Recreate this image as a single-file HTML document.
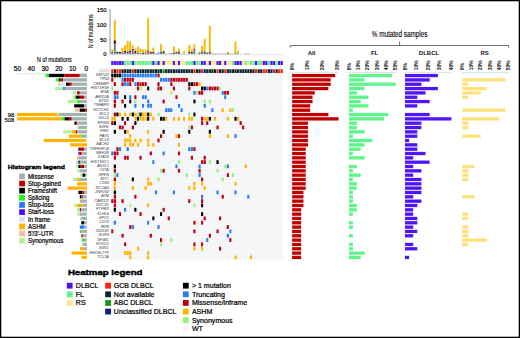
<!DOCTYPE html><html><head><meta charset="utf-8"><title>Mutational landscape</title><style>
html,body{margin:0;padding:0;background:#fff;}
#fig{position:relative;width:520px;height:338px;overflow:hidden;background:#fff;}
svg{position:absolute;left:0;top:0;}
text{font-family:"Liberation Sans", sans-serif;}
</style></head><body><div id="fig">
<svg width="520" height="338" viewBox="0 0 520 338">
<rect x="111.00" y="69.00" width="171.99" height="190.52" fill="#fbfcfd"/>
<rect x="111.20" y="69.25" width="2.22" height="3.83" fill="#ff2410"/>
<rect x="113.77" y="69.25" width="2.22" height="3.83" fill="#0e2828"/>
<rect x="116.33" y="69.25" width="2.22" height="3.83" fill="#ff2410"/>
<rect x="118.90" y="69.25" width="2.22" height="3.83" fill="#ff2410"/>
<rect x="121.47" y="69.25" width="2.22" height="3.83" fill="#0e2828"/>
<rect x="124.04" y="69.25" width="2.22" height="3.83" fill="#0e2828"/>
<rect x="126.60" y="69.25" width="2.22" height="3.83" fill="#0e2828"/>
<rect x="129.17" y="69.25" width="2.22" height="3.83" fill="#0e2828"/>
<rect x="131.74" y="69.25" width="2.22" height="3.83" fill="#ff2410"/>
<rect x="134.30" y="69.25" width="2.22" height="3.83" fill="#0e2828"/>
<rect x="136.87" y="69.25" width="2.22" height="3.83" fill="#0e2828"/>
<rect x="139.44" y="69.25" width="2.22" height="3.83" fill="#0e2828"/>
<rect x="142.00" y="69.25" width="2.22" height="3.83" fill="#0e2828"/>
<rect x="144.57" y="69.25" width="2.22" height="3.83" fill="#0e2828"/>
<rect x="147.14" y="69.25" width="2.22" height="3.83" fill="#0e2828"/>
<rect x="149.70" y="69.25" width="2.22" height="3.83" fill="#0e2828"/>
<rect x="152.27" y="69.25" width="2.22" height="3.83" fill="#0e2828"/>
<rect x="154.84" y="69.25" width="2.22" height="3.83" fill="#0e2828"/>
<rect x="157.41" y="69.25" width="2.22" height="3.83" fill="#0e2828"/>
<rect x="159.97" y="69.25" width="2.22" height="3.83" fill="#0e2828"/>
<rect x="162.54" y="69.25" width="2.22" height="3.83" fill="#179a17"/>
<rect x="165.11" y="69.25" width="2.22" height="3.83" fill="#0e2828"/>
<rect x="167.67" y="69.25" width="2.22" height="3.83" fill="#0e2828"/>
<rect x="170.24" y="69.25" width="2.22" height="3.83" fill="#0e2828"/>
<rect x="172.81" y="69.25" width="2.22" height="3.83" fill="#0e2828"/>
<rect x="175.38" y="69.25" width="2.22" height="3.83" fill="#0e2828"/>
<rect x="177.94" y="69.25" width="2.22" height="3.83" fill="#0a1e90"/>
<rect x="180.51" y="69.25" width="2.22" height="3.83" fill="#0e2828"/>
<rect x="183.08" y="69.25" width="2.22" height="3.83" fill="#0e2828"/>
<rect x="185.64" y="69.25" width="2.22" height="3.83" fill="#0e2828"/>
<rect x="188.21" y="69.25" width="2.22" height="3.83" fill="#0e2828"/>
<rect x="190.78" y="69.25" width="2.22" height="3.83" fill="#0e2828"/>
<rect x="193.34" y="69.25" width="2.22" height="3.83" fill="#ff2410"/>
<rect x="195.91" y="69.25" width="2.22" height="3.83" fill="#0e2828"/>
<rect x="198.48" y="69.25" width="2.22" height="3.83" fill="#0e2828"/>
<rect x="201.04" y="69.25" width="2.22" height="3.83" fill="#ff2410"/>
<rect x="203.61" y="69.25" width="2.22" height="3.83" fill="#0a1e90"/>
<rect x="206.18" y="69.25" width="2.22" height="3.83" fill="#0e2828"/>
<rect x="208.75" y="69.25" width="2.22" height="3.83" fill="#0e2828"/>
<rect x="211.31" y="69.25" width="2.22" height="3.83" fill="#0e2828"/>
<rect x="213.88" y="69.25" width="2.22" height="3.83" fill="#0e2828"/>
<rect x="216.45" y="69.25" width="2.22" height="3.83" fill="#ff2410"/>
<rect x="219.01" y="69.25" width="2.22" height="3.83" fill="#0e2828"/>
<rect x="221.58" y="69.25" width="2.22" height="3.83" fill="#0e2828"/>
<rect x="224.15" y="69.25" width="2.22" height="3.83" fill="#ff2410"/>
<rect x="226.72" y="69.25" width="2.22" height="3.83" fill="#0e2828"/>
<rect x="229.28" y="69.25" width="2.22" height="3.83" fill="#0e2828"/>
<rect x="231.85" y="69.25" width="2.22" height="3.83" fill="#0e2828"/>
<rect x="234.42" y="69.25" width="2.22" height="3.83" fill="#0e2828"/>
<rect x="236.98" y="69.25" width="2.22" height="3.83" fill="#0e2828"/>
<rect x="239.55" y="69.25" width="2.22" height="3.83" fill="#0e2828"/>
<rect x="242.12" y="69.25" width="2.22" height="3.83" fill="#0e2828"/>
<rect x="244.68" y="69.25" width="2.22" height="3.83" fill="#0e2828"/>
<rect x="247.25" y="69.25" width="2.22" height="3.83" fill="#0e2828"/>
<rect x="249.82" y="69.25" width="2.22" height="3.83" fill="#0e2828"/>
<rect x="252.38" y="69.25" width="2.22" height="3.83" fill="#0e2828"/>
<rect x="254.95" y="69.25" width="2.22" height="3.83" fill="#ff2410"/>
<rect x="257.52" y="69.25" width="2.22" height="3.83" fill="#0e2828"/>
<rect x="260.09" y="69.25" width="2.22" height="3.83" fill="#0e2828"/>
<rect x="262.65" y="69.25" width="2.22" height="3.83" fill="#ff2410"/>
<rect x="265.22" y="69.25" width="2.22" height="3.83" fill="#ff2410"/>
<rect x="267.79" y="69.25" width="2.22" height="3.83" fill="#0e2828"/>
<rect x="270.35" y="69.25" width="2.22" height="3.83" fill="#0a1e90"/>
<rect x="272.92" y="69.25" width="2.22" height="3.83" fill="#ff2410"/>
<rect x="275.49" y="69.25" width="2.22" height="3.83" fill="#0e2828"/>
<rect x="278.06" y="69.25" width="2.22" height="3.83" fill="#ff2410"/>
<rect x="280.62" y="69.25" width="2.22" height="3.83" fill="#ff2410"/>
<rect x="111.20" y="73.58" width="2.22" height="3.83" fill="#000000"/>
<rect x="113.77" y="73.58" width="2.22" height="3.83" fill="#000000"/>
<rect x="116.33" y="73.58" width="2.22" height="3.83" fill="#000000"/>
<rect x="118.90" y="73.58" width="2.22" height="3.83" fill="#000000"/>
<rect x="121.47" y="73.58" width="2.22" height="3.83" fill="#2a7cf2"/>
<rect x="124.04" y="73.58" width="2.22" height="3.83" fill="#2a7cf2"/>
<rect x="126.60" y="73.58" width="2.22" height="3.83" fill="#2a7cf2"/>
<rect x="129.17" y="73.58" width="2.22" height="3.83" fill="#2a7cf2"/>
<rect x="131.74" y="73.58" width="2.22" height="3.83" fill="#2a7cf2"/>
<rect x="134.30" y="73.58" width="2.22" height="3.83" fill="#2a7cf2"/>
<rect x="136.87" y="73.58" width="2.22" height="3.83" fill="#2a7cf2"/>
<rect x="139.44" y="73.58" width="2.22" height="3.83" fill="#2a7cf2"/>
<rect x="142.00" y="73.58" width="2.22" height="3.83" fill="#2a7cf2"/>
<rect x="144.57" y="73.58" width="2.22" height="3.83" fill="#2a7cf2"/>
<rect x="147.14" y="73.58" width="2.22" height="3.83" fill="#2a7cf2"/>
<rect x="149.70" y="73.58" width="2.22" height="3.83" fill="#2a7cf2"/>
<rect x="152.27" y="73.58" width="2.22" height="3.83" fill="#2a7cf2"/>
<rect x="154.84" y="73.58" width="2.22" height="3.83" fill="#2a7cf2"/>
<rect x="157.41" y="73.58" width="2.22" height="3.83" fill="#bf0010"/>
<rect x="159.97" y="73.58" width="2.22" height="3.83" fill="#f2f4f6"/>
<rect x="162.54" y="73.58" width="2.22" height="3.83" fill="#f2f4f6"/>
<rect x="165.11" y="73.58" width="2.22" height="3.83" fill="#f2f4f6"/>
<rect x="167.67" y="73.58" width="2.22" height="3.83" fill="#f2f4f6"/>
<rect x="170.24" y="73.58" width="2.22" height="3.83" fill="#f2f4f6"/>
<rect x="172.81" y="73.58" width="2.22" height="3.83" fill="#f2f4f6"/>
<rect x="175.38" y="73.58" width="2.22" height="3.83" fill="#f2f4f6"/>
<rect x="177.94" y="73.58" width="2.22" height="3.83" fill="#f2f4f6"/>
<rect x="180.51" y="73.58" width="2.22" height="3.83" fill="#f2f4f6"/>
<rect x="183.08" y="73.58" width="2.22" height="3.83" fill="#f2f4f6"/>
<rect x="185.64" y="73.58" width="2.22" height="3.83" fill="#f2f4f6"/>
<rect x="188.21" y="73.58" width="2.22" height="3.83" fill="#f2f4f6"/>
<rect x="190.78" y="73.58" width="2.22" height="3.83" fill="#f2f4f6"/>
<rect x="193.34" y="73.58" width="2.22" height="3.83" fill="#f2f4f6"/>
<rect x="195.91" y="73.58" width="2.22" height="3.83" fill="#f2f4f6"/>
<rect x="198.48" y="73.58" width="2.22" height="3.83" fill="#f2f4f6"/>
<rect x="201.04" y="73.58" width="2.22" height="3.83" fill="#f2f4f6"/>
<rect x="203.61" y="73.58" width="2.22" height="3.83" fill="#f2f4f6"/>
<rect x="206.18" y="73.58" width="2.22" height="3.83" fill="#f2f4f6"/>
<rect x="208.75" y="73.58" width="2.22" height="3.83" fill="#f2f4f6"/>
<rect x="211.31" y="73.58" width="2.22" height="3.83" fill="#f2f4f6"/>
<rect x="213.88" y="73.58" width="2.22" height="3.83" fill="#f2f4f6"/>
<rect x="216.45" y="73.58" width="2.22" height="3.83" fill="#f2f4f6"/>
<rect x="219.01" y="73.58" width="2.22" height="3.83" fill="#f2f4f6"/>
<rect x="221.58" y="73.58" width="2.22" height="3.83" fill="#f2f4f6"/>
<rect x="224.15" y="73.58" width="2.22" height="3.83" fill="#f2f4f6"/>
<rect x="226.72" y="73.58" width="2.22" height="3.83" fill="#f2f4f6"/>
<rect x="229.28" y="73.58" width="2.22" height="3.83" fill="#f2f4f6"/>
<rect x="231.85" y="73.58" width="2.22" height="3.83" fill="#f2f4f6"/>
<rect x="234.42" y="73.58" width="2.22" height="3.83" fill="#f2f4f6"/>
<rect x="236.98" y="73.58" width="2.22" height="3.83" fill="#f2f4f6"/>
<rect x="239.55" y="73.58" width="2.22" height="3.83" fill="#f2f4f6"/>
<rect x="242.12" y="73.58" width="2.22" height="3.83" fill="#f2f4f6"/>
<rect x="244.68" y="73.58" width="2.22" height="3.83" fill="#f2f4f6"/>
<rect x="247.25" y="73.58" width="2.22" height="3.83" fill="#f2f4f6"/>
<rect x="249.82" y="73.58" width="2.22" height="3.83" fill="#f2f4f6"/>
<rect x="252.38" y="73.58" width="2.22" height="3.83" fill="#f2f4f6"/>
<rect x="254.95" y="73.58" width="2.22" height="3.83" fill="#f2f4f6"/>
<rect x="257.52" y="73.58" width="2.22" height="3.83" fill="#f2f4f6"/>
<rect x="260.09" y="73.58" width="2.22" height="3.83" fill="#f2f4f6"/>
<rect x="262.65" y="73.58" width="2.22" height="3.83" fill="#f2f4f6"/>
<rect x="265.22" y="73.58" width="2.22" height="3.83" fill="#f2f4f6"/>
<rect x="267.79" y="73.58" width="2.22" height="3.83" fill="#f2f4f6"/>
<rect x="270.35" y="73.58" width="2.22" height="3.83" fill="#f2f4f6"/>
<rect x="272.92" y="73.58" width="2.22" height="3.83" fill="#f2f4f6"/>
<rect x="275.49" y="73.58" width="2.22" height="3.83" fill="#f2f4f6"/>
<rect x="278.06" y="73.58" width="2.22" height="3.83" fill="#f2f4f6"/>
<rect x="280.62" y="73.58" width="2.22" height="3.83" fill="#f2f4f6"/>
<rect x="111.20" y="77.91" width="2.22" height="3.83" fill="#bf0010"/>
<rect x="113.77" y="77.91" width="2.22" height="3.83" fill="#f2f4f6"/>
<rect x="116.33" y="77.91" width="2.22" height="3.83" fill="#f2f4f6"/>
<rect x="118.90" y="77.91" width="2.22" height="3.83" fill="#f2f4f6"/>
<rect x="121.47" y="77.91" width="2.22" height="3.83" fill="#2a7cf2"/>
<rect x="124.04" y="77.91" width="2.22" height="3.83" fill="#bf0010"/>
<rect x="126.60" y="77.91" width="2.22" height="3.83" fill="#bf0010"/>
<rect x="129.17" y="77.91" width="2.22" height="3.83" fill="#bf0010"/>
<rect x="131.74" y="77.91" width="2.22" height="3.83" fill="#bf0010"/>
<rect x="134.30" y="77.91" width="2.22" height="3.83" fill="#f2f4f6"/>
<rect x="136.87" y="77.91" width="2.22" height="3.83" fill="#f2f4f6"/>
<rect x="139.44" y="77.91" width="2.22" height="3.83" fill="#f2f4f6"/>
<rect x="142.00" y="77.91" width="2.22" height="3.83" fill="#f2f4f6"/>
<rect x="144.57" y="77.91" width="2.22" height="3.83" fill="#f2f4f6"/>
<rect x="147.14" y="77.91" width="2.22" height="3.83" fill="#f2f4f6"/>
<rect x="149.70" y="77.91" width="2.22" height="3.83" fill="#f2f4f6"/>
<rect x="152.27" y="77.91" width="2.22" height="3.83" fill="#f2f4f6"/>
<rect x="154.84" y="77.91" width="2.22" height="3.83" fill="#f2f4f6"/>
<rect x="157.41" y="77.91" width="2.22" height="3.83" fill="#f2f4f6"/>
<rect x="159.97" y="77.91" width="2.22" height="3.83" fill="#2a7cf2"/>
<rect x="162.54" y="77.91" width="2.22" height="3.83" fill="#2a7cf2"/>
<rect x="165.11" y="77.91" width="2.22" height="3.83" fill="#2a7cf2"/>
<rect x="167.67" y="77.91" width="2.22" height="3.83" fill="#2a7cf2"/>
<rect x="170.24" y="77.91" width="2.22" height="3.83" fill="#bf0010"/>
<rect x="172.81" y="77.91" width="2.22" height="3.83" fill="#bf0010"/>
<rect x="175.38" y="77.91" width="2.22" height="3.83" fill="#bf0010"/>
<rect x="177.94" y="77.91" width="2.22" height="3.83" fill="#bf0010"/>
<rect x="180.51" y="77.91" width="2.22" height="3.83" fill="#bf0010"/>
<rect x="183.08" y="77.91" width="2.22" height="3.83" fill="#bf0010"/>
<rect x="185.64" y="77.91" width="2.22" height="3.83" fill="#bf0010"/>
<rect x="188.21" y="77.91" width="2.22" height="3.83" fill="#f2f4f6"/>
<rect x="190.78" y="77.91" width="2.22" height="3.83" fill="#f2f4f6"/>
<rect x="193.34" y="77.91" width="2.22" height="3.83" fill="#f2f4f6"/>
<rect x="195.91" y="77.91" width="2.22" height="3.83" fill="#f2f4f6"/>
<rect x="198.48" y="77.91" width="2.22" height="3.83" fill="#f2f4f6"/>
<rect x="201.04" y="77.91" width="2.22" height="3.83" fill="#f2f4f6"/>
<rect x="203.61" y="77.91" width="2.22" height="3.83" fill="#f2f4f6"/>
<rect x="206.18" y="77.91" width="2.22" height="3.83" fill="#f2f4f6"/>
<rect x="208.75" y="77.91" width="2.22" height="3.83" fill="#f2f4f6"/>
<rect x="211.31" y="77.91" width="2.22" height="3.83" fill="#f2f4f6"/>
<rect x="213.88" y="77.91" width="2.22" height="3.83" fill="#f2f4f6"/>
<rect x="216.45" y="77.91" width="2.22" height="3.83" fill="#f2f4f6"/>
<rect x="219.01" y="77.91" width="2.22" height="3.83" fill="#f2f4f6"/>
<rect x="221.58" y="77.91" width="2.22" height="3.83" fill="#f2f4f6"/>
<rect x="224.15" y="77.91" width="2.22" height="3.83" fill="#f2f4f6"/>
<rect x="226.72" y="77.91" width="2.22" height="3.83" fill="#f2f4f6"/>
<rect x="229.28" y="77.91" width="2.22" height="3.83" fill="#f2f4f6"/>
<rect x="231.85" y="77.91" width="2.22" height="3.83" fill="#f2f4f6"/>
<rect x="234.42" y="77.91" width="2.22" height="3.83" fill="#f2f4f6"/>
<rect x="236.98" y="77.91" width="2.22" height="3.83" fill="#f2f4f6"/>
<rect x="239.55" y="77.91" width="2.22" height="3.83" fill="#f2f4f6"/>
<rect x="242.12" y="77.91" width="2.22" height="3.83" fill="#f2f4f6"/>
<rect x="244.68" y="77.91" width="2.22" height="3.83" fill="#f2f4f6"/>
<rect x="247.25" y="77.91" width="2.22" height="3.83" fill="#f2f4f6"/>
<rect x="249.82" y="77.91" width="2.22" height="3.83" fill="#f2f4f6"/>
<rect x="252.38" y="77.91" width="2.22" height="3.83" fill="#f2f4f6"/>
<rect x="254.95" y="77.91" width="2.22" height="3.83" fill="#f2f4f6"/>
<rect x="257.52" y="77.91" width="2.22" height="3.83" fill="#f2f4f6"/>
<rect x="260.09" y="77.91" width="2.22" height="3.83" fill="#f2f4f6"/>
<rect x="262.65" y="77.91" width="2.22" height="3.83" fill="#f2f4f6"/>
<rect x="265.22" y="77.91" width="2.22" height="3.83" fill="#f2f4f6"/>
<rect x="267.79" y="77.91" width="2.22" height="3.83" fill="#f2f4f6"/>
<rect x="270.35" y="77.91" width="2.22" height="3.83" fill="#f2f4f6"/>
<rect x="272.92" y="77.91" width="2.22" height="3.83" fill="#f2f4f6"/>
<rect x="275.49" y="77.91" width="2.22" height="3.83" fill="#f2f4f6"/>
<rect x="278.06" y="77.91" width="2.22" height="3.83" fill="#f2f4f6"/>
<rect x="280.62" y="77.91" width="2.22" height="3.83" fill="#f2f4f6"/>
<rect x="111.20" y="82.24" width="2.22" height="3.83" fill="#f2f4f6"/>
<rect x="113.77" y="82.24" width="2.22" height="3.83" fill="#bf0010"/>
<rect x="116.33" y="82.24" width="2.22" height="3.83" fill="#f2f4f6"/>
<rect x="118.90" y="82.24" width="2.22" height="3.83" fill="#f2f4f6"/>
<rect x="121.47" y="82.24" width="2.22" height="3.83" fill="#bf0010"/>
<rect x="124.04" y="82.24" width="2.22" height="3.83" fill="#2a7cf2"/>
<rect x="126.60" y="82.24" width="2.22" height="3.83" fill="#2a7cf2"/>
<rect x="129.17" y="82.24" width="2.22" height="3.83" fill="#bf0010"/>
<rect x="131.74" y="82.24" width="2.22" height="3.83" fill="#f2f4f6"/>
<rect x="134.30" y="82.24" width="2.22" height="3.83" fill="#2a7cf2"/>
<rect x="136.87" y="82.24" width="2.22" height="3.83" fill="#bf0010"/>
<rect x="139.44" y="82.24" width="2.22" height="3.83" fill="#bf0010"/>
<rect x="142.00" y="82.24" width="2.22" height="3.83" fill="#bf0010"/>
<rect x="144.57" y="82.24" width="2.22" height="3.83" fill="#bf0010"/>
<rect x="147.14" y="82.24" width="2.22" height="3.83" fill="#f2f4f6"/>
<rect x="149.70" y="82.24" width="2.22" height="3.83" fill="#f2f4f6"/>
<rect x="152.27" y="82.24" width="2.22" height="3.83" fill="#f2f4f6"/>
<rect x="154.84" y="82.24" width="2.22" height="3.83" fill="#f2f4f6"/>
<rect x="157.41" y="82.24" width="2.22" height="3.83" fill="#bf0010"/>
<rect x="159.97" y="82.24" width="2.22" height="3.83" fill="#f2f4f6"/>
<rect x="162.54" y="82.24" width="2.22" height="3.83" fill="#f2f4f6"/>
<rect x="165.11" y="82.24" width="2.22" height="3.83" fill="#f2f4f6"/>
<rect x="167.67" y="82.24" width="2.22" height="3.83" fill="#f2f4f6"/>
<rect x="170.24" y="82.24" width="2.22" height="3.83" fill="#bf0010"/>
<rect x="172.81" y="82.24" width="2.22" height="3.83" fill="#f2f4f6"/>
<rect x="175.38" y="82.24" width="2.22" height="3.83" fill="#f2f4f6"/>
<rect x="177.94" y="82.24" width="2.22" height="3.83" fill="#f2f4f6"/>
<rect x="180.51" y="82.24" width="2.22" height="3.83" fill="#f2f4f6"/>
<rect x="183.08" y="82.24" width="2.22" height="3.83" fill="#f2f4f6"/>
<rect x="185.64" y="82.24" width="2.22" height="3.83" fill="#f2f4f6"/>
<rect x="188.21" y="82.24" width="2.22" height="3.83" fill="#000000"/>
<rect x="190.78" y="82.24" width="2.22" height="3.83" fill="#000000"/>
<rect x="193.34" y="82.24" width="2.22" height="3.83" fill="#bf0010"/>
<rect x="195.91" y="82.24" width="2.22" height="3.83" fill="#bf0010"/>
<rect x="198.48" y="82.24" width="2.22" height="3.83" fill="#ffb300"/>
<rect x="201.04" y="82.24" width="2.22" height="3.83" fill="#f2f4f6"/>
<rect x="203.61" y="82.24" width="2.22" height="3.83" fill="#f2f4f6"/>
<rect x="206.18" y="82.24" width="2.22" height="3.83" fill="#f2f4f6"/>
<rect x="208.75" y="82.24" width="2.22" height="3.83" fill="#f2f4f6"/>
<rect x="211.31" y="82.24" width="2.22" height="3.83" fill="#f2f4f6"/>
<rect x="213.88" y="82.24" width="2.22" height="3.83" fill="#f2f4f6"/>
<rect x="216.45" y="82.24" width="2.22" height="3.83" fill="#f2f4f6"/>
<rect x="219.01" y="82.24" width="2.22" height="3.83" fill="#f2f4f6"/>
<rect x="221.58" y="82.24" width="2.22" height="3.83" fill="#f2f4f6"/>
<rect x="224.15" y="82.24" width="2.22" height="3.83" fill="#f2f4f6"/>
<rect x="226.72" y="82.24" width="2.22" height="3.83" fill="#f2f4f6"/>
<rect x="229.28" y="82.24" width="2.22" height="3.83" fill="#f2f4f6"/>
<rect x="231.85" y="82.24" width="2.22" height="3.83" fill="#f2f4f6"/>
<rect x="234.42" y="82.24" width="2.22" height="3.83" fill="#f2f4f6"/>
<rect x="236.98" y="82.24" width="2.22" height="3.83" fill="#f2f4f6"/>
<rect x="239.55" y="82.24" width="2.22" height="3.83" fill="#f2f4f6"/>
<rect x="242.12" y="82.24" width="2.22" height="3.83" fill="#f2f4f6"/>
<rect x="244.68" y="82.24" width="2.22" height="3.83" fill="#f2f4f6"/>
<rect x="247.25" y="82.24" width="2.22" height="3.83" fill="#f2f4f6"/>
<rect x="249.82" y="82.24" width="2.22" height="3.83" fill="#f2f4f6"/>
<rect x="252.38" y="82.24" width="2.22" height="3.83" fill="#f2f4f6"/>
<rect x="254.95" y="82.24" width="2.22" height="3.83" fill="#f2f4f6"/>
<rect x="257.52" y="82.24" width="2.22" height="3.83" fill="#f2f4f6"/>
<rect x="260.09" y="82.24" width="2.22" height="3.83" fill="#f2f4f6"/>
<rect x="262.65" y="82.24" width="2.22" height="3.83" fill="#f2f4f6"/>
<rect x="265.22" y="82.24" width="2.22" height="3.83" fill="#f2f4f6"/>
<rect x="267.79" y="82.24" width="2.22" height="3.83" fill="#f2f4f6"/>
<rect x="270.35" y="82.24" width="2.22" height="3.83" fill="#f2f4f6"/>
<rect x="272.92" y="82.24" width="2.22" height="3.83" fill="#f2f4f6"/>
<rect x="275.49" y="82.24" width="2.22" height="3.83" fill="#f2f4f6"/>
<rect x="278.06" y="82.24" width="2.22" height="3.83" fill="#f2f4f6"/>
<rect x="280.62" y="82.24" width="2.22" height="3.83" fill="#f2f4f6"/>
<rect x="111.20" y="86.57" width="2.22" height="3.83" fill="#9ff07a"/>
<rect x="113.77" y="86.57" width="2.22" height="3.83" fill="#f2f4f6"/>
<rect x="116.33" y="86.57" width="2.22" height="3.83" fill="#f2f4f6"/>
<rect x="118.90" y="86.57" width="2.22" height="3.83" fill="#f2f4f6"/>
<rect x="121.47" y="86.57" width="2.22" height="3.83" fill="#f2f4f6"/>
<rect x="124.04" y="86.57" width="2.22" height="3.83" fill="#f2f4f6"/>
<rect x="126.60" y="86.57" width="2.22" height="3.83" fill="#f2f4f6"/>
<rect x="129.17" y="86.57" width="2.22" height="3.83" fill="#f2f4f6"/>
<rect x="131.74" y="86.57" width="2.22" height="3.83" fill="#f2f4f6"/>
<rect x="134.30" y="86.57" width="2.22" height="3.83" fill="#f2f4f6"/>
<rect x="136.87" y="86.57" width="2.22" height="3.83" fill="#bf0010"/>
<rect x="139.44" y="86.57" width="2.22" height="3.83" fill="#9ff07a"/>
<rect x="142.00" y="86.57" width="2.22" height="3.83" fill="#f2f4f6"/>
<rect x="144.57" y="86.57" width="2.22" height="3.83" fill="#f2f4f6"/>
<rect x="147.14" y="86.57" width="2.22" height="3.83" fill="#000000"/>
<rect x="149.70" y="86.57" width="2.22" height="3.83" fill="#f2f4f6"/>
<rect x="152.27" y="86.57" width="2.22" height="3.83" fill="#f2f4f6"/>
<rect x="154.84" y="86.57" width="2.22" height="3.83" fill="#f2f4f6"/>
<rect x="157.41" y="86.57" width="2.22" height="3.83" fill="#bf0010"/>
<rect x="159.97" y="86.57" width="2.22" height="3.83" fill="#bf0010"/>
<rect x="162.54" y="86.57" width="2.22" height="3.83" fill="#f2f4f6"/>
<rect x="165.11" y="86.57" width="2.22" height="3.83" fill="#f2f4f6"/>
<rect x="167.67" y="86.57" width="2.22" height="3.83" fill="#f2f4f6"/>
<rect x="170.24" y="86.57" width="2.22" height="3.83" fill="#f2f4f6"/>
<rect x="172.81" y="86.57" width="2.22" height="3.83" fill="#bf0010"/>
<rect x="175.38" y="86.57" width="2.22" height="3.83" fill="#f2f4f6"/>
<rect x="177.94" y="86.57" width="2.22" height="3.83" fill="#f2f4f6"/>
<rect x="180.51" y="86.57" width="2.22" height="3.83" fill="#f2f4f6"/>
<rect x="183.08" y="86.57" width="2.22" height="3.83" fill="#f2f4f6"/>
<rect x="185.64" y="86.57" width="2.22" height="3.83" fill="#f2f4f6"/>
<rect x="188.21" y="86.57" width="2.22" height="3.83" fill="#bf0010"/>
<rect x="190.78" y="86.57" width="2.22" height="3.83" fill="#f2f4f6"/>
<rect x="193.34" y="86.57" width="2.22" height="3.83" fill="#f2f4f6"/>
<rect x="195.91" y="86.57" width="2.22" height="3.83" fill="#f2f4f6"/>
<rect x="198.48" y="86.57" width="2.22" height="3.83" fill="#f2f4f6"/>
<rect x="201.04" y="86.57" width="2.22" height="3.83" fill="#000000"/>
<rect x="203.61" y="86.57" width="2.22" height="3.83" fill="#000000"/>
<rect x="206.18" y="86.57" width="2.22" height="3.83" fill="#2a7cf2"/>
<rect x="208.75" y="86.57" width="2.22" height="3.83" fill="#bf0010"/>
<rect x="211.31" y="86.57" width="2.22" height="3.83" fill="#bf0010"/>
<rect x="213.88" y="86.57" width="2.22" height="3.83" fill="#bf0010"/>
<rect x="216.45" y="86.57" width="2.22" height="3.83" fill="#bf0010"/>
<rect x="219.01" y="86.57" width="2.22" height="3.83" fill="#9ff07a"/>
<rect x="221.58" y="86.57" width="2.22" height="3.83" fill="#f2f4f6"/>
<rect x="224.15" y="86.57" width="2.22" height="3.83" fill="#f2f4f6"/>
<rect x="226.72" y="86.57" width="2.22" height="3.83" fill="#f2f4f6"/>
<rect x="229.28" y="86.57" width="2.22" height="3.83" fill="#f2f4f6"/>
<rect x="231.85" y="86.57" width="2.22" height="3.83" fill="#f2f4f6"/>
<rect x="234.42" y="86.57" width="2.22" height="3.83" fill="#f2f4f6"/>
<rect x="236.98" y="86.57" width="2.22" height="3.83" fill="#f2f4f6"/>
<rect x="239.55" y="86.57" width="2.22" height="3.83" fill="#f2f4f6"/>
<rect x="242.12" y="86.57" width="2.22" height="3.83" fill="#f2f4f6"/>
<rect x="244.68" y="86.57" width="2.22" height="3.83" fill="#f2f4f6"/>
<rect x="247.25" y="86.57" width="2.22" height="3.83" fill="#f2f4f6"/>
<rect x="249.82" y="86.57" width="2.22" height="3.83" fill="#f2f4f6"/>
<rect x="252.38" y="86.57" width="2.22" height="3.83" fill="#f2f4f6"/>
<rect x="254.95" y="86.57" width="2.22" height="3.83" fill="#f2f4f6"/>
<rect x="257.52" y="86.57" width="2.22" height="3.83" fill="#f2f4f6"/>
<rect x="260.09" y="86.57" width="2.22" height="3.83" fill="#f2f4f6"/>
<rect x="262.65" y="86.57" width="2.22" height="3.83" fill="#f2f4f6"/>
<rect x="265.22" y="86.57" width="2.22" height="3.83" fill="#f2f4f6"/>
<rect x="267.79" y="86.57" width="2.22" height="3.83" fill="#f2f4f6"/>
<rect x="270.35" y="86.57" width="2.22" height="3.83" fill="#f2f4f6"/>
<rect x="272.92" y="86.57" width="2.22" height="3.83" fill="#f2f4f6"/>
<rect x="275.49" y="86.57" width="2.22" height="3.83" fill="#f2f4f6"/>
<rect x="278.06" y="86.57" width="2.22" height="3.83" fill="#f2f4f6"/>
<rect x="280.62" y="86.57" width="2.22" height="3.83" fill="#f2f4f6"/>
<rect x="111.20" y="90.90" width="2.22" height="3.83" fill="#f2f4f6"/>
<rect x="113.77" y="90.90" width="2.22" height="3.83" fill="#bf0010"/>
<rect x="116.33" y="90.90" width="2.22" height="3.83" fill="#bf0010"/>
<rect x="118.90" y="90.90" width="2.22" height="3.83" fill="#f2f4f6"/>
<rect x="121.47" y="90.90" width="2.22" height="3.83" fill="#f2f4f6"/>
<rect x="124.04" y="90.90" width="2.22" height="3.83" fill="#f2f4f6"/>
<rect x="126.60" y="90.90" width="2.22" height="3.83" fill="#f2f4f6"/>
<rect x="129.17" y="90.90" width="2.22" height="3.83" fill="#f2f4f6"/>
<rect x="131.74" y="90.90" width="2.22" height="3.83" fill="#f2f4f6"/>
<rect x="134.30" y="90.90" width="2.22" height="3.83" fill="#f2f4f6"/>
<rect x="136.87" y="90.90" width="2.22" height="3.83" fill="#f2f4f6"/>
<rect x="139.44" y="90.90" width="2.22" height="3.83" fill="#f2f4f6"/>
<rect x="142.00" y="90.90" width="2.22" height="3.83" fill="#f2f4f6"/>
<rect x="144.57" y="90.90" width="2.22" height="3.83" fill="#f2f4f6"/>
<rect x="147.14" y="90.90" width="2.22" height="3.83" fill="#f2f4f6"/>
<rect x="149.70" y="90.90" width="2.22" height="3.83" fill="#f2f4f6"/>
<rect x="152.27" y="90.90" width="2.22" height="3.83" fill="#f2f4f6"/>
<rect x="154.84" y="90.90" width="2.22" height="3.83" fill="#f2f4f6"/>
<rect x="157.41" y="90.90" width="2.22" height="3.83" fill="#f2f4f6"/>
<rect x="159.97" y="90.90" width="2.22" height="3.83" fill="#f2f4f6"/>
<rect x="162.54" y="90.90" width="2.22" height="3.83" fill="#f2f4f6"/>
<rect x="165.11" y="90.90" width="2.22" height="3.83" fill="#f2f4f6"/>
<rect x="167.67" y="90.90" width="2.22" height="3.83" fill="#f2f4f6"/>
<rect x="170.24" y="90.90" width="2.22" height="3.83" fill="#9ff07a"/>
<rect x="172.81" y="90.90" width="2.22" height="3.83" fill="#f2f4f6"/>
<rect x="175.38" y="90.90" width="2.22" height="3.83" fill="#f2f4f6"/>
<rect x="177.94" y="90.90" width="2.22" height="3.83" fill="#f2f4f6"/>
<rect x="180.51" y="90.90" width="2.22" height="3.83" fill="#f2f4f6"/>
<rect x="183.08" y="90.90" width="2.22" height="3.83" fill="#f2f4f6"/>
<rect x="185.64" y="90.90" width="2.22" height="3.83" fill="#f2f4f6"/>
<rect x="188.21" y="90.90" width="2.22" height="3.83" fill="#f2f4f6"/>
<rect x="190.78" y="90.90" width="2.22" height="3.83" fill="#f2f4f6"/>
<rect x="193.34" y="90.90" width="2.22" height="3.83" fill="#2a7cf2"/>
<rect x="195.91" y="90.90" width="2.22" height="3.83" fill="#9ff07a"/>
<rect x="198.48" y="90.90" width="2.22" height="3.83" fill="#bf0010"/>
<rect x="201.04" y="90.90" width="2.22" height="3.83" fill="#bf0010"/>
<rect x="203.61" y="90.90" width="2.22" height="3.83" fill="#f2f4f6"/>
<rect x="206.18" y="90.90" width="2.22" height="3.83" fill="#f2f4f6"/>
<rect x="208.75" y="90.90" width="2.22" height="3.83" fill="#f2f4f6"/>
<rect x="211.31" y="90.90" width="2.22" height="3.83" fill="#f2f4f6"/>
<rect x="213.88" y="90.90" width="2.22" height="3.83" fill="#f2f4f6"/>
<rect x="216.45" y="90.90" width="2.22" height="3.83" fill="#f2f4f6"/>
<rect x="219.01" y="90.90" width="2.22" height="3.83" fill="#f2f4f6"/>
<rect x="221.58" y="90.90" width="2.22" height="3.83" fill="#2a7cf2"/>
<rect x="224.15" y="90.90" width="2.22" height="3.83" fill="#bf0010"/>
<rect x="226.72" y="90.90" width="2.22" height="3.83" fill="#bf0010"/>
<rect x="229.28" y="90.90" width="2.22" height="3.83" fill="#f2f4f6"/>
<rect x="231.85" y="90.90" width="2.22" height="3.83" fill="#f2f4f6"/>
<rect x="234.42" y="90.90" width="2.22" height="3.83" fill="#f2f4f6"/>
<rect x="236.98" y="90.90" width="2.22" height="3.83" fill="#f2f4f6"/>
<rect x="239.55" y="90.90" width="2.22" height="3.83" fill="#f2f4f6"/>
<rect x="242.12" y="90.90" width="2.22" height="3.83" fill="#f2f4f6"/>
<rect x="244.68" y="90.90" width="2.22" height="3.83" fill="#f2f4f6"/>
<rect x="247.25" y="90.90" width="2.22" height="3.83" fill="#f2f4f6"/>
<rect x="249.82" y="90.90" width="2.22" height="3.83" fill="#f2f4f6"/>
<rect x="252.38" y="90.90" width="2.22" height="3.83" fill="#f2f4f6"/>
<rect x="254.95" y="90.90" width="2.22" height="3.83" fill="#f2f4f6"/>
<rect x="257.52" y="90.90" width="2.22" height="3.83" fill="#f2f4f6"/>
<rect x="260.09" y="90.90" width="2.22" height="3.83" fill="#f2f4f6"/>
<rect x="262.65" y="90.90" width="2.22" height="3.83" fill="#f2f4f6"/>
<rect x="265.22" y="90.90" width="2.22" height="3.83" fill="#f2f4f6"/>
<rect x="267.79" y="90.90" width="2.22" height="3.83" fill="#f2f4f6"/>
<rect x="270.35" y="90.90" width="2.22" height="3.83" fill="#f2f4f6"/>
<rect x="272.92" y="90.90" width="2.22" height="3.83" fill="#f2f4f6"/>
<rect x="275.49" y="90.90" width="2.22" height="3.83" fill="#f2f4f6"/>
<rect x="278.06" y="90.90" width="2.22" height="3.83" fill="#f2f4f6"/>
<rect x="280.62" y="90.90" width="2.22" height="3.83" fill="#f2f4f6"/>
<rect x="111.20" y="95.23" width="2.22" height="3.83" fill="#f2f4f6"/>
<rect x="113.77" y="95.23" width="2.22" height="3.83" fill="#2a7cf2"/>
<rect x="116.33" y="95.23" width="2.22" height="3.83" fill="#2a7cf2"/>
<rect x="118.90" y="95.23" width="2.22" height="3.83" fill="#f2f4f6"/>
<rect x="121.47" y="95.23" width="2.22" height="3.83" fill="#f2f4f6"/>
<rect x="124.04" y="95.23" width="2.22" height="3.83" fill="#000000"/>
<rect x="126.60" y="95.23" width="2.22" height="3.83" fill="#f2f4f6"/>
<rect x="129.17" y="95.23" width="2.22" height="3.83" fill="#2a7cf2"/>
<rect x="131.74" y="95.23" width="2.22" height="3.83" fill="#f2f4f6"/>
<rect x="134.30" y="95.23" width="2.22" height="3.83" fill="#bf0010"/>
<rect x="136.87" y="95.23" width="2.22" height="3.83" fill="#f2f4f6"/>
<rect x="139.44" y="95.23" width="2.22" height="3.83" fill="#f2f4f6"/>
<rect x="142.00" y="95.23" width="2.22" height="3.83" fill="#2a7cf2"/>
<rect x="144.57" y="95.23" width="2.22" height="3.83" fill="#2a7cf2"/>
<rect x="147.14" y="95.23" width="2.22" height="3.83" fill="#f2f4f6"/>
<rect x="149.70" y="95.23" width="2.22" height="3.83" fill="#f2f4f6"/>
<rect x="152.27" y="95.23" width="2.22" height="3.83" fill="#f2f4f6"/>
<rect x="154.84" y="95.23" width="2.22" height="3.83" fill="#f2f4f6"/>
<rect x="157.41" y="95.23" width="2.22" height="3.83" fill="#f2f4f6"/>
<rect x="159.97" y="95.23" width="2.22" height="3.83" fill="#f2f4f6"/>
<rect x="162.54" y="95.23" width="2.22" height="3.83" fill="#f2f4f6"/>
<rect x="165.11" y="95.23" width="2.22" height="3.83" fill="#f2f4f6"/>
<rect x="167.67" y="95.23" width="2.22" height="3.83" fill="#f2f4f6"/>
<rect x="170.24" y="95.23" width="2.22" height="3.83" fill="#f2f4f6"/>
<rect x="172.81" y="95.23" width="2.22" height="3.83" fill="#f2f4f6"/>
<rect x="175.38" y="95.23" width="2.22" height="3.83" fill="#bf0010"/>
<rect x="177.94" y="95.23" width="2.22" height="3.83" fill="#f2f4f6"/>
<rect x="180.51" y="95.23" width="2.22" height="3.83" fill="#f2f4f6"/>
<rect x="183.08" y="95.23" width="2.22" height="3.83" fill="#f2f4f6"/>
<rect x="185.64" y="95.23" width="2.22" height="3.83" fill="#f2f4f6"/>
<rect x="188.21" y="95.23" width="2.22" height="3.83" fill="#f2f4f6"/>
<rect x="190.78" y="95.23" width="2.22" height="3.83" fill="#f2f4f6"/>
<rect x="193.34" y="95.23" width="2.22" height="3.83" fill="#f2f4f6"/>
<rect x="195.91" y="95.23" width="2.22" height="3.83" fill="#f2f4f6"/>
<rect x="198.48" y="95.23" width="2.22" height="3.83" fill="#f2f4f6"/>
<rect x="201.04" y="95.23" width="2.22" height="3.83" fill="#f2f4f6"/>
<rect x="203.61" y="95.23" width="2.22" height="3.83" fill="#f2f4f6"/>
<rect x="206.18" y="95.23" width="2.22" height="3.83" fill="#f2f4f6"/>
<rect x="208.75" y="95.23" width="2.22" height="3.83" fill="#f2f4f6"/>
<rect x="211.31" y="95.23" width="2.22" height="3.83" fill="#f2f4f6"/>
<rect x="213.88" y="95.23" width="2.22" height="3.83" fill="#f2f4f6"/>
<rect x="216.45" y="95.23" width="2.22" height="3.83" fill="#f2f4f6"/>
<rect x="219.01" y="95.23" width="2.22" height="3.83" fill="#f2f4f6"/>
<rect x="221.58" y="95.23" width="2.22" height="3.83" fill="#f2f4f6"/>
<rect x="224.15" y="95.23" width="2.22" height="3.83" fill="#2a7cf2"/>
<rect x="226.72" y="95.23" width="2.22" height="3.83" fill="#f2f4f6"/>
<rect x="229.28" y="95.23" width="2.22" height="3.83" fill="#f2f4f6"/>
<rect x="231.85" y="95.23" width="2.22" height="3.83" fill="#f2f4f6"/>
<rect x="234.42" y="95.23" width="2.22" height="3.83" fill="#f2f4f6"/>
<rect x="236.98" y="95.23" width="2.22" height="3.83" fill="#f2f4f6"/>
<rect x="239.55" y="95.23" width="2.22" height="3.83" fill="#f2f4f6"/>
<rect x="242.12" y="95.23" width="2.22" height="3.83" fill="#f2f4f6"/>
<rect x="244.68" y="95.23" width="2.22" height="3.83" fill="#f2f4f6"/>
<rect x="247.25" y="95.23" width="2.22" height="3.83" fill="#f2f4f6"/>
<rect x="249.82" y="95.23" width="2.22" height="3.83" fill="#f2f4f6"/>
<rect x="252.38" y="95.23" width="2.22" height="3.83" fill="#f2f4f6"/>
<rect x="254.95" y="95.23" width="2.22" height="3.83" fill="#f2f4f6"/>
<rect x="257.52" y="95.23" width="2.22" height="3.83" fill="#f2f4f6"/>
<rect x="260.09" y="95.23" width="2.22" height="3.83" fill="#f2f4f6"/>
<rect x="262.65" y="95.23" width="2.22" height="3.83" fill="#f2f4f6"/>
<rect x="265.22" y="95.23" width="2.22" height="3.83" fill="#f2f4f6"/>
<rect x="267.79" y="95.23" width="2.22" height="3.83" fill="#f2f4f6"/>
<rect x="270.35" y="95.23" width="2.22" height="3.83" fill="#f2f4f6"/>
<rect x="272.92" y="95.23" width="2.22" height="3.83" fill="#f2f4f6"/>
<rect x="275.49" y="95.23" width="2.22" height="3.83" fill="#f2f4f6"/>
<rect x="278.06" y="95.23" width="2.22" height="3.83" fill="#f2f4f6"/>
<rect x="280.62" y="95.23" width="2.22" height="3.83" fill="#f2f4f6"/>
<rect x="111.20" y="99.56" width="2.22" height="3.83" fill="#f2f4f6"/>
<rect x="113.77" y="99.56" width="2.22" height="3.83" fill="#bf0010"/>
<rect x="116.33" y="99.56" width="2.22" height="3.83" fill="#f2f4f6"/>
<rect x="118.90" y="99.56" width="2.22" height="3.83" fill="#f2f4f6"/>
<rect x="121.47" y="99.56" width="2.22" height="3.83" fill="#bf0010"/>
<rect x="124.04" y="99.56" width="2.22" height="3.83" fill="#f2f4f6"/>
<rect x="126.60" y="99.56" width="2.22" height="3.83" fill="#f2f4f6"/>
<rect x="129.17" y="99.56" width="2.22" height="3.83" fill="#000000"/>
<rect x="131.74" y="99.56" width="2.22" height="3.83" fill="#f2f4f6"/>
<rect x="134.30" y="99.56" width="2.22" height="3.83" fill="#9ff07a"/>
<rect x="136.87" y="99.56" width="2.22" height="3.83" fill="#f2f4f6"/>
<rect x="139.44" y="99.56" width="2.22" height="3.83" fill="#f2f4f6"/>
<rect x="142.00" y="99.56" width="2.22" height="3.83" fill="#f2f4f6"/>
<rect x="144.57" y="99.56" width="2.22" height="3.83" fill="#f2f4f6"/>
<rect x="147.14" y="99.56" width="2.22" height="3.83" fill="#2a7cf2"/>
<rect x="149.70" y="99.56" width="2.22" height="3.83" fill="#f2f4f6"/>
<rect x="152.27" y="99.56" width="2.22" height="3.83" fill="#f2f4f6"/>
<rect x="154.84" y="99.56" width="2.22" height="3.83" fill="#f2f4f6"/>
<rect x="157.41" y="99.56" width="2.22" height="3.83" fill="#f2f4f6"/>
<rect x="159.97" y="99.56" width="2.22" height="3.83" fill="#f2f4f6"/>
<rect x="162.54" y="99.56" width="2.22" height="3.83" fill="#bf0010"/>
<rect x="165.11" y="99.56" width="2.22" height="3.83" fill="#f2f4f6"/>
<rect x="167.67" y="99.56" width="2.22" height="3.83" fill="#f2f4f6"/>
<rect x="170.24" y="99.56" width="2.22" height="3.83" fill="#f2f4f6"/>
<rect x="172.81" y="99.56" width="2.22" height="3.83" fill="#f2f4f6"/>
<rect x="175.38" y="99.56" width="2.22" height="3.83" fill="#f2f4f6"/>
<rect x="177.94" y="99.56" width="2.22" height="3.83" fill="#f2f4f6"/>
<rect x="180.51" y="99.56" width="2.22" height="3.83" fill="#f2f4f6"/>
<rect x="183.08" y="99.56" width="2.22" height="3.83" fill="#f2f4f6"/>
<rect x="185.64" y="99.56" width="2.22" height="3.83" fill="#f2f4f6"/>
<rect x="188.21" y="99.56" width="2.22" height="3.83" fill="#f2f4f6"/>
<rect x="190.78" y="99.56" width="2.22" height="3.83" fill="#f2f4f6"/>
<rect x="193.34" y="99.56" width="2.22" height="3.83" fill="#000000"/>
<rect x="195.91" y="99.56" width="2.22" height="3.83" fill="#f2f4f6"/>
<rect x="198.48" y="99.56" width="2.22" height="3.83" fill="#f2f4f6"/>
<rect x="201.04" y="99.56" width="2.22" height="3.83" fill="#f2f4f6"/>
<rect x="203.61" y="99.56" width="2.22" height="3.83" fill="#9ff07a"/>
<rect x="206.18" y="99.56" width="2.22" height="3.83" fill="#f2f4f6"/>
<rect x="208.75" y="99.56" width="2.22" height="3.83" fill="#9ff07a"/>
<rect x="211.31" y="99.56" width="2.22" height="3.83" fill="#f2f4f6"/>
<rect x="213.88" y="99.56" width="2.22" height="3.83" fill="#f2f4f6"/>
<rect x="216.45" y="99.56" width="2.22" height="3.83" fill="#f2f4f6"/>
<rect x="219.01" y="99.56" width="2.22" height="3.83" fill="#f2f4f6"/>
<rect x="221.58" y="99.56" width="2.22" height="3.83" fill="#f2f4f6"/>
<rect x="224.15" y="99.56" width="2.22" height="3.83" fill="#f2f4f6"/>
<rect x="226.72" y="99.56" width="2.22" height="3.83" fill="#f2f4f6"/>
<rect x="229.28" y="99.56" width="2.22" height="3.83" fill="#f2f4f6"/>
<rect x="231.85" y="99.56" width="2.22" height="3.83" fill="#f2f4f6"/>
<rect x="234.42" y="99.56" width="2.22" height="3.83" fill="#f2f4f6"/>
<rect x="236.98" y="99.56" width="2.22" height="3.83" fill="#f2f4f6"/>
<rect x="239.55" y="99.56" width="2.22" height="3.83" fill="#f2f4f6"/>
<rect x="242.12" y="99.56" width="2.22" height="3.83" fill="#f2f4f6"/>
<rect x="244.68" y="99.56" width="2.22" height="3.83" fill="#f2f4f6"/>
<rect x="247.25" y="99.56" width="2.22" height="3.83" fill="#f2f4f6"/>
<rect x="249.82" y="99.56" width="2.22" height="3.83" fill="#f2f4f6"/>
<rect x="252.38" y="99.56" width="2.22" height="3.83" fill="#f2f4f6"/>
<rect x="254.95" y="99.56" width="2.22" height="3.83" fill="#f2f4f6"/>
<rect x="257.52" y="99.56" width="2.22" height="3.83" fill="#f2f4f6"/>
<rect x="260.09" y="99.56" width="2.22" height="3.83" fill="#f2f4f6"/>
<rect x="262.65" y="99.56" width="2.22" height="3.83" fill="#f2f4f6"/>
<rect x="265.22" y="99.56" width="2.22" height="3.83" fill="#f2f4f6"/>
<rect x="267.79" y="99.56" width="2.22" height="3.83" fill="#f2f4f6"/>
<rect x="270.35" y="99.56" width="2.22" height="3.83" fill="#f2f4f6"/>
<rect x="272.92" y="99.56" width="2.22" height="3.83" fill="#f2f4f6"/>
<rect x="275.49" y="99.56" width="2.22" height="3.83" fill="#f2f4f6"/>
<rect x="278.06" y="99.56" width="2.22" height="3.83" fill="#f2f4f6"/>
<rect x="280.62" y="99.56" width="2.22" height="3.83" fill="#f2f4f6"/>
<rect x="111.20" y="103.89" width="2.22" height="3.83" fill="#f2f4f6"/>
<rect x="113.77" y="103.89" width="2.22" height="3.83" fill="#bf0010"/>
<rect x="116.33" y="103.89" width="2.22" height="3.83" fill="#f2f4f6"/>
<rect x="118.90" y="103.89" width="2.22" height="3.83" fill="#f2f4f6"/>
<rect x="121.47" y="103.89" width="2.22" height="3.83" fill="#f2f4f6"/>
<rect x="124.04" y="103.89" width="2.22" height="3.83" fill="#000000"/>
<rect x="126.60" y="103.89" width="2.22" height="3.83" fill="#f2f4f6"/>
<rect x="129.17" y="103.89" width="2.22" height="3.83" fill="#f2f4f6"/>
<rect x="131.74" y="103.89" width="2.22" height="3.83" fill="#f2f4f6"/>
<rect x="134.30" y="103.89" width="2.22" height="3.83" fill="#2a7cf2"/>
<rect x="136.87" y="103.89" width="2.22" height="3.83" fill="#f2f4f6"/>
<rect x="139.44" y="103.89" width="2.22" height="3.83" fill="#f2f4f6"/>
<rect x="142.00" y="103.89" width="2.22" height="3.83" fill="#2a7cf2"/>
<rect x="144.57" y="103.89" width="2.22" height="3.83" fill="#f2f4f6"/>
<rect x="147.14" y="103.89" width="2.22" height="3.83" fill="#2a7cf2"/>
<rect x="149.70" y="103.89" width="2.22" height="3.83" fill="#2a7cf2"/>
<rect x="152.27" y="103.89" width="2.22" height="3.83" fill="#f2f4f6"/>
<rect x="154.84" y="103.89" width="2.22" height="3.83" fill="#f2f4f6"/>
<rect x="157.41" y="103.89" width="2.22" height="3.83" fill="#f2f4f6"/>
<rect x="159.97" y="103.89" width="2.22" height="3.83" fill="#f2f4f6"/>
<rect x="162.54" y="103.89" width="2.22" height="3.83" fill="#f2f4f6"/>
<rect x="165.11" y="103.89" width="2.22" height="3.83" fill="#f2f4f6"/>
<rect x="167.67" y="103.89" width="2.22" height="3.83" fill="#f2f4f6"/>
<rect x="170.24" y="103.89" width="2.22" height="3.83" fill="#f2f4f6"/>
<rect x="172.81" y="103.89" width="2.22" height="3.83" fill="#f2f4f6"/>
<rect x="175.38" y="103.89" width="2.22" height="3.83" fill="#f2f4f6"/>
<rect x="177.94" y="103.89" width="2.22" height="3.83" fill="#2a7cf2"/>
<rect x="180.51" y="103.89" width="2.22" height="3.83" fill="#f2f4f6"/>
<rect x="183.08" y="103.89" width="2.22" height="3.83" fill="#f2f4f6"/>
<rect x="185.64" y="103.89" width="2.22" height="3.83" fill="#f2f4f6"/>
<rect x="188.21" y="103.89" width="2.22" height="3.83" fill="#f2f4f6"/>
<rect x="190.78" y="103.89" width="2.22" height="3.83" fill="#f2f4f6"/>
<rect x="193.34" y="103.89" width="2.22" height="3.83" fill="#f2f4f6"/>
<rect x="195.91" y="103.89" width="2.22" height="3.83" fill="#f2f4f6"/>
<rect x="198.48" y="103.89" width="2.22" height="3.83" fill="#f2f4f6"/>
<rect x="201.04" y="103.89" width="2.22" height="3.83" fill="#f2f4f6"/>
<rect x="203.61" y="103.89" width="2.22" height="3.83" fill="#2a7cf2"/>
<rect x="206.18" y="103.89" width="2.22" height="3.83" fill="#f2f4f6"/>
<rect x="208.75" y="103.89" width="2.22" height="3.83" fill="#f2f4f6"/>
<rect x="211.31" y="103.89" width="2.22" height="3.83" fill="#f2f4f6"/>
<rect x="213.88" y="103.89" width="2.22" height="3.83" fill="#f2f4f6"/>
<rect x="216.45" y="103.89" width="2.22" height="3.83" fill="#f2f4f6"/>
<rect x="219.01" y="103.89" width="2.22" height="3.83" fill="#f2f4f6"/>
<rect x="221.58" y="103.89" width="2.22" height="3.83" fill="#f2f4f6"/>
<rect x="224.15" y="103.89" width="2.22" height="3.83" fill="#f2f4f6"/>
<rect x="226.72" y="103.89" width="2.22" height="3.83" fill="#f2f4f6"/>
<rect x="229.28" y="103.89" width="2.22" height="3.83" fill="#f2f4f6"/>
<rect x="231.85" y="103.89" width="2.22" height="3.83" fill="#f2f4f6"/>
<rect x="234.42" y="103.89" width="2.22" height="3.83" fill="#f2f4f6"/>
<rect x="236.98" y="103.89" width="2.22" height="3.83" fill="#f2f4f6"/>
<rect x="239.55" y="103.89" width="2.22" height="3.83" fill="#f2f4f6"/>
<rect x="242.12" y="103.89" width="2.22" height="3.83" fill="#f2f4f6"/>
<rect x="244.68" y="103.89" width="2.22" height="3.83" fill="#f2f4f6"/>
<rect x="247.25" y="103.89" width="2.22" height="3.83" fill="#f2f4f6"/>
<rect x="249.82" y="103.89" width="2.22" height="3.83" fill="#f2f4f6"/>
<rect x="252.38" y="103.89" width="2.22" height="3.83" fill="#f2f4f6"/>
<rect x="254.95" y="103.89" width="2.22" height="3.83" fill="#f2f4f6"/>
<rect x="257.52" y="103.89" width="2.22" height="3.83" fill="#f2f4f6"/>
<rect x="260.09" y="103.89" width="2.22" height="3.83" fill="#f2f4f6"/>
<rect x="262.65" y="103.89" width="2.22" height="3.83" fill="#f2f4f6"/>
<rect x="265.22" y="103.89" width="2.22" height="3.83" fill="#f2f4f6"/>
<rect x="267.79" y="103.89" width="2.22" height="3.83" fill="#f2f4f6"/>
<rect x="270.35" y="103.89" width="2.22" height="3.83" fill="#f2f4f6"/>
<rect x="272.92" y="103.89" width="2.22" height="3.83" fill="#f2f4f6"/>
<rect x="275.49" y="103.89" width="2.22" height="3.83" fill="#f2f4f6"/>
<rect x="278.06" y="103.89" width="2.22" height="3.83" fill="#f2f4f6"/>
<rect x="280.62" y="103.89" width="2.22" height="3.83" fill="#f2f4f6"/>
<rect x="111.20" y="108.22" width="2.22" height="3.83" fill="#f2f4f6"/>
<rect x="113.77" y="108.22" width="2.22" height="3.83" fill="#f2f4f6"/>
<rect x="116.33" y="108.22" width="2.22" height="3.83" fill="#f2f4f6"/>
<rect x="118.90" y="108.22" width="2.22" height="3.83" fill="#f2f4f6"/>
<rect x="121.47" y="108.22" width="2.22" height="3.83" fill="#f2f4f6"/>
<rect x="124.04" y="108.22" width="2.22" height="3.83" fill="#f2f4f6"/>
<rect x="126.60" y="108.22" width="2.22" height="3.83" fill="#f2f4f6"/>
<rect x="129.17" y="108.22" width="2.22" height="3.83" fill="#f2f4f6"/>
<rect x="131.74" y="108.22" width="2.22" height="3.83" fill="#f2f4f6"/>
<rect x="134.30" y="108.22" width="2.22" height="3.83" fill="#f2f4f6"/>
<rect x="136.87" y="108.22" width="2.22" height="3.83" fill="#f2f4f6"/>
<rect x="139.44" y="108.22" width="2.22" height="3.83" fill="#f2f4f6"/>
<rect x="142.00" y="108.22" width="2.22" height="3.83" fill="#f2f4f6"/>
<rect x="144.57" y="108.22" width="2.22" height="3.83" fill="#f2f4f6"/>
<rect x="147.14" y="108.22" width="2.22" height="3.83" fill="#f2f4f6"/>
<rect x="149.70" y="108.22" width="2.22" height="3.83" fill="#f2f4f6"/>
<rect x="152.27" y="108.22" width="2.22" height="3.83" fill="#f2f4f6"/>
<rect x="154.84" y="108.22" width="2.22" height="3.83" fill="#f2f4f6"/>
<rect x="157.41" y="108.22" width="2.22" height="3.83" fill="#f2f4f6"/>
<rect x="159.97" y="108.22" width="2.22" height="3.83" fill="#f2f4f6"/>
<rect x="162.54" y="108.22" width="2.22" height="3.83" fill="#f2f4f6"/>
<rect x="165.11" y="108.22" width="2.22" height="3.83" fill="#2a7cf2"/>
<rect x="167.67" y="108.22" width="2.22" height="3.83" fill="#2a7cf2"/>
<rect x="170.24" y="108.22" width="2.22" height="3.83" fill="#2a7cf2"/>
<rect x="172.81" y="108.22" width="2.22" height="3.83" fill="#f2f4f6"/>
<rect x="175.38" y="108.22" width="2.22" height="3.83" fill="#f2f4f6"/>
<rect x="177.94" y="108.22" width="2.22" height="3.83" fill="#f2f4f6"/>
<rect x="180.51" y="108.22" width="2.22" height="3.83" fill="#2a7cf2"/>
<rect x="183.08" y="108.22" width="2.22" height="3.83" fill="#f2f4f6"/>
<rect x="185.64" y="108.22" width="2.22" height="3.83" fill="#f2f4f6"/>
<rect x="188.21" y="108.22" width="2.22" height="3.83" fill="#f2f4f6"/>
<rect x="190.78" y="108.22" width="2.22" height="3.83" fill="#f2f4f6"/>
<rect x="193.34" y="108.22" width="2.22" height="3.83" fill="#f2f4f6"/>
<rect x="195.91" y="108.22" width="2.22" height="3.83" fill="#f2f4f6"/>
<rect x="198.48" y="108.22" width="2.22" height="3.83" fill="#f2f4f6"/>
<rect x="201.04" y="108.22" width="2.22" height="3.83" fill="#f2f4f6"/>
<rect x="203.61" y="108.22" width="2.22" height="3.83" fill="#f2f4f6"/>
<rect x="206.18" y="108.22" width="2.22" height="3.83" fill="#f2f4f6"/>
<rect x="208.75" y="108.22" width="2.22" height="3.83" fill="#f2f4f6"/>
<rect x="211.31" y="108.22" width="2.22" height="3.83" fill="#2a7cf2"/>
<rect x="213.88" y="108.22" width="2.22" height="3.83" fill="#f2f4f6"/>
<rect x="216.45" y="108.22" width="2.22" height="3.83" fill="#f2f4f6"/>
<rect x="219.01" y="108.22" width="2.22" height="3.83" fill="#f2f4f6"/>
<rect x="221.58" y="108.22" width="2.22" height="3.83" fill="#ffb300"/>
<rect x="224.15" y="108.22" width="2.22" height="3.83" fill="#f2f4f6"/>
<rect x="226.72" y="108.22" width="2.22" height="3.83" fill="#f2f4f6"/>
<rect x="229.28" y="108.22" width="2.22" height="3.83" fill="#ffb300"/>
<rect x="231.85" y="108.22" width="2.22" height="3.83" fill="#9ff07a"/>
<rect x="234.42" y="108.22" width="2.22" height="3.83" fill="#f2f4f6"/>
<rect x="236.98" y="108.22" width="2.22" height="3.83" fill="#f2f4f6"/>
<rect x="239.55" y="108.22" width="2.22" height="3.83" fill="#f2f4f6"/>
<rect x="242.12" y="108.22" width="2.22" height="3.83" fill="#f2f4f6"/>
<rect x="244.68" y="108.22" width="2.22" height="3.83" fill="#f2f4f6"/>
<rect x="247.25" y="108.22" width="2.22" height="3.83" fill="#f2f4f6"/>
<rect x="249.82" y="108.22" width="2.22" height="3.83" fill="#f2f4f6"/>
<rect x="252.38" y="108.22" width="2.22" height="3.83" fill="#f2f4f6"/>
<rect x="254.95" y="108.22" width="2.22" height="3.83" fill="#f2f4f6"/>
<rect x="257.52" y="108.22" width="2.22" height="3.83" fill="#f2f4f6"/>
<rect x="260.09" y="108.22" width="2.22" height="3.83" fill="#f2f4f6"/>
<rect x="262.65" y="108.22" width="2.22" height="3.83" fill="#f2f4f6"/>
<rect x="265.22" y="108.22" width="2.22" height="3.83" fill="#f2f4f6"/>
<rect x="267.79" y="108.22" width="2.22" height="3.83" fill="#f2f4f6"/>
<rect x="270.35" y="108.22" width="2.22" height="3.83" fill="#f2f4f6"/>
<rect x="272.92" y="108.22" width="2.22" height="3.83" fill="#f2f4f6"/>
<rect x="275.49" y="108.22" width="2.22" height="3.83" fill="#f2f4f6"/>
<rect x="278.06" y="108.22" width="2.22" height="3.83" fill="#f2f4f6"/>
<rect x="280.62" y="108.22" width="2.22" height="3.83" fill="#f2f4f6"/>
<rect x="111.20" y="112.55" width="2.22" height="3.83" fill="#f2f4f6"/>
<rect x="113.77" y="112.55" width="2.22" height="3.83" fill="#bf0010"/>
<rect x="116.33" y="112.55" width="2.22" height="3.83" fill="#000000"/>
<rect x="118.90" y="112.55" width="2.22" height="3.83" fill="#ffb300"/>
<rect x="121.47" y="112.55" width="2.22" height="3.83" fill="#f2f4f6"/>
<rect x="124.04" y="112.55" width="2.22" height="3.83" fill="#ffb300"/>
<rect x="126.60" y="112.55" width="2.22" height="3.83" fill="#f2f4f6"/>
<rect x="129.17" y="112.55" width="2.22" height="3.83" fill="#ffb300"/>
<rect x="131.74" y="112.55" width="2.22" height="3.83" fill="#000000"/>
<rect x="134.30" y="112.55" width="2.22" height="3.83" fill="#ffb300"/>
<rect x="136.87" y="112.55" width="2.22" height="3.83" fill="#9ff07a"/>
<rect x="139.44" y="112.55" width="2.22" height="3.83" fill="#000000"/>
<rect x="142.00" y="112.55" width="2.22" height="3.83" fill="#ffb300"/>
<rect x="144.57" y="112.55" width="2.22" height="3.83" fill="#ffb300"/>
<rect x="147.14" y="112.55" width="2.22" height="3.83" fill="#000000"/>
<rect x="149.70" y="112.55" width="2.22" height="3.83" fill="#ffb300"/>
<rect x="152.27" y="112.55" width="2.22" height="3.83" fill="#f2f4f6"/>
<rect x="154.84" y="112.55" width="2.22" height="3.83" fill="#f2f4f6"/>
<rect x="157.41" y="112.55" width="2.22" height="3.83" fill="#9ff07a"/>
<rect x="159.97" y="112.55" width="2.22" height="3.83" fill="#f2f4f6"/>
<rect x="162.54" y="112.55" width="2.22" height="3.83" fill="#f2f4f6"/>
<rect x="165.11" y="112.55" width="2.22" height="3.83" fill="#f2f4f6"/>
<rect x="167.67" y="112.55" width="2.22" height="3.83" fill="#f2f4f6"/>
<rect x="170.24" y="112.55" width="2.22" height="3.83" fill="#f2f4f6"/>
<rect x="172.81" y="112.55" width="2.22" height="3.83" fill="#f2f4f6"/>
<rect x="175.38" y="112.55" width="2.22" height="3.83" fill="#f2f4f6"/>
<rect x="177.94" y="112.55" width="2.22" height="3.83" fill="#f2f4f6"/>
<rect x="180.51" y="112.55" width="2.22" height="3.83" fill="#f2f4f6"/>
<rect x="183.08" y="112.55" width="2.22" height="3.83" fill="#f2f4f6"/>
<rect x="185.64" y="112.55" width="2.22" height="3.83" fill="#f2f4f6"/>
<rect x="188.21" y="112.55" width="2.22" height="3.83" fill="#9ff07a"/>
<rect x="190.78" y="112.55" width="2.22" height="3.83" fill="#f2f4f6"/>
<rect x="193.34" y="112.55" width="2.22" height="3.83" fill="#000000"/>
<rect x="195.91" y="112.55" width="2.22" height="3.83" fill="#f2f4f6"/>
<rect x="198.48" y="112.55" width="2.22" height="3.83" fill="#f2f4f6"/>
<rect x="201.04" y="112.55" width="2.22" height="3.83" fill="#f2f4f6"/>
<rect x="203.61" y="112.55" width="2.22" height="3.83" fill="#f2f4f6"/>
<rect x="206.18" y="112.55" width="2.22" height="3.83" fill="#f2f4f6"/>
<rect x="208.75" y="112.55" width="2.22" height="3.83" fill="#f2f4f6"/>
<rect x="211.31" y="112.55" width="2.22" height="3.83" fill="#f2f4f6"/>
<rect x="213.88" y="112.55" width="2.22" height="3.83" fill="#f2f4f6"/>
<rect x="216.45" y="112.55" width="2.22" height="3.83" fill="#f2f4f6"/>
<rect x="219.01" y="112.55" width="2.22" height="3.83" fill="#f2f4f6"/>
<rect x="221.58" y="112.55" width="2.22" height="3.83" fill="#f2f4f6"/>
<rect x="224.15" y="112.55" width="2.22" height="3.83" fill="#f2f4f6"/>
<rect x="226.72" y="112.55" width="2.22" height="3.83" fill="#f2f4f6"/>
<rect x="229.28" y="112.55" width="2.22" height="3.83" fill="#f2f4f6"/>
<rect x="231.85" y="112.55" width="2.22" height="3.83" fill="#f2f4f6"/>
<rect x="234.42" y="112.55" width="2.22" height="3.83" fill="#f2f4f6"/>
<rect x="236.98" y="112.55" width="2.22" height="3.83" fill="#f2f4f6"/>
<rect x="239.55" y="112.55" width="2.22" height="3.83" fill="#f2f4f6"/>
<rect x="242.12" y="112.55" width="2.22" height="3.83" fill="#f2f4f6"/>
<rect x="244.68" y="112.55" width="2.22" height="3.83" fill="#f2f4f6"/>
<rect x="247.25" y="112.55" width="2.22" height="3.83" fill="#f2f4f6"/>
<rect x="249.82" y="112.55" width="2.22" height="3.83" fill="#f2f4f6"/>
<rect x="252.38" y="112.55" width="2.22" height="3.83" fill="#f2f4f6"/>
<rect x="254.95" y="112.55" width="2.22" height="3.83" fill="#f2f4f6"/>
<rect x="257.52" y="112.55" width="2.22" height="3.83" fill="#f2f4f6"/>
<rect x="260.09" y="112.55" width="2.22" height="3.83" fill="#f2f4f6"/>
<rect x="262.65" y="112.55" width="2.22" height="3.83" fill="#f2f4f6"/>
<rect x="265.22" y="112.55" width="2.22" height="3.83" fill="#f2f4f6"/>
<rect x="267.79" y="112.55" width="2.22" height="3.83" fill="#f2f4f6"/>
<rect x="270.35" y="112.55" width="2.22" height="3.83" fill="#f2f4f6"/>
<rect x="272.92" y="112.55" width="2.22" height="3.83" fill="#f2f4f6"/>
<rect x="275.49" y="112.55" width="2.22" height="3.83" fill="#f2f4f6"/>
<rect x="278.06" y="112.55" width="2.22" height="3.83" fill="#f2f4f6"/>
<rect x="280.62" y="112.55" width="2.22" height="3.83" fill="#f2f4f6"/>
<rect x="111.20" y="116.88" width="2.22" height="3.83" fill="#ffb300"/>
<rect x="113.77" y="116.88" width="2.22" height="3.83" fill="#ffb300"/>
<rect x="116.33" y="116.88" width="2.22" height="3.83" fill="#f2f4f6"/>
<rect x="118.90" y="116.88" width="2.22" height="3.83" fill="#f2f4f6"/>
<rect x="121.47" y="116.88" width="2.22" height="3.83" fill="#000000"/>
<rect x="124.04" y="116.88" width="2.22" height="3.83" fill="#f2f4f6"/>
<rect x="126.60" y="116.88" width="2.22" height="3.83" fill="#000000"/>
<rect x="129.17" y="116.88" width="2.22" height="3.83" fill="#f2f4f6"/>
<rect x="131.74" y="116.88" width="2.22" height="3.83" fill="#f2f4f6"/>
<rect x="134.30" y="116.88" width="2.22" height="3.83" fill="#ffb300"/>
<rect x="136.87" y="116.88" width="2.22" height="3.83" fill="#000000"/>
<rect x="139.44" y="116.88" width="2.22" height="3.83" fill="#ffb300"/>
<rect x="142.00" y="116.88" width="2.22" height="3.83" fill="#ffb300"/>
<rect x="144.57" y="116.88" width="2.22" height="3.83" fill="#ffb300"/>
<rect x="147.14" y="116.88" width="2.22" height="3.83" fill="#000000"/>
<rect x="149.70" y="116.88" width="2.22" height="3.83" fill="#f2f4f6"/>
<rect x="152.27" y="116.88" width="2.22" height="3.83" fill="#ffb300"/>
<rect x="154.84" y="116.88" width="2.22" height="3.83" fill="#f2f4f6"/>
<rect x="157.41" y="116.88" width="2.22" height="3.83" fill="#f2f4f6"/>
<rect x="159.97" y="116.88" width="2.22" height="3.83" fill="#000000"/>
<rect x="162.54" y="116.88" width="2.22" height="3.83" fill="#000000"/>
<rect x="165.11" y="116.88" width="2.22" height="3.83" fill="#ffb300"/>
<rect x="167.67" y="116.88" width="2.22" height="3.83" fill="#f2f4f6"/>
<rect x="170.24" y="116.88" width="2.22" height="3.83" fill="#f2f4f6"/>
<rect x="172.81" y="116.88" width="2.22" height="3.83" fill="#ffb300"/>
<rect x="175.38" y="116.88" width="2.22" height="3.83" fill="#f2f4f6"/>
<rect x="177.94" y="116.88" width="2.22" height="3.83" fill="#ffb300"/>
<rect x="180.51" y="116.88" width="2.22" height="3.83" fill="#f2f4f6"/>
<rect x="183.08" y="116.88" width="2.22" height="3.83" fill="#ffb300"/>
<rect x="185.64" y="116.88" width="2.22" height="3.83" fill="#f2f4f6"/>
<rect x="188.21" y="116.88" width="2.22" height="3.83" fill="#ffb300"/>
<rect x="190.78" y="116.88" width="2.22" height="3.83" fill="#ffb300"/>
<rect x="193.34" y="116.88" width="2.22" height="3.83" fill="#f2f4f6"/>
<rect x="195.91" y="116.88" width="2.22" height="3.83" fill="#f2f4f6"/>
<rect x="198.48" y="116.88" width="2.22" height="3.83" fill="#f2f4f6"/>
<rect x="201.04" y="116.88" width="2.22" height="3.83" fill="#bf0010"/>
<rect x="203.61" y="116.88" width="2.22" height="3.83" fill="#ffb300"/>
<rect x="206.18" y="116.88" width="2.22" height="3.83" fill="#ffb300"/>
<rect x="208.75" y="116.88" width="2.22" height="3.83" fill="#000000"/>
<rect x="211.31" y="116.88" width="2.22" height="3.83" fill="#f2f4f6"/>
<rect x="213.88" y="116.88" width="2.22" height="3.83" fill="#ffb300"/>
<rect x="216.45" y="116.88" width="2.22" height="3.83" fill="#f2f4f6"/>
<rect x="219.01" y="116.88" width="2.22" height="3.83" fill="#f2f4f6"/>
<rect x="221.58" y="116.88" width="2.22" height="3.83" fill="#f2f4f6"/>
<rect x="224.15" y="116.88" width="2.22" height="3.83" fill="#f2f4f6"/>
<rect x="226.72" y="116.88" width="2.22" height="3.83" fill="#ffb300"/>
<rect x="229.28" y="116.88" width="2.22" height="3.83" fill="#f2f4f6"/>
<rect x="231.85" y="116.88" width="2.22" height="3.83" fill="#f2f4f6"/>
<rect x="234.42" y="116.88" width="2.22" height="3.83" fill="#000000"/>
<rect x="236.98" y="116.88" width="2.22" height="3.83" fill="#ffb300"/>
<rect x="239.55" y="116.88" width="2.22" height="3.83" fill="#f2f4f6"/>
<rect x="242.12" y="116.88" width="2.22" height="3.83" fill="#f2f4f6"/>
<rect x="244.68" y="116.88" width="2.22" height="3.83" fill="#f2f4f6"/>
<rect x="247.25" y="116.88" width="2.22" height="3.83" fill="#f2f4f6"/>
<rect x="249.82" y="116.88" width="2.22" height="3.83" fill="#f2f4f6"/>
<rect x="252.38" y="116.88" width="2.22" height="3.83" fill="#f2f4f6"/>
<rect x="254.95" y="116.88" width="2.22" height="3.83" fill="#f2f4f6"/>
<rect x="257.52" y="116.88" width="2.22" height="3.83" fill="#f2f4f6"/>
<rect x="260.09" y="116.88" width="2.22" height="3.83" fill="#f2f4f6"/>
<rect x="262.65" y="116.88" width="2.22" height="3.83" fill="#f2f4f6"/>
<rect x="265.22" y="116.88" width="2.22" height="3.83" fill="#f2f4f6"/>
<rect x="267.79" y="116.88" width="2.22" height="3.83" fill="#f2f4f6"/>
<rect x="270.35" y="116.88" width="2.22" height="3.83" fill="#f2f4f6"/>
<rect x="272.92" y="116.88" width="2.22" height="3.83" fill="#f2f4f6"/>
<rect x="275.49" y="116.88" width="2.22" height="3.83" fill="#f2f4f6"/>
<rect x="278.06" y="116.88" width="2.22" height="3.83" fill="#f2f4f6"/>
<rect x="280.62" y="116.88" width="2.22" height="3.83" fill="#f2f4f6"/>
<rect x="111.20" y="121.21" width="2.22" height="3.83" fill="#bf0010"/>
<rect x="113.77" y="121.21" width="2.22" height="3.83" fill="#000000"/>
<rect x="116.33" y="121.21" width="2.22" height="3.83" fill="#f2f4f6"/>
<rect x="118.90" y="121.21" width="2.22" height="3.83" fill="#f2f4f6"/>
<rect x="121.47" y="121.21" width="2.22" height="3.83" fill="#f2f4f6"/>
<rect x="124.04" y="121.21" width="2.22" height="3.83" fill="#bf0010"/>
<rect x="126.60" y="121.21" width="2.22" height="3.83" fill="#f2f4f6"/>
<rect x="129.17" y="121.21" width="2.22" height="3.83" fill="#f2f4f6"/>
<rect x="131.74" y="121.21" width="2.22" height="3.83" fill="#f2f4f6"/>
<rect x="134.30" y="121.21" width="2.22" height="3.83" fill="#000000"/>
<rect x="136.87" y="121.21" width="2.22" height="3.83" fill="#f2f4f6"/>
<rect x="139.44" y="121.21" width="2.22" height="3.83" fill="#f2f4f6"/>
<rect x="142.00" y="121.21" width="2.22" height="3.83" fill="#f2f4f6"/>
<rect x="144.57" y="121.21" width="2.22" height="3.83" fill="#f2f4f6"/>
<rect x="147.14" y="121.21" width="2.22" height="3.83" fill="#f2f4f6"/>
<rect x="149.70" y="121.21" width="2.22" height="3.83" fill="#f2f4f6"/>
<rect x="152.27" y="121.21" width="2.22" height="3.83" fill="#f2f4f6"/>
<rect x="154.84" y="121.21" width="2.22" height="3.83" fill="#f2f4f6"/>
<rect x="157.41" y="121.21" width="2.22" height="3.83" fill="#f2f4f6"/>
<rect x="159.97" y="121.21" width="2.22" height="3.83" fill="#f2f4f6"/>
<rect x="162.54" y="121.21" width="2.22" height="3.83" fill="#f2f4f6"/>
<rect x="165.11" y="121.21" width="2.22" height="3.83" fill="#f2f4f6"/>
<rect x="167.67" y="121.21" width="2.22" height="3.83" fill="#f2f4f6"/>
<rect x="170.24" y="121.21" width="2.22" height="3.83" fill="#f2f4f6"/>
<rect x="172.81" y="121.21" width="2.22" height="3.83" fill="#f2f4f6"/>
<rect x="175.38" y="121.21" width="2.22" height="3.83" fill="#f2f4f6"/>
<rect x="177.94" y="121.21" width="2.22" height="3.83" fill="#f2f4f6"/>
<rect x="180.51" y="121.21" width="2.22" height="3.83" fill="#f2f4f6"/>
<rect x="183.08" y="121.21" width="2.22" height="3.83" fill="#f2f4f6"/>
<rect x="185.64" y="121.21" width="2.22" height="3.83" fill="#f2f4f6"/>
<rect x="188.21" y="121.21" width="2.22" height="3.83" fill="#f2f4f6"/>
<rect x="190.78" y="121.21" width="2.22" height="3.83" fill="#f2f4f6"/>
<rect x="193.34" y="121.21" width="2.22" height="3.83" fill="#f2f4f6"/>
<rect x="195.91" y="121.21" width="2.22" height="3.83" fill="#f2f4f6"/>
<rect x="198.48" y="121.21" width="2.22" height="3.83" fill="#f2f4f6"/>
<rect x="201.04" y="121.21" width="2.22" height="3.83" fill="#bf0010"/>
<rect x="203.61" y="121.21" width="2.22" height="3.83" fill="#f2f4f6"/>
<rect x="206.18" y="121.21" width="2.22" height="3.83" fill="#bf0010"/>
<rect x="208.75" y="121.21" width="2.22" height="3.83" fill="#f2f4f6"/>
<rect x="211.31" y="121.21" width="2.22" height="3.83" fill="#f2f4f6"/>
<rect x="213.88" y="121.21" width="2.22" height="3.83" fill="#f2f4f6"/>
<rect x="216.45" y="121.21" width="2.22" height="3.83" fill="#f2f4f6"/>
<rect x="219.01" y="121.21" width="2.22" height="3.83" fill="#f2f4f6"/>
<rect x="221.58" y="121.21" width="2.22" height="3.83" fill="#f2f4f6"/>
<rect x="224.15" y="121.21" width="2.22" height="3.83" fill="#f2f4f6"/>
<rect x="226.72" y="121.21" width="2.22" height="3.83" fill="#f2f4f6"/>
<rect x="229.28" y="121.21" width="2.22" height="3.83" fill="#f2f4f6"/>
<rect x="231.85" y="121.21" width="2.22" height="3.83" fill="#f2f4f6"/>
<rect x="234.42" y="121.21" width="2.22" height="3.83" fill="#f2f4f6"/>
<rect x="236.98" y="121.21" width="2.22" height="3.83" fill="#f2f4f6"/>
<rect x="239.55" y="121.21" width="2.22" height="3.83" fill="#bf0010"/>
<rect x="242.12" y="121.21" width="2.22" height="3.83" fill="#f2f4f6"/>
<rect x="244.68" y="121.21" width="2.22" height="3.83" fill="#f2f4f6"/>
<rect x="247.25" y="121.21" width="2.22" height="3.83" fill="#f2f4f6"/>
<rect x="249.82" y="121.21" width="2.22" height="3.83" fill="#f2f4f6"/>
<rect x="252.38" y="121.21" width="2.22" height="3.83" fill="#f2f4f6"/>
<rect x="254.95" y="121.21" width="2.22" height="3.83" fill="#f2f4f6"/>
<rect x="257.52" y="121.21" width="2.22" height="3.83" fill="#f2f4f6"/>
<rect x="260.09" y="121.21" width="2.22" height="3.83" fill="#f2f4f6"/>
<rect x="262.65" y="121.21" width="2.22" height="3.83" fill="#f2f4f6"/>
<rect x="265.22" y="121.21" width="2.22" height="3.83" fill="#f2f4f6"/>
<rect x="267.79" y="121.21" width="2.22" height="3.83" fill="#f2f4f6"/>
<rect x="270.35" y="121.21" width="2.22" height="3.83" fill="#f2f4f6"/>
<rect x="272.92" y="121.21" width="2.22" height="3.83" fill="#f2f4f6"/>
<rect x="275.49" y="121.21" width="2.22" height="3.83" fill="#f2f4f6"/>
<rect x="278.06" y="121.21" width="2.22" height="3.83" fill="#f2f4f6"/>
<rect x="280.62" y="121.21" width="2.22" height="3.83" fill="#f2f4f6"/>
<rect x="111.20" y="125.54" width="2.22" height="3.83" fill="#f2f4f6"/>
<rect x="113.77" y="125.54" width="2.22" height="3.83" fill="#f2f4f6"/>
<rect x="116.33" y="125.54" width="2.22" height="3.83" fill="#f2f4f6"/>
<rect x="118.90" y="125.54" width="2.22" height="3.83" fill="#bf0010"/>
<rect x="121.47" y="125.54" width="2.22" height="3.83" fill="#bf0010"/>
<rect x="124.04" y="125.54" width="2.22" height="3.83" fill="#f2f4f6"/>
<rect x="126.60" y="125.54" width="2.22" height="3.83" fill="#f2f4f6"/>
<rect x="129.17" y="125.54" width="2.22" height="3.83" fill="#f2f4f6"/>
<rect x="131.74" y="125.54" width="2.22" height="3.83" fill="#bf0010"/>
<rect x="134.30" y="125.54" width="2.22" height="3.83" fill="#f2f4f6"/>
<rect x="136.87" y="125.54" width="2.22" height="3.83" fill="#f2f4f6"/>
<rect x="139.44" y="125.54" width="2.22" height="3.83" fill="#f2f4f6"/>
<rect x="142.00" y="125.54" width="2.22" height="3.83" fill="#f2f4f6"/>
<rect x="144.57" y="125.54" width="2.22" height="3.83" fill="#f2f4f6"/>
<rect x="147.14" y="125.54" width="2.22" height="3.83" fill="#f2f4f6"/>
<rect x="149.70" y="125.54" width="2.22" height="3.83" fill="#f2f4f6"/>
<rect x="152.27" y="125.54" width="2.22" height="3.83" fill="#f2f4f6"/>
<rect x="154.84" y="125.54" width="2.22" height="3.83" fill="#f2f4f6"/>
<rect x="157.41" y="125.54" width="2.22" height="3.83" fill="#f2f4f6"/>
<rect x="159.97" y="125.54" width="2.22" height="3.83" fill="#f2f4f6"/>
<rect x="162.54" y="125.54" width="2.22" height="3.83" fill="#f2f4f6"/>
<rect x="165.11" y="125.54" width="2.22" height="3.83" fill="#f2f4f6"/>
<rect x="167.67" y="125.54" width="2.22" height="3.83" fill="#f2f4f6"/>
<rect x="170.24" y="125.54" width="2.22" height="3.83" fill="#f2f4f6"/>
<rect x="172.81" y="125.54" width="2.22" height="3.83" fill="#f2f4f6"/>
<rect x="175.38" y="125.54" width="2.22" height="3.83" fill="#f2f4f6"/>
<rect x="177.94" y="125.54" width="2.22" height="3.83" fill="#f2f4f6"/>
<rect x="180.51" y="125.54" width="2.22" height="3.83" fill="#f2f4f6"/>
<rect x="183.08" y="125.54" width="2.22" height="3.83" fill="#f2f4f6"/>
<rect x="185.64" y="125.54" width="2.22" height="3.83" fill="#f2f4f6"/>
<rect x="188.21" y="125.54" width="2.22" height="3.83" fill="#9ff07a"/>
<rect x="190.78" y="125.54" width="2.22" height="3.83" fill="#bf0010"/>
<rect x="193.34" y="125.54" width="2.22" height="3.83" fill="#f2f4f6"/>
<rect x="195.91" y="125.54" width="2.22" height="3.83" fill="#f2f4f6"/>
<rect x="198.48" y="125.54" width="2.22" height="3.83" fill="#f2f4f6"/>
<rect x="201.04" y="125.54" width="2.22" height="3.83" fill="#f2f4f6"/>
<rect x="203.61" y="125.54" width="2.22" height="3.83" fill="#f2f4f6"/>
<rect x="206.18" y="125.54" width="2.22" height="3.83" fill="#f2f4f6"/>
<rect x="208.75" y="125.54" width="2.22" height="3.83" fill="#f2f4f6"/>
<rect x="211.31" y="125.54" width="2.22" height="3.83" fill="#f2f4f6"/>
<rect x="213.88" y="125.54" width="2.22" height="3.83" fill="#f2f4f6"/>
<rect x="216.45" y="125.54" width="2.22" height="3.83" fill="#bf0010"/>
<rect x="219.01" y="125.54" width="2.22" height="3.83" fill="#f2f4f6"/>
<rect x="221.58" y="125.54" width="2.22" height="3.83" fill="#f2f4f6"/>
<rect x="224.15" y="125.54" width="2.22" height="3.83" fill="#f2f4f6"/>
<rect x="226.72" y="125.54" width="2.22" height="3.83" fill="#f2f4f6"/>
<rect x="229.28" y="125.54" width="2.22" height="3.83" fill="#f2f4f6"/>
<rect x="231.85" y="125.54" width="2.22" height="3.83" fill="#f2f4f6"/>
<rect x="234.42" y="125.54" width="2.22" height="3.83" fill="#f2f4f6"/>
<rect x="236.98" y="125.54" width="2.22" height="3.83" fill="#f2f4f6"/>
<rect x="239.55" y="125.54" width="2.22" height="3.83" fill="#f2f4f6"/>
<rect x="242.12" y="125.54" width="2.22" height="3.83" fill="#bf0010"/>
<rect x="244.68" y="125.54" width="2.22" height="3.83" fill="#f2f4f6"/>
<rect x="247.25" y="125.54" width="2.22" height="3.83" fill="#f2f4f6"/>
<rect x="249.82" y="125.54" width="2.22" height="3.83" fill="#f2f4f6"/>
<rect x="252.38" y="125.54" width="2.22" height="3.83" fill="#f2f4f6"/>
<rect x="254.95" y="125.54" width="2.22" height="3.83" fill="#f2f4f6"/>
<rect x="257.52" y="125.54" width="2.22" height="3.83" fill="#f2f4f6"/>
<rect x="260.09" y="125.54" width="2.22" height="3.83" fill="#f2f4f6"/>
<rect x="262.65" y="125.54" width="2.22" height="3.83" fill="#f2f4f6"/>
<rect x="265.22" y="125.54" width="2.22" height="3.83" fill="#f2f4f6"/>
<rect x="267.79" y="125.54" width="2.22" height="3.83" fill="#f2f4f6"/>
<rect x="270.35" y="125.54" width="2.22" height="3.83" fill="#f2f4f6"/>
<rect x="272.92" y="125.54" width="2.22" height="3.83" fill="#f2f4f6"/>
<rect x="275.49" y="125.54" width="2.22" height="3.83" fill="#f2f4f6"/>
<rect x="278.06" y="125.54" width="2.22" height="3.83" fill="#f2f4f6"/>
<rect x="280.62" y="125.54" width="2.22" height="3.83" fill="#f2f4f6"/>
<rect x="111.20" y="129.87" width="2.22" height="3.83" fill="#f2f4f6"/>
<rect x="113.77" y="129.87" width="2.22" height="3.83" fill="#000000"/>
<rect x="116.33" y="129.87" width="2.22" height="3.83" fill="#f2f4f6"/>
<rect x="118.90" y="129.87" width="2.22" height="3.83" fill="#f2f4f6"/>
<rect x="121.47" y="129.87" width="2.22" height="3.83" fill="#f2f4f6"/>
<rect x="124.04" y="129.87" width="2.22" height="3.83" fill="#000000"/>
<rect x="126.60" y="129.87" width="2.22" height="3.83" fill="#ffb300"/>
<rect x="129.17" y="129.87" width="2.22" height="3.83" fill="#f2f4f6"/>
<rect x="131.74" y="129.87" width="2.22" height="3.83" fill="#f2f4f6"/>
<rect x="134.30" y="129.87" width="2.22" height="3.83" fill="#f2f4f6"/>
<rect x="136.87" y="129.87" width="2.22" height="3.83" fill="#f2f4f6"/>
<rect x="139.44" y="129.87" width="2.22" height="3.83" fill="#f2f4f6"/>
<rect x="142.00" y="129.87" width="2.22" height="3.83" fill="#f2f4f6"/>
<rect x="144.57" y="129.87" width="2.22" height="3.83" fill="#f2f4f6"/>
<rect x="147.14" y="129.87" width="2.22" height="3.83" fill="#ffb300"/>
<rect x="149.70" y="129.87" width="2.22" height="3.83" fill="#f2f4f6"/>
<rect x="152.27" y="129.87" width="2.22" height="3.83" fill="#f2f4f6"/>
<rect x="154.84" y="129.87" width="2.22" height="3.83" fill="#f2f4f6"/>
<rect x="157.41" y="129.87" width="2.22" height="3.83" fill="#f2f4f6"/>
<rect x="159.97" y="129.87" width="2.22" height="3.83" fill="#f2f4f6"/>
<rect x="162.54" y="129.87" width="2.22" height="3.83" fill="#000000"/>
<rect x="165.11" y="129.87" width="2.22" height="3.83" fill="#f2f4f6"/>
<rect x="167.67" y="129.87" width="2.22" height="3.83" fill="#f2f4f6"/>
<rect x="170.24" y="129.87" width="2.22" height="3.83" fill="#f2f4f6"/>
<rect x="172.81" y="129.87" width="2.22" height="3.83" fill="#f2f4f6"/>
<rect x="175.38" y="129.87" width="2.22" height="3.83" fill="#f2f4f6"/>
<rect x="177.94" y="129.87" width="2.22" height="3.83" fill="#f2f4f6"/>
<rect x="180.51" y="129.87" width="2.22" height="3.83" fill="#f2f4f6"/>
<rect x="183.08" y="129.87" width="2.22" height="3.83" fill="#f2f4f6"/>
<rect x="185.64" y="129.87" width="2.22" height="3.83" fill="#f2f4f6"/>
<rect x="188.21" y="129.87" width="2.22" height="3.83" fill="#000000"/>
<rect x="190.78" y="129.87" width="2.22" height="3.83" fill="#f2f4f6"/>
<rect x="193.34" y="129.87" width="2.22" height="3.83" fill="#f2f4f6"/>
<rect x="195.91" y="129.87" width="2.22" height="3.83" fill="#f2f4f6"/>
<rect x="198.48" y="129.87" width="2.22" height="3.83" fill="#f2f4f6"/>
<rect x="201.04" y="129.87" width="2.22" height="3.83" fill="#f2f4f6"/>
<rect x="203.61" y="129.87" width="2.22" height="3.83" fill="#f2f4f6"/>
<rect x="206.18" y="129.87" width="2.22" height="3.83" fill="#f2f4f6"/>
<rect x="208.75" y="129.87" width="2.22" height="3.83" fill="#000000"/>
<rect x="211.31" y="129.87" width="2.22" height="3.83" fill="#f2f4f6"/>
<rect x="213.88" y="129.87" width="2.22" height="3.83" fill="#f2f4f6"/>
<rect x="216.45" y="129.87" width="2.22" height="3.83" fill="#f2f4f6"/>
<rect x="219.01" y="129.87" width="2.22" height="3.83" fill="#f2f4f6"/>
<rect x="221.58" y="129.87" width="2.22" height="3.83" fill="#f2f4f6"/>
<rect x="224.15" y="129.87" width="2.22" height="3.83" fill="#f2f4f6"/>
<rect x="226.72" y="129.87" width="2.22" height="3.83" fill="#f2f4f6"/>
<rect x="229.28" y="129.87" width="2.22" height="3.83" fill="#f2f4f6"/>
<rect x="231.85" y="129.87" width="2.22" height="3.83" fill="#f2f4f6"/>
<rect x="234.42" y="129.87" width="2.22" height="3.83" fill="#f2f4f6"/>
<rect x="236.98" y="129.87" width="2.22" height="3.83" fill="#f2f4f6"/>
<rect x="239.55" y="129.87" width="2.22" height="3.83" fill="#f2f4f6"/>
<rect x="242.12" y="129.87" width="2.22" height="3.83" fill="#f2f4f6"/>
<rect x="244.68" y="129.87" width="2.22" height="3.83" fill="#f2f4f6"/>
<rect x="247.25" y="129.87" width="2.22" height="3.83" fill="#f2f4f6"/>
<rect x="249.82" y="129.87" width="2.22" height="3.83" fill="#f2f4f6"/>
<rect x="252.38" y="129.87" width="2.22" height="3.83" fill="#f2f4f6"/>
<rect x="254.95" y="129.87" width="2.22" height="3.83" fill="#f2f4f6"/>
<rect x="257.52" y="129.87" width="2.22" height="3.83" fill="#f2f4f6"/>
<rect x="260.09" y="129.87" width="2.22" height="3.83" fill="#f2f4f6"/>
<rect x="262.65" y="129.87" width="2.22" height="3.83" fill="#f2f4f6"/>
<rect x="265.22" y="129.87" width="2.22" height="3.83" fill="#f2f4f6"/>
<rect x="267.79" y="129.87" width="2.22" height="3.83" fill="#f2f4f6"/>
<rect x="270.35" y="129.87" width="2.22" height="3.83" fill="#f2f4f6"/>
<rect x="272.92" y="129.87" width="2.22" height="3.83" fill="#f2f4f6"/>
<rect x="275.49" y="129.87" width="2.22" height="3.83" fill="#f2f4f6"/>
<rect x="278.06" y="129.87" width="2.22" height="3.83" fill="#f2f4f6"/>
<rect x="280.62" y="129.87" width="2.22" height="3.83" fill="#f2f4f6"/>
<rect x="111.20" y="134.20" width="2.22" height="3.83" fill="#f2f4f6"/>
<rect x="113.77" y="134.20" width="2.22" height="3.83" fill="#f2f4f6"/>
<rect x="116.33" y="134.20" width="2.22" height="3.83" fill="#f2f4f6"/>
<rect x="118.90" y="134.20" width="2.22" height="3.83" fill="#f2f4f6"/>
<rect x="121.47" y="134.20" width="2.22" height="3.83" fill="#f2f4f6"/>
<rect x="124.04" y="134.20" width="2.22" height="3.83" fill="#f2f4f6"/>
<rect x="126.60" y="134.20" width="2.22" height="3.83" fill="#f2f4f6"/>
<rect x="129.17" y="134.20" width="2.22" height="3.83" fill="#ffb300"/>
<rect x="131.74" y="134.20" width="2.22" height="3.83" fill="#f2f4f6"/>
<rect x="134.30" y="134.20" width="2.22" height="3.83" fill="#f2f4f6"/>
<rect x="136.87" y="134.20" width="2.22" height="3.83" fill="#f2f4f6"/>
<rect x="139.44" y="134.20" width="2.22" height="3.83" fill="#f2f4f6"/>
<rect x="142.00" y="134.20" width="2.22" height="3.83" fill="#f2f4f6"/>
<rect x="144.57" y="134.20" width="2.22" height="3.83" fill="#f2f4f6"/>
<rect x="147.14" y="134.20" width="2.22" height="3.83" fill="#f2f4f6"/>
<rect x="149.70" y="134.20" width="2.22" height="3.83" fill="#f2f4f6"/>
<rect x="152.27" y="134.20" width="2.22" height="3.83" fill="#f2f4f6"/>
<rect x="154.84" y="134.20" width="2.22" height="3.83" fill="#f2f4f6"/>
<rect x="157.41" y="134.20" width="2.22" height="3.83" fill="#f2f4f6"/>
<rect x="159.97" y="134.20" width="2.22" height="3.83" fill="#bf0010"/>
<rect x="162.54" y="134.20" width="2.22" height="3.83" fill="#f2f4f6"/>
<rect x="165.11" y="134.20" width="2.22" height="3.83" fill="#f2f4f6"/>
<rect x="167.67" y="134.20" width="2.22" height="3.83" fill="#f2f4f6"/>
<rect x="170.24" y="134.20" width="2.22" height="3.83" fill="#f2f4f6"/>
<rect x="172.81" y="134.20" width="2.22" height="3.83" fill="#f2f4f6"/>
<rect x="175.38" y="134.20" width="2.22" height="3.83" fill="#ffb300"/>
<rect x="177.94" y="134.20" width="2.22" height="3.83" fill="#bf0010"/>
<rect x="180.51" y="134.20" width="2.22" height="3.83" fill="#f2f4f6"/>
<rect x="183.08" y="134.20" width="2.22" height="3.83" fill="#f2f4f6"/>
<rect x="185.64" y="134.20" width="2.22" height="3.83" fill="#f2f4f6"/>
<rect x="188.21" y="134.20" width="2.22" height="3.83" fill="#f2f4f6"/>
<rect x="190.78" y="134.20" width="2.22" height="3.83" fill="#f2f4f6"/>
<rect x="193.34" y="134.20" width="2.22" height="3.83" fill="#f2f4f6"/>
<rect x="195.91" y="134.20" width="2.22" height="3.83" fill="#f2f4f6"/>
<rect x="198.48" y="134.20" width="2.22" height="3.83" fill="#f2f4f6"/>
<rect x="201.04" y="134.20" width="2.22" height="3.83" fill="#f2f4f6"/>
<rect x="203.61" y="134.20" width="2.22" height="3.83" fill="#f2f4f6"/>
<rect x="206.18" y="134.20" width="2.22" height="3.83" fill="#f2f4f6"/>
<rect x="208.75" y="134.20" width="2.22" height="3.83" fill="#ffb300"/>
<rect x="211.31" y="134.20" width="2.22" height="3.83" fill="#f2f4f6"/>
<rect x="213.88" y="134.20" width="2.22" height="3.83" fill="#f2f4f6"/>
<rect x="216.45" y="134.20" width="2.22" height="3.83" fill="#f2f4f6"/>
<rect x="219.01" y="134.20" width="2.22" height="3.83" fill="#f2f4f6"/>
<rect x="221.58" y="134.20" width="2.22" height="3.83" fill="#f2f4f6"/>
<rect x="224.15" y="134.20" width="2.22" height="3.83" fill="#f2f4f6"/>
<rect x="226.72" y="134.20" width="2.22" height="3.83" fill="#ffb300"/>
<rect x="229.28" y="134.20" width="2.22" height="3.83" fill="#f2f4f6"/>
<rect x="231.85" y="134.20" width="2.22" height="3.83" fill="#f2f4f6"/>
<rect x="234.42" y="134.20" width="2.22" height="3.83" fill="#2a7cf2"/>
<rect x="236.98" y="134.20" width="2.22" height="3.83" fill="#f2f4f6"/>
<rect x="239.55" y="134.20" width="2.22" height="3.83" fill="#f2f4f6"/>
<rect x="242.12" y="134.20" width="2.22" height="3.83" fill="#f2f4f6"/>
<rect x="244.68" y="134.20" width="2.22" height="3.83" fill="#f2f4f6"/>
<rect x="247.25" y="134.20" width="2.22" height="3.83" fill="#f2f4f6"/>
<rect x="249.82" y="134.20" width="2.22" height="3.83" fill="#f2f4f6"/>
<rect x="252.38" y="134.20" width="2.22" height="3.83" fill="#f2f4f6"/>
<rect x="254.95" y="134.20" width="2.22" height="3.83" fill="#f2f4f6"/>
<rect x="257.52" y="134.20" width="2.22" height="3.83" fill="#f2f4f6"/>
<rect x="260.09" y="134.20" width="2.22" height="3.83" fill="#f2f4f6"/>
<rect x="262.65" y="134.20" width="2.22" height="3.83" fill="#f2f4f6"/>
<rect x="265.22" y="134.20" width="2.22" height="3.83" fill="#f2f4f6"/>
<rect x="267.79" y="134.20" width="2.22" height="3.83" fill="#f2f4f6"/>
<rect x="270.35" y="134.20" width="2.22" height="3.83" fill="#f2f4f6"/>
<rect x="272.92" y="134.20" width="2.22" height="3.83" fill="#f2f4f6"/>
<rect x="275.49" y="134.20" width="2.22" height="3.83" fill="#f2f4f6"/>
<rect x="278.06" y="134.20" width="2.22" height="3.83" fill="#f2f4f6"/>
<rect x="280.62" y="134.20" width="2.22" height="3.83" fill="#f2f4f6"/>
<rect x="111.20" y="138.53" width="2.22" height="3.83" fill="#f2f4f6"/>
<rect x="113.77" y="138.53" width="2.22" height="3.83" fill="#f2f4f6"/>
<rect x="116.33" y="138.53" width="2.22" height="3.83" fill="#f2f4f6"/>
<rect x="118.90" y="138.53" width="2.22" height="3.83" fill="#f2f4f6"/>
<rect x="121.47" y="138.53" width="2.22" height="3.83" fill="#f2f4f6"/>
<rect x="124.04" y="138.53" width="2.22" height="3.83" fill="#ffb300"/>
<rect x="126.60" y="138.53" width="2.22" height="3.83" fill="#ffb300"/>
<rect x="129.17" y="138.53" width="2.22" height="3.83" fill="#ffb300"/>
<rect x="131.74" y="138.53" width="2.22" height="3.83" fill="#f2f4f6"/>
<rect x="134.30" y="138.53" width="2.22" height="3.83" fill="#ffb300"/>
<rect x="136.87" y="138.53" width="2.22" height="3.83" fill="#f2f4f6"/>
<rect x="139.44" y="138.53" width="2.22" height="3.83" fill="#ffb300"/>
<rect x="142.00" y="138.53" width="2.22" height="3.83" fill="#f2f4f6"/>
<rect x="144.57" y="138.53" width="2.22" height="3.83" fill="#f2f4f6"/>
<rect x="147.14" y="138.53" width="2.22" height="3.83" fill="#ffb300"/>
<rect x="149.70" y="138.53" width="2.22" height="3.83" fill="#f2f4f6"/>
<rect x="152.27" y="138.53" width="2.22" height="3.83" fill="#f2f4f6"/>
<rect x="154.84" y="138.53" width="2.22" height="3.83" fill="#f2f4f6"/>
<rect x="157.41" y="138.53" width="2.22" height="3.83" fill="#bf0010"/>
<rect x="159.97" y="138.53" width="2.22" height="3.83" fill="#f2f4f6"/>
<rect x="162.54" y="138.53" width="2.22" height="3.83" fill="#f2f4f6"/>
<rect x="165.11" y="138.53" width="2.22" height="3.83" fill="#f2f4f6"/>
<rect x="167.67" y="138.53" width="2.22" height="3.83" fill="#f2f4f6"/>
<rect x="170.24" y="138.53" width="2.22" height="3.83" fill="#f2f4f6"/>
<rect x="172.81" y="138.53" width="2.22" height="3.83" fill="#f2f4f6"/>
<rect x="175.38" y="138.53" width="2.22" height="3.83" fill="#f2f4f6"/>
<rect x="177.94" y="138.53" width="2.22" height="3.83" fill="#f2f4f6"/>
<rect x="180.51" y="138.53" width="2.22" height="3.83" fill="#f2f4f6"/>
<rect x="183.08" y="138.53" width="2.22" height="3.83" fill="#f2f4f6"/>
<rect x="185.64" y="138.53" width="2.22" height="3.83" fill="#f2f4f6"/>
<rect x="188.21" y="138.53" width="2.22" height="3.83" fill="#f2f4f6"/>
<rect x="190.78" y="138.53" width="2.22" height="3.83" fill="#f2f4f6"/>
<rect x="193.34" y="138.53" width="2.22" height="3.83" fill="#f2f4f6"/>
<rect x="195.91" y="138.53" width="2.22" height="3.83" fill="#f2f4f6"/>
<rect x="198.48" y="138.53" width="2.22" height="3.83" fill="#f2f4f6"/>
<rect x="201.04" y="138.53" width="2.22" height="3.83" fill="#f2f4f6"/>
<rect x="203.61" y="138.53" width="2.22" height="3.83" fill="#f2f4f6"/>
<rect x="206.18" y="138.53" width="2.22" height="3.83" fill="#f2f4f6"/>
<rect x="208.75" y="138.53" width="2.22" height="3.83" fill="#f2f4f6"/>
<rect x="211.31" y="138.53" width="2.22" height="3.83" fill="#f2f4f6"/>
<rect x="213.88" y="138.53" width="2.22" height="3.83" fill="#f2f4f6"/>
<rect x="216.45" y="138.53" width="2.22" height="3.83" fill="#f2f4f6"/>
<rect x="219.01" y="138.53" width="2.22" height="3.83" fill="#f2f4f6"/>
<rect x="221.58" y="138.53" width="2.22" height="3.83" fill="#f2f4f6"/>
<rect x="224.15" y="138.53" width="2.22" height="3.83" fill="#f2f4f6"/>
<rect x="226.72" y="138.53" width="2.22" height="3.83" fill="#f2f4f6"/>
<rect x="229.28" y="138.53" width="2.22" height="3.83" fill="#f2f4f6"/>
<rect x="231.85" y="138.53" width="2.22" height="3.83" fill="#f2f4f6"/>
<rect x="234.42" y="138.53" width="2.22" height="3.83" fill="#f2f4f6"/>
<rect x="236.98" y="138.53" width="2.22" height="3.83" fill="#f2f4f6"/>
<rect x="239.55" y="138.53" width="2.22" height="3.83" fill="#f2f4f6"/>
<rect x="242.12" y="138.53" width="2.22" height="3.83" fill="#f2f4f6"/>
<rect x="244.68" y="138.53" width="2.22" height="3.83" fill="#f2f4f6"/>
<rect x="247.25" y="138.53" width="2.22" height="3.83" fill="#f2f4f6"/>
<rect x="249.82" y="138.53" width="2.22" height="3.83" fill="#f2f4f6"/>
<rect x="252.38" y="138.53" width="2.22" height="3.83" fill="#f2f4f6"/>
<rect x="254.95" y="138.53" width="2.22" height="3.83" fill="#f2f4f6"/>
<rect x="257.52" y="138.53" width="2.22" height="3.83" fill="#f2f4f6"/>
<rect x="260.09" y="138.53" width="2.22" height="3.83" fill="#f2f4f6"/>
<rect x="262.65" y="138.53" width="2.22" height="3.83" fill="#f2f4f6"/>
<rect x="265.22" y="138.53" width="2.22" height="3.83" fill="#f2f4f6"/>
<rect x="267.79" y="138.53" width="2.22" height="3.83" fill="#f2f4f6"/>
<rect x="270.35" y="138.53" width="2.22" height="3.83" fill="#f2f4f6"/>
<rect x="272.92" y="138.53" width="2.22" height="3.83" fill="#f2f4f6"/>
<rect x="275.49" y="138.53" width="2.22" height="3.83" fill="#f2f4f6"/>
<rect x="278.06" y="138.53" width="2.22" height="3.83" fill="#f2f4f6"/>
<rect x="280.62" y="138.53" width="2.22" height="3.83" fill="#f2f4f6"/>
<rect x="111.20" y="142.86" width="2.22" height="3.83" fill="#f2f4f6"/>
<rect x="113.77" y="142.86" width="2.22" height="3.83" fill="#f2f4f6"/>
<rect x="116.33" y="142.86" width="2.22" height="3.83" fill="#f2f4f6"/>
<rect x="118.90" y="142.86" width="2.22" height="3.83" fill="#f2f4f6"/>
<rect x="121.47" y="142.86" width="2.22" height="3.83" fill="#f2f4f6"/>
<rect x="124.04" y="142.86" width="2.22" height="3.83" fill="#ffb300"/>
<rect x="126.60" y="142.86" width="2.22" height="3.83" fill="#f2f4f6"/>
<rect x="129.17" y="142.86" width="2.22" height="3.83" fill="#ffb300"/>
<rect x="131.74" y="142.86" width="2.22" height="3.83" fill="#ffb300"/>
<rect x="134.30" y="142.86" width="2.22" height="3.83" fill="#f2f4f6"/>
<rect x="136.87" y="142.86" width="2.22" height="3.83" fill="#ffb300"/>
<rect x="139.44" y="142.86" width="2.22" height="3.83" fill="#f2f4f6"/>
<rect x="142.00" y="142.86" width="2.22" height="3.83" fill="#f2f4f6"/>
<rect x="144.57" y="142.86" width="2.22" height="3.83" fill="#f2f4f6"/>
<rect x="147.14" y="142.86" width="2.22" height="3.83" fill="#ffb300"/>
<rect x="149.70" y="142.86" width="2.22" height="3.83" fill="#f2f4f6"/>
<rect x="152.27" y="142.86" width="2.22" height="3.83" fill="#ffb300"/>
<rect x="154.84" y="142.86" width="2.22" height="3.83" fill="#f2f4f6"/>
<rect x="157.41" y="142.86" width="2.22" height="3.83" fill="#f2f4f6"/>
<rect x="159.97" y="142.86" width="2.22" height="3.83" fill="#f2f4f6"/>
<rect x="162.54" y="142.86" width="2.22" height="3.83" fill="#f2f4f6"/>
<rect x="165.11" y="142.86" width="2.22" height="3.83" fill="#f2f4f6"/>
<rect x="167.67" y="142.86" width="2.22" height="3.83" fill="#f2f4f6"/>
<rect x="170.24" y="142.86" width="2.22" height="3.83" fill="#f2f4f6"/>
<rect x="172.81" y="142.86" width="2.22" height="3.83" fill="#f2f4f6"/>
<rect x="175.38" y="142.86" width="2.22" height="3.83" fill="#f2f4f6"/>
<rect x="177.94" y="142.86" width="2.22" height="3.83" fill="#ffb300"/>
<rect x="180.51" y="142.86" width="2.22" height="3.83" fill="#f2f4f6"/>
<rect x="183.08" y="142.86" width="2.22" height="3.83" fill="#f2f4f6"/>
<rect x="185.64" y="142.86" width="2.22" height="3.83" fill="#f2f4f6"/>
<rect x="188.21" y="142.86" width="2.22" height="3.83" fill="#f2f4f6"/>
<rect x="190.78" y="142.86" width="2.22" height="3.83" fill="#f2f4f6"/>
<rect x="193.34" y="142.86" width="2.22" height="3.83" fill="#f2f4f6"/>
<rect x="195.91" y="142.86" width="2.22" height="3.83" fill="#f2f4f6"/>
<rect x="198.48" y="142.86" width="2.22" height="3.83" fill="#f2f4f6"/>
<rect x="201.04" y="142.86" width="2.22" height="3.83" fill="#f2f4f6"/>
<rect x="203.61" y="142.86" width="2.22" height="3.83" fill="#f2f4f6"/>
<rect x="206.18" y="142.86" width="2.22" height="3.83" fill="#f2f4f6"/>
<rect x="208.75" y="142.86" width="2.22" height="3.83" fill="#f2f4f6"/>
<rect x="211.31" y="142.86" width="2.22" height="3.83" fill="#f2f4f6"/>
<rect x="213.88" y="142.86" width="2.22" height="3.83" fill="#f2f4f6"/>
<rect x="216.45" y="142.86" width="2.22" height="3.83" fill="#f2f4f6"/>
<rect x="219.01" y="142.86" width="2.22" height="3.83" fill="#f2f4f6"/>
<rect x="221.58" y="142.86" width="2.22" height="3.83" fill="#f2f4f6"/>
<rect x="224.15" y="142.86" width="2.22" height="3.83" fill="#f2f4f6"/>
<rect x="226.72" y="142.86" width="2.22" height="3.83" fill="#f2f4f6"/>
<rect x="229.28" y="142.86" width="2.22" height="3.83" fill="#f2f4f6"/>
<rect x="231.85" y="142.86" width="2.22" height="3.83" fill="#f2f4f6"/>
<rect x="234.42" y="142.86" width="2.22" height="3.83" fill="#f2f4f6"/>
<rect x="236.98" y="142.86" width="2.22" height="3.83" fill="#f2f4f6"/>
<rect x="239.55" y="142.86" width="2.22" height="3.83" fill="#f2f4f6"/>
<rect x="242.12" y="142.86" width="2.22" height="3.83" fill="#f2f4f6"/>
<rect x="244.68" y="142.86" width="2.22" height="3.83" fill="#f2f4f6"/>
<rect x="247.25" y="142.86" width="2.22" height="3.83" fill="#f2f4f6"/>
<rect x="249.82" y="142.86" width="2.22" height="3.83" fill="#f2f4f6"/>
<rect x="252.38" y="142.86" width="2.22" height="3.83" fill="#f2f4f6"/>
<rect x="254.95" y="142.86" width="2.22" height="3.83" fill="#f2f4f6"/>
<rect x="257.52" y="142.86" width="2.22" height="3.83" fill="#f2f4f6"/>
<rect x="260.09" y="142.86" width="2.22" height="3.83" fill="#f2f4f6"/>
<rect x="262.65" y="142.86" width="2.22" height="3.83" fill="#f2f4f6"/>
<rect x="265.22" y="142.86" width="2.22" height="3.83" fill="#f2f4f6"/>
<rect x="267.79" y="142.86" width="2.22" height="3.83" fill="#f2f4f6"/>
<rect x="270.35" y="142.86" width="2.22" height="3.83" fill="#f2f4f6"/>
<rect x="272.92" y="142.86" width="2.22" height="3.83" fill="#f2f4f6"/>
<rect x="275.49" y="142.86" width="2.22" height="3.83" fill="#f2f4f6"/>
<rect x="278.06" y="142.86" width="2.22" height="3.83" fill="#f2f4f6"/>
<rect x="280.62" y="142.86" width="2.22" height="3.83" fill="#f2f4f6"/>
<rect x="111.20" y="147.19" width="2.22" height="3.83" fill="#f2f4f6"/>
<rect x="113.77" y="147.19" width="2.22" height="3.83" fill="#f2f4f6"/>
<rect x="116.33" y="147.19" width="2.22" height="3.83" fill="#bf0010"/>
<rect x="118.90" y="147.19" width="2.22" height="3.83" fill="#2a7cf2"/>
<rect x="121.47" y="147.19" width="2.22" height="3.83" fill="#f2f4f6"/>
<rect x="124.04" y="147.19" width="2.22" height="3.83" fill="#f2f4f6"/>
<rect x="126.60" y="147.19" width="2.22" height="3.83" fill="#2a7cf2"/>
<rect x="129.17" y="147.19" width="2.22" height="3.83" fill="#f2f4f6"/>
<rect x="131.74" y="147.19" width="2.22" height="3.83" fill="#f2f4f6"/>
<rect x="134.30" y="147.19" width="2.22" height="3.83" fill="#f2f4f6"/>
<rect x="136.87" y="147.19" width="2.22" height="3.83" fill="#f2f4f6"/>
<rect x="139.44" y="147.19" width="2.22" height="3.83" fill="#f2f4f6"/>
<rect x="142.00" y="147.19" width="2.22" height="3.83" fill="#f2f4f6"/>
<rect x="144.57" y="147.19" width="2.22" height="3.83" fill="#f2f4f6"/>
<rect x="147.14" y="147.19" width="2.22" height="3.83" fill="#f2f4f6"/>
<rect x="149.70" y="147.19" width="2.22" height="3.83" fill="#f2f4f6"/>
<rect x="152.27" y="147.19" width="2.22" height="3.83" fill="#f2f4f6"/>
<rect x="154.84" y="147.19" width="2.22" height="3.83" fill="#f2f4f6"/>
<rect x="157.41" y="147.19" width="2.22" height="3.83" fill="#f2f4f6"/>
<rect x="159.97" y="147.19" width="2.22" height="3.83" fill="#f2f4f6"/>
<rect x="162.54" y="147.19" width="2.22" height="3.83" fill="#f2f4f6"/>
<rect x="165.11" y="147.19" width="2.22" height="3.83" fill="#f2f4f6"/>
<rect x="167.67" y="147.19" width="2.22" height="3.83" fill="#f2f4f6"/>
<rect x="170.24" y="147.19" width="2.22" height="3.83" fill="#f2f4f6"/>
<rect x="172.81" y="147.19" width="2.22" height="3.83" fill="#f2f4f6"/>
<rect x="175.38" y="147.19" width="2.22" height="3.83" fill="#f2f4f6"/>
<rect x="177.94" y="147.19" width="2.22" height="3.83" fill="#f2f4f6"/>
<rect x="180.51" y="147.19" width="2.22" height="3.83" fill="#f2f4f6"/>
<rect x="183.08" y="147.19" width="2.22" height="3.83" fill="#f2f4f6"/>
<rect x="185.64" y="147.19" width="2.22" height="3.83" fill="#f2f4f6"/>
<rect x="188.21" y="147.19" width="2.22" height="3.83" fill="#2a7cf2"/>
<rect x="190.78" y="147.19" width="2.22" height="3.83" fill="#2a7cf2"/>
<rect x="193.34" y="147.19" width="2.22" height="3.83" fill="#bf0010"/>
<rect x="195.91" y="147.19" width="2.22" height="3.83" fill="#f2f4f6"/>
<rect x="198.48" y="147.19" width="2.22" height="3.83" fill="#f2f4f6"/>
<rect x="201.04" y="147.19" width="2.22" height="3.83" fill="#f2f4f6"/>
<rect x="203.61" y="147.19" width="2.22" height="3.83" fill="#f2f4f6"/>
<rect x="206.18" y="147.19" width="2.22" height="3.83" fill="#f2f4f6"/>
<rect x="208.75" y="147.19" width="2.22" height="3.83" fill="#f2f4f6"/>
<rect x="211.31" y="147.19" width="2.22" height="3.83" fill="#f2f4f6"/>
<rect x="213.88" y="147.19" width="2.22" height="3.83" fill="#f2f4f6"/>
<rect x="216.45" y="147.19" width="2.22" height="3.83" fill="#f2f4f6"/>
<rect x="219.01" y="147.19" width="2.22" height="3.83" fill="#f2f4f6"/>
<rect x="221.58" y="147.19" width="2.22" height="3.83" fill="#f2f4f6"/>
<rect x="224.15" y="147.19" width="2.22" height="3.83" fill="#f2f4f6"/>
<rect x="226.72" y="147.19" width="2.22" height="3.83" fill="#f2f4f6"/>
<rect x="229.28" y="147.19" width="2.22" height="3.83" fill="#f2f4f6"/>
<rect x="231.85" y="147.19" width="2.22" height="3.83" fill="#f2f4f6"/>
<rect x="234.42" y="147.19" width="2.22" height="3.83" fill="#f2f4f6"/>
<rect x="236.98" y="147.19" width="2.22" height="3.83" fill="#f2f4f6"/>
<rect x="239.55" y="147.19" width="2.22" height="3.83" fill="#f2f4f6"/>
<rect x="242.12" y="147.19" width="2.22" height="3.83" fill="#f2f4f6"/>
<rect x="244.68" y="147.19" width="2.22" height="3.83" fill="#f2f4f6"/>
<rect x="247.25" y="147.19" width="2.22" height="3.83" fill="#f2f4f6"/>
<rect x="249.82" y="147.19" width="2.22" height="3.83" fill="#f2f4f6"/>
<rect x="252.38" y="147.19" width="2.22" height="3.83" fill="#f2f4f6"/>
<rect x="254.95" y="147.19" width="2.22" height="3.83" fill="#f2f4f6"/>
<rect x="257.52" y="147.19" width="2.22" height="3.83" fill="#f2f4f6"/>
<rect x="260.09" y="147.19" width="2.22" height="3.83" fill="#f2f4f6"/>
<rect x="262.65" y="147.19" width="2.22" height="3.83" fill="#f2f4f6"/>
<rect x="265.22" y="147.19" width="2.22" height="3.83" fill="#f2f4f6"/>
<rect x="267.79" y="147.19" width="2.22" height="3.83" fill="#f2f4f6"/>
<rect x="270.35" y="147.19" width="2.22" height="3.83" fill="#f2f4f6"/>
<rect x="272.92" y="147.19" width="2.22" height="3.83" fill="#f2f4f6"/>
<rect x="275.49" y="147.19" width="2.22" height="3.83" fill="#f2f4f6"/>
<rect x="278.06" y="147.19" width="2.22" height="3.83" fill="#f2f4f6"/>
<rect x="280.62" y="147.19" width="2.22" height="3.83" fill="#f2f4f6"/>
<rect x="111.20" y="151.52" width="2.22" height="3.83" fill="#2a7cf2"/>
<rect x="113.77" y="151.52" width="2.22" height="3.83" fill="#bf0010"/>
<rect x="116.33" y="151.52" width="2.22" height="3.83" fill="#bf0010"/>
<rect x="118.90" y="151.52" width="2.22" height="3.83" fill="#f2f4f6"/>
<rect x="121.47" y="151.52" width="2.22" height="3.83" fill="#f2f4f6"/>
<rect x="124.04" y="151.52" width="2.22" height="3.83" fill="#f2f4f6"/>
<rect x="126.60" y="151.52" width="2.22" height="3.83" fill="#f2f4f6"/>
<rect x="129.17" y="151.52" width="2.22" height="3.83" fill="#f2f4f6"/>
<rect x="131.74" y="151.52" width="2.22" height="3.83" fill="#f2f4f6"/>
<rect x="134.30" y="151.52" width="2.22" height="3.83" fill="#f2f4f6"/>
<rect x="136.87" y="151.52" width="2.22" height="3.83" fill="#f2f4f6"/>
<rect x="139.44" y="151.52" width="2.22" height="3.83" fill="#f2f4f6"/>
<rect x="142.00" y="151.52" width="2.22" height="3.83" fill="#f2f4f6"/>
<rect x="144.57" y="151.52" width="2.22" height="3.83" fill="#f2f4f6"/>
<rect x="147.14" y="151.52" width="2.22" height="3.83" fill="#f2f4f6"/>
<rect x="149.70" y="151.52" width="2.22" height="3.83" fill="#bf0010"/>
<rect x="152.27" y="151.52" width="2.22" height="3.83" fill="#f2f4f6"/>
<rect x="154.84" y="151.52" width="2.22" height="3.83" fill="#f2f4f6"/>
<rect x="157.41" y="151.52" width="2.22" height="3.83" fill="#f2f4f6"/>
<rect x="159.97" y="151.52" width="2.22" height="3.83" fill="#f2f4f6"/>
<rect x="162.54" y="151.52" width="2.22" height="3.83" fill="#2a7cf2"/>
<rect x="165.11" y="151.52" width="2.22" height="3.83" fill="#f2f4f6"/>
<rect x="167.67" y="151.52" width="2.22" height="3.83" fill="#f2f4f6"/>
<rect x="170.24" y="151.52" width="2.22" height="3.83" fill="#f2f4f6"/>
<rect x="172.81" y="151.52" width="2.22" height="3.83" fill="#f2f4f6"/>
<rect x="175.38" y="151.52" width="2.22" height="3.83" fill="#f2f4f6"/>
<rect x="177.94" y="151.52" width="2.22" height="3.83" fill="#bf0010"/>
<rect x="180.51" y="151.52" width="2.22" height="3.83" fill="#f2f4f6"/>
<rect x="183.08" y="151.52" width="2.22" height="3.83" fill="#f2f4f6"/>
<rect x="185.64" y="151.52" width="2.22" height="3.83" fill="#f2f4f6"/>
<rect x="188.21" y="151.52" width="2.22" height="3.83" fill="#f2f4f6"/>
<rect x="190.78" y="151.52" width="2.22" height="3.83" fill="#f2f4f6"/>
<rect x="193.34" y="151.52" width="2.22" height="3.83" fill="#f2f4f6"/>
<rect x="195.91" y="151.52" width="2.22" height="3.83" fill="#f2f4f6"/>
<rect x="198.48" y="151.52" width="2.22" height="3.83" fill="#f2f4f6"/>
<rect x="201.04" y="151.52" width="2.22" height="3.83" fill="#f2f4f6"/>
<rect x="203.61" y="151.52" width="2.22" height="3.83" fill="#f2f4f6"/>
<rect x="206.18" y="151.52" width="2.22" height="3.83" fill="#f2f4f6"/>
<rect x="208.75" y="151.52" width="2.22" height="3.83" fill="#f2f4f6"/>
<rect x="211.31" y="151.52" width="2.22" height="3.83" fill="#f2f4f6"/>
<rect x="213.88" y="151.52" width="2.22" height="3.83" fill="#f2f4f6"/>
<rect x="216.45" y="151.52" width="2.22" height="3.83" fill="#f2f4f6"/>
<rect x="219.01" y="151.52" width="2.22" height="3.83" fill="#f2f4f6"/>
<rect x="221.58" y="151.52" width="2.22" height="3.83" fill="#f2f4f6"/>
<rect x="224.15" y="151.52" width="2.22" height="3.83" fill="#f2f4f6"/>
<rect x="226.72" y="151.52" width="2.22" height="3.83" fill="#f2f4f6"/>
<rect x="229.28" y="151.52" width="2.22" height="3.83" fill="#f2f4f6"/>
<rect x="231.85" y="151.52" width="2.22" height="3.83" fill="#f2f4f6"/>
<rect x="234.42" y="151.52" width="2.22" height="3.83" fill="#f2f4f6"/>
<rect x="236.98" y="151.52" width="2.22" height="3.83" fill="#f2f4f6"/>
<rect x="239.55" y="151.52" width="2.22" height="3.83" fill="#f2f4f6"/>
<rect x="242.12" y="151.52" width="2.22" height="3.83" fill="#f2f4f6"/>
<rect x="244.68" y="151.52" width="2.22" height="3.83" fill="#f2f4f6"/>
<rect x="247.25" y="151.52" width="2.22" height="3.83" fill="#f2f4f6"/>
<rect x="249.82" y="151.52" width="2.22" height="3.83" fill="#f2f4f6"/>
<rect x="252.38" y="151.52" width="2.22" height="3.83" fill="#f2f4f6"/>
<rect x="254.95" y="151.52" width="2.22" height="3.83" fill="#f2f4f6"/>
<rect x="257.52" y="151.52" width="2.22" height="3.83" fill="#f2f4f6"/>
<rect x="260.09" y="151.52" width="2.22" height="3.83" fill="#f2f4f6"/>
<rect x="262.65" y="151.52" width="2.22" height="3.83" fill="#f2f4f6"/>
<rect x="265.22" y="151.52" width="2.22" height="3.83" fill="#f2f4f6"/>
<rect x="267.79" y="151.52" width="2.22" height="3.83" fill="#f2f4f6"/>
<rect x="270.35" y="151.52" width="2.22" height="3.83" fill="#f2f4f6"/>
<rect x="272.92" y="151.52" width="2.22" height="3.83" fill="#f2f4f6"/>
<rect x="275.49" y="151.52" width="2.22" height="3.83" fill="#f2f4f6"/>
<rect x="278.06" y="151.52" width="2.22" height="3.83" fill="#f2f4f6"/>
<rect x="280.62" y="151.52" width="2.22" height="3.83" fill="#f2f4f6"/>
<rect x="111.20" y="155.85" width="2.22" height="3.83" fill="#f2f4f6"/>
<rect x="113.77" y="155.85" width="2.22" height="3.83" fill="#bf0010"/>
<rect x="116.33" y="155.85" width="2.22" height="3.83" fill="#f2f4f6"/>
<rect x="118.90" y="155.85" width="2.22" height="3.83" fill="#f2f4f6"/>
<rect x="121.47" y="155.85" width="2.22" height="3.83" fill="#f2f4f6"/>
<rect x="124.04" y="155.85" width="2.22" height="3.83" fill="#bf0010"/>
<rect x="126.60" y="155.85" width="2.22" height="3.83" fill="#bf0010"/>
<rect x="129.17" y="155.85" width="2.22" height="3.83" fill="#f2f4f6"/>
<rect x="131.74" y="155.85" width="2.22" height="3.83" fill="#f2f4f6"/>
<rect x="134.30" y="155.85" width="2.22" height="3.83" fill="#f2f4f6"/>
<rect x="136.87" y="155.85" width="2.22" height="3.83" fill="#f2f4f6"/>
<rect x="139.44" y="155.85" width="2.22" height="3.83" fill="#bf0010"/>
<rect x="142.00" y="155.85" width="2.22" height="3.83" fill="#f2f4f6"/>
<rect x="144.57" y="155.85" width="2.22" height="3.83" fill="#f2f4f6"/>
<rect x="147.14" y="155.85" width="2.22" height="3.83" fill="#f2f4f6"/>
<rect x="149.70" y="155.85" width="2.22" height="3.83" fill="#f2f4f6"/>
<rect x="152.27" y="155.85" width="2.22" height="3.83" fill="#f2f4f6"/>
<rect x="154.84" y="155.85" width="2.22" height="3.83" fill="#f2f4f6"/>
<rect x="157.41" y="155.85" width="2.22" height="3.83" fill="#f2f4f6"/>
<rect x="159.97" y="155.85" width="2.22" height="3.83" fill="#f2f4f6"/>
<rect x="162.54" y="155.85" width="2.22" height="3.83" fill="#f2f4f6"/>
<rect x="165.11" y="155.85" width="2.22" height="3.83" fill="#f2f4f6"/>
<rect x="167.67" y="155.85" width="2.22" height="3.83" fill="#f2f4f6"/>
<rect x="170.24" y="155.85" width="2.22" height="3.83" fill="#f2f4f6"/>
<rect x="172.81" y="155.85" width="2.22" height="3.83" fill="#f2f4f6"/>
<rect x="175.38" y="155.85" width="2.22" height="3.83" fill="#f2f4f6"/>
<rect x="177.94" y="155.85" width="2.22" height="3.83" fill="#f2f4f6"/>
<rect x="180.51" y="155.85" width="2.22" height="3.83" fill="#f2f4f6"/>
<rect x="183.08" y="155.85" width="2.22" height="3.83" fill="#f2f4f6"/>
<rect x="185.64" y="155.85" width="2.22" height="3.83" fill="#f2f4f6"/>
<rect x="188.21" y="155.85" width="2.22" height="3.83" fill="#f2f4f6"/>
<rect x="190.78" y="155.85" width="2.22" height="3.83" fill="#bf0010"/>
<rect x="193.34" y="155.85" width="2.22" height="3.83" fill="#f2f4f6"/>
<rect x="195.91" y="155.85" width="2.22" height="3.83" fill="#f2f4f6"/>
<rect x="198.48" y="155.85" width="2.22" height="3.83" fill="#f2f4f6"/>
<rect x="201.04" y="155.85" width="2.22" height="3.83" fill="#f2f4f6"/>
<rect x="203.61" y="155.85" width="2.22" height="3.83" fill="#bf0010"/>
<rect x="206.18" y="155.85" width="2.22" height="3.83" fill="#f2f4f6"/>
<rect x="208.75" y="155.85" width="2.22" height="3.83" fill="#f2f4f6"/>
<rect x="211.31" y="155.85" width="2.22" height="3.83" fill="#f2f4f6"/>
<rect x="213.88" y="155.85" width="2.22" height="3.83" fill="#f2f4f6"/>
<rect x="216.45" y="155.85" width="2.22" height="3.83" fill="#f2f4f6"/>
<rect x="219.01" y="155.85" width="2.22" height="3.83" fill="#f2f4f6"/>
<rect x="221.58" y="155.85" width="2.22" height="3.83" fill="#f2f4f6"/>
<rect x="224.15" y="155.85" width="2.22" height="3.83" fill="#f2f4f6"/>
<rect x="226.72" y="155.85" width="2.22" height="3.83" fill="#f2f4f6"/>
<rect x="229.28" y="155.85" width="2.22" height="3.83" fill="#f2f4f6"/>
<rect x="231.85" y="155.85" width="2.22" height="3.83" fill="#f2f4f6"/>
<rect x="234.42" y="155.85" width="2.22" height="3.83" fill="#f2f4f6"/>
<rect x="236.98" y="155.85" width="2.22" height="3.83" fill="#f2f4f6"/>
<rect x="239.55" y="155.85" width="2.22" height="3.83" fill="#f2f4f6"/>
<rect x="242.12" y="155.85" width="2.22" height="3.83" fill="#f2f4f6"/>
<rect x="244.68" y="155.85" width="2.22" height="3.83" fill="#f2f4f6"/>
<rect x="247.25" y="155.85" width="2.22" height="3.83" fill="#f2f4f6"/>
<rect x="249.82" y="155.85" width="2.22" height="3.83" fill="#f2f4f6"/>
<rect x="252.38" y="155.85" width="2.22" height="3.83" fill="#f2f4f6"/>
<rect x="254.95" y="155.85" width="2.22" height="3.83" fill="#f2f4f6"/>
<rect x="257.52" y="155.85" width="2.22" height="3.83" fill="#f2f4f6"/>
<rect x="260.09" y="155.85" width="2.22" height="3.83" fill="#f2f4f6"/>
<rect x="262.65" y="155.85" width="2.22" height="3.83" fill="#f2f4f6"/>
<rect x="265.22" y="155.85" width="2.22" height="3.83" fill="#f2f4f6"/>
<rect x="267.79" y="155.85" width="2.22" height="3.83" fill="#f2f4f6"/>
<rect x="270.35" y="155.85" width="2.22" height="3.83" fill="#f2f4f6"/>
<rect x="272.92" y="155.85" width="2.22" height="3.83" fill="#f2f4f6"/>
<rect x="275.49" y="155.85" width="2.22" height="3.83" fill="#f2f4f6"/>
<rect x="278.06" y="155.85" width="2.22" height="3.83" fill="#f2f4f6"/>
<rect x="280.62" y="155.85" width="2.22" height="3.83" fill="#f2f4f6"/>
<rect x="111.20" y="160.18" width="2.22" height="3.83" fill="#f2f4f6"/>
<rect x="113.77" y="160.18" width="2.22" height="3.83" fill="#f2f4f6"/>
<rect x="116.33" y="160.18" width="2.22" height="3.83" fill="#f2f4f6"/>
<rect x="118.90" y="160.18" width="2.22" height="3.83" fill="#f2f4f6"/>
<rect x="121.47" y="160.18" width="2.22" height="3.83" fill="#f2f4f6"/>
<rect x="124.04" y="160.18" width="2.22" height="3.83" fill="#f2f4f6"/>
<rect x="126.60" y="160.18" width="2.22" height="3.83" fill="#f2f4f6"/>
<rect x="129.17" y="160.18" width="2.22" height="3.83" fill="#f2f4f6"/>
<rect x="131.74" y="160.18" width="2.22" height="3.83" fill="#f2f4f6"/>
<rect x="134.30" y="160.18" width="2.22" height="3.83" fill="#f2f4f6"/>
<rect x="136.87" y="160.18" width="2.22" height="3.83" fill="#f2f4f6"/>
<rect x="139.44" y="160.18" width="2.22" height="3.83" fill="#f2f4f6"/>
<rect x="142.00" y="160.18" width="2.22" height="3.83" fill="#f2f4f6"/>
<rect x="144.57" y="160.18" width="2.22" height="3.83" fill="#f2f4f6"/>
<rect x="147.14" y="160.18" width="2.22" height="3.83" fill="#f2f4f6"/>
<rect x="149.70" y="160.18" width="2.22" height="3.83" fill="#f2f4f6"/>
<rect x="152.27" y="160.18" width="2.22" height="3.83" fill="#2a7cf2"/>
<rect x="154.84" y="160.18" width="2.22" height="3.83" fill="#f2f4f6"/>
<rect x="157.41" y="160.18" width="2.22" height="3.83" fill="#f2f4f6"/>
<rect x="159.97" y="160.18" width="2.22" height="3.83" fill="#f2f4f6"/>
<rect x="162.54" y="160.18" width="2.22" height="3.83" fill="#f2f4f6"/>
<rect x="165.11" y="160.18" width="2.22" height="3.83" fill="#f2f4f6"/>
<rect x="167.67" y="160.18" width="2.22" height="3.83" fill="#f2f4f6"/>
<rect x="170.24" y="160.18" width="2.22" height="3.83" fill="#f2f4f6"/>
<rect x="172.81" y="160.18" width="2.22" height="3.83" fill="#f2f4f6"/>
<rect x="175.38" y="160.18" width="2.22" height="3.83" fill="#f2f4f6"/>
<rect x="177.94" y="160.18" width="2.22" height="3.83" fill="#9ff07a"/>
<rect x="180.51" y="160.18" width="2.22" height="3.83" fill="#f2f4f6"/>
<rect x="183.08" y="160.18" width="2.22" height="3.83" fill="#f2f4f6"/>
<rect x="185.64" y="160.18" width="2.22" height="3.83" fill="#f2f4f6"/>
<rect x="188.21" y="160.18" width="2.22" height="3.83" fill="#f2f4f6"/>
<rect x="190.78" y="160.18" width="2.22" height="3.83" fill="#f2f4f6"/>
<rect x="193.34" y="160.18" width="2.22" height="3.83" fill="#f2f4f6"/>
<rect x="195.91" y="160.18" width="2.22" height="3.83" fill="#f2f4f6"/>
<rect x="198.48" y="160.18" width="2.22" height="3.83" fill="#f2f4f6"/>
<rect x="201.04" y="160.18" width="2.22" height="3.83" fill="#bf0010"/>
<rect x="203.61" y="160.18" width="2.22" height="3.83" fill="#bf0010"/>
<rect x="206.18" y="160.18" width="2.22" height="3.83" fill="#f2f4f6"/>
<rect x="208.75" y="160.18" width="2.22" height="3.83" fill="#9ff07a"/>
<rect x="211.31" y="160.18" width="2.22" height="3.83" fill="#f2f4f6"/>
<rect x="213.88" y="160.18" width="2.22" height="3.83" fill="#f2f4f6"/>
<rect x="216.45" y="160.18" width="2.22" height="3.83" fill="#000000"/>
<rect x="219.01" y="160.18" width="2.22" height="3.83" fill="#f2f4f6"/>
<rect x="221.58" y="160.18" width="2.22" height="3.83" fill="#f2f4f6"/>
<rect x="224.15" y="160.18" width="2.22" height="3.83" fill="#f2f4f6"/>
<rect x="226.72" y="160.18" width="2.22" height="3.83" fill="#f2f4f6"/>
<rect x="229.28" y="160.18" width="2.22" height="3.83" fill="#f2f4f6"/>
<rect x="231.85" y="160.18" width="2.22" height="3.83" fill="#f2f4f6"/>
<rect x="234.42" y="160.18" width="2.22" height="3.83" fill="#f2f4f6"/>
<rect x="236.98" y="160.18" width="2.22" height="3.83" fill="#f2f4f6"/>
<rect x="239.55" y="160.18" width="2.22" height="3.83" fill="#f2f4f6"/>
<rect x="242.12" y="160.18" width="2.22" height="3.83" fill="#f2f4f6"/>
<rect x="244.68" y="160.18" width="2.22" height="3.83" fill="#f2f4f6"/>
<rect x="247.25" y="160.18" width="2.22" height="3.83" fill="#f2f4f6"/>
<rect x="249.82" y="160.18" width="2.22" height="3.83" fill="#f2f4f6"/>
<rect x="252.38" y="160.18" width="2.22" height="3.83" fill="#f2f4f6"/>
<rect x="254.95" y="160.18" width="2.22" height="3.83" fill="#f2f4f6"/>
<rect x="257.52" y="160.18" width="2.22" height="3.83" fill="#f2f4f6"/>
<rect x="260.09" y="160.18" width="2.22" height="3.83" fill="#f2f4f6"/>
<rect x="262.65" y="160.18" width="2.22" height="3.83" fill="#f2f4f6"/>
<rect x="265.22" y="160.18" width="2.22" height="3.83" fill="#f2f4f6"/>
<rect x="267.79" y="160.18" width="2.22" height="3.83" fill="#f2f4f6"/>
<rect x="270.35" y="160.18" width="2.22" height="3.83" fill="#f2f4f6"/>
<rect x="272.92" y="160.18" width="2.22" height="3.83" fill="#f2f4f6"/>
<rect x="275.49" y="160.18" width="2.22" height="3.83" fill="#f2f4f6"/>
<rect x="278.06" y="160.18" width="2.22" height="3.83" fill="#f2f4f6"/>
<rect x="280.62" y="160.18" width="2.22" height="3.83" fill="#f2f4f6"/>
<rect x="111.20" y="164.51" width="2.22" height="3.83" fill="#f2f4f6"/>
<rect x="113.77" y="164.51" width="2.22" height="3.83" fill="#000000"/>
<rect x="116.33" y="164.51" width="2.22" height="3.83" fill="#f2f4f6"/>
<rect x="118.90" y="164.51" width="2.22" height="3.83" fill="#f2f4f6"/>
<rect x="121.47" y="164.51" width="2.22" height="3.83" fill="#f2f4f6"/>
<rect x="124.04" y="164.51" width="2.22" height="3.83" fill="#f2f4f6"/>
<rect x="126.60" y="164.51" width="2.22" height="3.83" fill="#f2f4f6"/>
<rect x="129.17" y="164.51" width="2.22" height="3.83" fill="#f2f4f6"/>
<rect x="131.74" y="164.51" width="2.22" height="3.83" fill="#f2f4f6"/>
<rect x="134.30" y="164.51" width="2.22" height="3.83" fill="#f2f4f6"/>
<rect x="136.87" y="164.51" width="2.22" height="3.83" fill="#f2f4f6"/>
<rect x="139.44" y="164.51" width="2.22" height="3.83" fill="#f2f4f6"/>
<rect x="142.00" y="164.51" width="2.22" height="3.83" fill="#f2f4f6"/>
<rect x="144.57" y="164.51" width="2.22" height="3.83" fill="#f2f4f6"/>
<rect x="147.14" y="164.51" width="2.22" height="3.83" fill="#f2f4f6"/>
<rect x="149.70" y="164.51" width="2.22" height="3.83" fill="#f2f4f6"/>
<rect x="152.27" y="164.51" width="2.22" height="3.83" fill="#f2f4f6"/>
<rect x="154.84" y="164.51" width="2.22" height="3.83" fill="#f2f4f6"/>
<rect x="157.41" y="164.51" width="2.22" height="3.83" fill="#f2f4f6"/>
<rect x="159.97" y="164.51" width="2.22" height="3.83" fill="#f2f4f6"/>
<rect x="162.54" y="164.51" width="2.22" height="3.83" fill="#f2f4f6"/>
<rect x="165.11" y="164.51" width="2.22" height="3.83" fill="#f2f4f6"/>
<rect x="167.67" y="164.51" width="2.22" height="3.83" fill="#f2f4f6"/>
<rect x="170.24" y="164.51" width="2.22" height="3.83" fill="#f2f4f6"/>
<rect x="172.81" y="164.51" width="2.22" height="3.83" fill="#f2f4f6"/>
<rect x="175.38" y="164.51" width="2.22" height="3.83" fill="#2a7cf2"/>
<rect x="177.94" y="164.51" width="2.22" height="3.83" fill="#f2f4f6"/>
<rect x="180.51" y="164.51" width="2.22" height="3.83" fill="#f2f4f6"/>
<rect x="183.08" y="164.51" width="2.22" height="3.83" fill="#f2f4f6"/>
<rect x="185.64" y="164.51" width="2.22" height="3.83" fill="#f2f4f6"/>
<rect x="188.21" y="164.51" width="2.22" height="3.83" fill="#f2f4f6"/>
<rect x="190.78" y="164.51" width="2.22" height="3.83" fill="#f2f4f6"/>
<rect x="193.34" y="164.51" width="2.22" height="3.83" fill="#f2f4f6"/>
<rect x="195.91" y="164.51" width="2.22" height="3.83" fill="#f2f4f6"/>
<rect x="198.48" y="164.51" width="2.22" height="3.83" fill="#2a7cf2"/>
<rect x="201.04" y="164.51" width="2.22" height="3.83" fill="#f2f4f6"/>
<rect x="203.61" y="164.51" width="2.22" height="3.83" fill="#f2f4f6"/>
<rect x="206.18" y="164.51" width="2.22" height="3.83" fill="#f2f4f6"/>
<rect x="208.75" y="164.51" width="2.22" height="3.83" fill="#f2f4f6"/>
<rect x="211.31" y="164.51" width="2.22" height="3.83" fill="#f2f4f6"/>
<rect x="213.88" y="164.51" width="2.22" height="3.83" fill="#f2f4f6"/>
<rect x="216.45" y="164.51" width="2.22" height="3.83" fill="#f2f4f6"/>
<rect x="219.01" y="164.51" width="2.22" height="3.83" fill="#f2f4f6"/>
<rect x="221.58" y="164.51" width="2.22" height="3.83" fill="#f2f4f6"/>
<rect x="224.15" y="164.51" width="2.22" height="3.83" fill="#9ff07a"/>
<rect x="226.72" y="164.51" width="2.22" height="3.83" fill="#2a7cf2"/>
<rect x="229.28" y="164.51" width="2.22" height="3.83" fill="#f2f4f6"/>
<rect x="231.85" y="164.51" width="2.22" height="3.83" fill="#f2f4f6"/>
<rect x="234.42" y="164.51" width="2.22" height="3.83" fill="#f2f4f6"/>
<rect x="236.98" y="164.51" width="2.22" height="3.83" fill="#f2f4f6"/>
<rect x="239.55" y="164.51" width="2.22" height="3.83" fill="#f2f4f6"/>
<rect x="242.12" y="164.51" width="2.22" height="3.83" fill="#f2f4f6"/>
<rect x="244.68" y="164.51" width="2.22" height="3.83" fill="#ffb300"/>
<rect x="247.25" y="164.51" width="2.22" height="3.83" fill="#f2f4f6"/>
<rect x="249.82" y="164.51" width="2.22" height="3.83" fill="#f2f4f6"/>
<rect x="252.38" y="164.51" width="2.22" height="3.83" fill="#f2f4f6"/>
<rect x="254.95" y="164.51" width="2.22" height="3.83" fill="#f2f4f6"/>
<rect x="257.52" y="164.51" width="2.22" height="3.83" fill="#f2f4f6"/>
<rect x="260.09" y="164.51" width="2.22" height="3.83" fill="#f2f4f6"/>
<rect x="262.65" y="164.51" width="2.22" height="3.83" fill="#f2f4f6"/>
<rect x="265.22" y="164.51" width="2.22" height="3.83" fill="#f2f4f6"/>
<rect x="267.79" y="164.51" width="2.22" height="3.83" fill="#f2f4f6"/>
<rect x="270.35" y="164.51" width="2.22" height="3.83" fill="#f2f4f6"/>
<rect x="272.92" y="164.51" width="2.22" height="3.83" fill="#f2f4f6"/>
<rect x="275.49" y="164.51" width="2.22" height="3.83" fill="#f2f4f6"/>
<rect x="278.06" y="164.51" width="2.22" height="3.83" fill="#f2f4f6"/>
<rect x="280.62" y="164.51" width="2.22" height="3.83" fill="#f2f4f6"/>
<rect x="111.20" y="168.84" width="2.22" height="3.83" fill="#f2f4f6"/>
<rect x="113.77" y="168.84" width="2.22" height="3.83" fill="#bf0010"/>
<rect x="116.33" y="168.84" width="2.22" height="3.83" fill="#f2f4f6"/>
<rect x="118.90" y="168.84" width="2.22" height="3.83" fill="#f2f4f6"/>
<rect x="121.47" y="168.84" width="2.22" height="3.83" fill="#f2f4f6"/>
<rect x="124.04" y="168.84" width="2.22" height="3.83" fill="#f2f4f6"/>
<rect x="126.60" y="168.84" width="2.22" height="3.83" fill="#f2f4f6"/>
<rect x="129.17" y="168.84" width="2.22" height="3.83" fill="#f2f4f6"/>
<rect x="131.74" y="168.84" width="2.22" height="3.83" fill="#f2f4f6"/>
<rect x="134.30" y="168.84" width="2.22" height="3.83" fill="#f2f4f6"/>
<rect x="136.87" y="168.84" width="2.22" height="3.83" fill="#f2f4f6"/>
<rect x="139.44" y="168.84" width="2.22" height="3.83" fill="#f2f4f6"/>
<rect x="142.00" y="168.84" width="2.22" height="3.83" fill="#f2f4f6"/>
<rect x="144.57" y="168.84" width="2.22" height="3.83" fill="#f2f4f6"/>
<rect x="147.14" y="168.84" width="2.22" height="3.83" fill="#f2f4f6"/>
<rect x="149.70" y="168.84" width="2.22" height="3.83" fill="#f2f4f6"/>
<rect x="152.27" y="168.84" width="2.22" height="3.83" fill="#f2f4f6"/>
<rect x="154.84" y="168.84" width="2.22" height="3.83" fill="#f2f4f6"/>
<rect x="157.41" y="168.84" width="2.22" height="3.83" fill="#f2f4f6"/>
<rect x="159.97" y="168.84" width="2.22" height="3.83" fill="#9ff07a"/>
<rect x="162.54" y="168.84" width="2.22" height="3.83" fill="#bf0010"/>
<rect x="165.11" y="168.84" width="2.22" height="3.83" fill="#f2f4f6"/>
<rect x="167.67" y="168.84" width="2.22" height="3.83" fill="#f2f4f6"/>
<rect x="170.24" y="168.84" width="2.22" height="3.83" fill="#f2f4f6"/>
<rect x="172.81" y="168.84" width="2.22" height="3.83" fill="#f2f4f6"/>
<rect x="175.38" y="168.84" width="2.22" height="3.83" fill="#f2f4f6"/>
<rect x="177.94" y="168.84" width="2.22" height="3.83" fill="#bf0010"/>
<rect x="180.51" y="168.84" width="2.22" height="3.83" fill="#f2f4f6"/>
<rect x="183.08" y="168.84" width="2.22" height="3.83" fill="#f2f4f6"/>
<rect x="185.64" y="168.84" width="2.22" height="3.83" fill="#f2f4f6"/>
<rect x="188.21" y="168.84" width="2.22" height="3.83" fill="#f2f4f6"/>
<rect x="190.78" y="168.84" width="2.22" height="3.83" fill="#f2f4f6"/>
<rect x="193.34" y="168.84" width="2.22" height="3.83" fill="#f2f4f6"/>
<rect x="195.91" y="168.84" width="2.22" height="3.83" fill="#f2f4f6"/>
<rect x="198.48" y="168.84" width="2.22" height="3.83" fill="#bf0010"/>
<rect x="201.04" y="168.84" width="2.22" height="3.83" fill="#f2f4f6"/>
<rect x="203.61" y="168.84" width="2.22" height="3.83" fill="#f2f4f6"/>
<rect x="206.18" y="168.84" width="2.22" height="3.83" fill="#f2f4f6"/>
<rect x="208.75" y="168.84" width="2.22" height="3.83" fill="#f2f4f6"/>
<rect x="211.31" y="168.84" width="2.22" height="3.83" fill="#f2f4f6"/>
<rect x="213.88" y="168.84" width="2.22" height="3.83" fill="#f2f4f6"/>
<rect x="216.45" y="168.84" width="2.22" height="3.83" fill="#9ff07a"/>
<rect x="219.01" y="168.84" width="2.22" height="3.83" fill="#f2f4f6"/>
<rect x="221.58" y="168.84" width="2.22" height="3.83" fill="#f2f4f6"/>
<rect x="224.15" y="168.84" width="2.22" height="3.83" fill="#f2f4f6"/>
<rect x="226.72" y="168.84" width="2.22" height="3.83" fill="#f2f4f6"/>
<rect x="229.28" y="168.84" width="2.22" height="3.83" fill="#f2f4f6"/>
<rect x="231.85" y="168.84" width="2.22" height="3.83" fill="#f2f4f6"/>
<rect x="234.42" y="168.84" width="2.22" height="3.83" fill="#f2f4f6"/>
<rect x="236.98" y="168.84" width="2.22" height="3.83" fill="#f2f4f6"/>
<rect x="239.55" y="168.84" width="2.22" height="3.83" fill="#f2f4f6"/>
<rect x="242.12" y="168.84" width="2.22" height="3.83" fill="#f2f4f6"/>
<rect x="244.68" y="168.84" width="2.22" height="3.83" fill="#f2f4f6"/>
<rect x="247.25" y="168.84" width="2.22" height="3.83" fill="#f2f4f6"/>
<rect x="249.82" y="168.84" width="2.22" height="3.83" fill="#f2f4f6"/>
<rect x="252.38" y="168.84" width="2.22" height="3.83" fill="#f2f4f6"/>
<rect x="254.95" y="168.84" width="2.22" height="3.83" fill="#f2f4f6"/>
<rect x="257.52" y="168.84" width="2.22" height="3.83" fill="#f2f4f6"/>
<rect x="260.09" y="168.84" width="2.22" height="3.83" fill="#f2f4f6"/>
<rect x="262.65" y="168.84" width="2.22" height="3.83" fill="#f2f4f6"/>
<rect x="265.22" y="168.84" width="2.22" height="3.83" fill="#f2f4f6"/>
<rect x="267.79" y="168.84" width="2.22" height="3.83" fill="#f2f4f6"/>
<rect x="270.35" y="168.84" width="2.22" height="3.83" fill="#f2f4f6"/>
<rect x="272.92" y="168.84" width="2.22" height="3.83" fill="#f2f4f6"/>
<rect x="275.49" y="168.84" width="2.22" height="3.83" fill="#f2f4f6"/>
<rect x="278.06" y="168.84" width="2.22" height="3.83" fill="#f2f4f6"/>
<rect x="280.62" y="168.84" width="2.22" height="3.83" fill="#f2f4f6"/>
<rect x="111.20" y="173.17" width="2.22" height="3.83" fill="#f2f4f6"/>
<rect x="113.77" y="173.17" width="2.22" height="3.83" fill="#9ff07a"/>
<rect x="116.33" y="173.17" width="2.22" height="3.83" fill="#2a7cf2"/>
<rect x="118.90" y="173.17" width="2.22" height="3.83" fill="#f2f4f6"/>
<rect x="121.47" y="173.17" width="2.22" height="3.83" fill="#f2f4f6"/>
<rect x="124.04" y="173.17" width="2.22" height="3.83" fill="#f2f4f6"/>
<rect x="126.60" y="173.17" width="2.22" height="3.83" fill="#f2f4f6"/>
<rect x="129.17" y="173.17" width="2.22" height="3.83" fill="#f2f4f6"/>
<rect x="131.74" y="173.17" width="2.22" height="3.83" fill="#f2f4f6"/>
<rect x="134.30" y="173.17" width="2.22" height="3.83" fill="#f2f4f6"/>
<rect x="136.87" y="173.17" width="2.22" height="3.83" fill="#f2f4f6"/>
<rect x="139.44" y="173.17" width="2.22" height="3.83" fill="#f2f4f6"/>
<rect x="142.00" y="173.17" width="2.22" height="3.83" fill="#f2f4f6"/>
<rect x="144.57" y="173.17" width="2.22" height="3.83" fill="#f2f4f6"/>
<rect x="147.14" y="173.17" width="2.22" height="3.83" fill="#f2f4f6"/>
<rect x="149.70" y="173.17" width="2.22" height="3.83" fill="#f2f4f6"/>
<rect x="152.27" y="173.17" width="2.22" height="3.83" fill="#f2f4f6"/>
<rect x="154.84" y="173.17" width="2.22" height="3.83" fill="#f2f4f6"/>
<rect x="157.41" y="173.17" width="2.22" height="3.83" fill="#f2f4f6"/>
<rect x="159.97" y="173.17" width="2.22" height="3.83" fill="#f2f4f6"/>
<rect x="162.54" y="173.17" width="2.22" height="3.83" fill="#f2f4f6"/>
<rect x="165.11" y="173.17" width="2.22" height="3.83" fill="#f2f4f6"/>
<rect x="167.67" y="173.17" width="2.22" height="3.83" fill="#f2f4f6"/>
<rect x="170.24" y="173.17" width="2.22" height="3.83" fill="#f2f4f6"/>
<rect x="172.81" y="173.17" width="2.22" height="3.83" fill="#f2f4f6"/>
<rect x="175.38" y="173.17" width="2.22" height="3.83" fill="#f2f4f6"/>
<rect x="177.94" y="173.17" width="2.22" height="3.83" fill="#f2f4f6"/>
<rect x="180.51" y="173.17" width="2.22" height="3.83" fill="#f2f4f6"/>
<rect x="183.08" y="173.17" width="2.22" height="3.83" fill="#f2f4f6"/>
<rect x="185.64" y="173.17" width="2.22" height="3.83" fill="#9ff07a"/>
<rect x="188.21" y="173.17" width="2.22" height="3.83" fill="#f2f4f6"/>
<rect x="190.78" y="173.17" width="2.22" height="3.83" fill="#f2f4f6"/>
<rect x="193.34" y="173.17" width="2.22" height="3.83" fill="#f2f4f6"/>
<rect x="195.91" y="173.17" width="2.22" height="3.83" fill="#f2f4f6"/>
<rect x="198.48" y="173.17" width="2.22" height="3.83" fill="#2a7cf2"/>
<rect x="201.04" y="173.17" width="2.22" height="3.83" fill="#f2f4f6"/>
<rect x="203.61" y="173.17" width="2.22" height="3.83" fill="#f2f4f6"/>
<rect x="206.18" y="173.17" width="2.22" height="3.83" fill="#f2f4f6"/>
<rect x="208.75" y="173.17" width="2.22" height="3.83" fill="#f2f4f6"/>
<rect x="211.31" y="173.17" width="2.22" height="3.83" fill="#f2f4f6"/>
<rect x="213.88" y="173.17" width="2.22" height="3.83" fill="#f2f4f6"/>
<rect x="216.45" y="173.17" width="2.22" height="3.83" fill="#f2f4f6"/>
<rect x="219.01" y="173.17" width="2.22" height="3.83" fill="#f2f4f6"/>
<rect x="221.58" y="173.17" width="2.22" height="3.83" fill="#f2f4f6"/>
<rect x="224.15" y="173.17" width="2.22" height="3.83" fill="#f2f4f6"/>
<rect x="226.72" y="173.17" width="2.22" height="3.83" fill="#bf0010"/>
<rect x="229.28" y="173.17" width="2.22" height="3.83" fill="#f2f4f6"/>
<rect x="231.85" y="173.17" width="2.22" height="3.83" fill="#9ff07a"/>
<rect x="234.42" y="173.17" width="2.22" height="3.83" fill="#f2f4f6"/>
<rect x="236.98" y="173.17" width="2.22" height="3.83" fill="#f2f4f6"/>
<rect x="239.55" y="173.17" width="2.22" height="3.83" fill="#f2f4f6"/>
<rect x="242.12" y="173.17" width="2.22" height="3.83" fill="#f2f4f6"/>
<rect x="244.68" y="173.17" width="2.22" height="3.83" fill="#f2f4f6"/>
<rect x="247.25" y="173.17" width="2.22" height="3.83" fill="#f2f4f6"/>
<rect x="249.82" y="173.17" width="2.22" height="3.83" fill="#f2f4f6"/>
<rect x="252.38" y="173.17" width="2.22" height="3.83" fill="#f2f4f6"/>
<rect x="254.95" y="173.17" width="2.22" height="3.83" fill="#f2f4f6"/>
<rect x="257.52" y="173.17" width="2.22" height="3.83" fill="#f2f4f6"/>
<rect x="260.09" y="173.17" width="2.22" height="3.83" fill="#f2f4f6"/>
<rect x="262.65" y="173.17" width="2.22" height="3.83" fill="#f2f4f6"/>
<rect x="265.22" y="173.17" width="2.22" height="3.83" fill="#f2f4f6"/>
<rect x="267.79" y="173.17" width="2.22" height="3.83" fill="#f2f4f6"/>
<rect x="270.35" y="173.17" width="2.22" height="3.83" fill="#f2f4f6"/>
<rect x="272.92" y="173.17" width="2.22" height="3.83" fill="#f2f4f6"/>
<rect x="275.49" y="173.17" width="2.22" height="3.83" fill="#f2f4f6"/>
<rect x="278.06" y="173.17" width="2.22" height="3.83" fill="#f2f4f6"/>
<rect x="280.62" y="173.17" width="2.22" height="3.83" fill="#f2f4f6"/>
<rect x="111.20" y="177.50" width="2.22" height="3.83" fill="#f2f4f6"/>
<rect x="113.77" y="177.50" width="2.22" height="3.83" fill="#bf0010"/>
<rect x="116.33" y="177.50" width="2.22" height="3.83" fill="#f2f4f6"/>
<rect x="118.90" y="177.50" width="2.22" height="3.83" fill="#f2f4f6"/>
<rect x="121.47" y="177.50" width="2.22" height="3.83" fill="#f2f4f6"/>
<rect x="124.04" y="177.50" width="2.22" height="3.83" fill="#f2f4f6"/>
<rect x="126.60" y="177.50" width="2.22" height="3.83" fill="#f2f4f6"/>
<rect x="129.17" y="177.50" width="2.22" height="3.83" fill="#f2f4f6"/>
<rect x="131.74" y="177.50" width="2.22" height="3.83" fill="#000000"/>
<rect x="134.30" y="177.50" width="2.22" height="3.83" fill="#f2f4f6"/>
<rect x="136.87" y="177.50" width="2.22" height="3.83" fill="#f2f4f6"/>
<rect x="139.44" y="177.50" width="2.22" height="3.83" fill="#f2f4f6"/>
<rect x="142.00" y="177.50" width="2.22" height="3.83" fill="#f2f4f6"/>
<rect x="144.57" y="177.50" width="2.22" height="3.83" fill="#f2f4f6"/>
<rect x="147.14" y="177.50" width="2.22" height="3.83" fill="#ffb300"/>
<rect x="149.70" y="177.50" width="2.22" height="3.83" fill="#f2f4f6"/>
<rect x="152.27" y="177.50" width="2.22" height="3.83" fill="#f2f4f6"/>
<rect x="154.84" y="177.50" width="2.22" height="3.83" fill="#f2f4f6"/>
<rect x="157.41" y="177.50" width="2.22" height="3.83" fill="#9ff07a"/>
<rect x="159.97" y="177.50" width="2.22" height="3.83" fill="#f2f4f6"/>
<rect x="162.54" y="177.50" width="2.22" height="3.83" fill="#f2f4f6"/>
<rect x="165.11" y="177.50" width="2.22" height="3.83" fill="#f2f4f6"/>
<rect x="167.67" y="177.50" width="2.22" height="3.83" fill="#f2f4f6"/>
<rect x="170.24" y="177.50" width="2.22" height="3.83" fill="#f2f4f6"/>
<rect x="172.81" y="177.50" width="2.22" height="3.83" fill="#f2f4f6"/>
<rect x="175.38" y="177.50" width="2.22" height="3.83" fill="#f2f4f6"/>
<rect x="177.94" y="177.50" width="2.22" height="3.83" fill="#f2f4f6"/>
<rect x="180.51" y="177.50" width="2.22" height="3.83" fill="#f2f4f6"/>
<rect x="183.08" y="177.50" width="2.22" height="3.83" fill="#f2f4f6"/>
<rect x="185.64" y="177.50" width="2.22" height="3.83" fill="#f2f4f6"/>
<rect x="188.21" y="177.50" width="2.22" height="3.83" fill="#f2f4f6"/>
<rect x="190.78" y="177.50" width="2.22" height="3.83" fill="#f2f4f6"/>
<rect x="193.34" y="177.50" width="2.22" height="3.83" fill="#f2f4f6"/>
<rect x="195.91" y="177.50" width="2.22" height="3.83" fill="#f2f4f6"/>
<rect x="198.48" y="177.50" width="2.22" height="3.83" fill="#f2f4f6"/>
<rect x="201.04" y="177.50" width="2.22" height="3.83" fill="#bf0010"/>
<rect x="203.61" y="177.50" width="2.22" height="3.83" fill="#f2f4f6"/>
<rect x="206.18" y="177.50" width="2.22" height="3.83" fill="#f2f4f6"/>
<rect x="208.75" y="177.50" width="2.22" height="3.83" fill="#f2f4f6"/>
<rect x="211.31" y="177.50" width="2.22" height="3.83" fill="#f2f4f6"/>
<rect x="213.88" y="177.50" width="2.22" height="3.83" fill="#f2f4f6"/>
<rect x="216.45" y="177.50" width="2.22" height="3.83" fill="#f2f4f6"/>
<rect x="219.01" y="177.50" width="2.22" height="3.83" fill="#f2f4f6"/>
<rect x="221.58" y="177.50" width="2.22" height="3.83" fill="#9ff07a"/>
<rect x="224.15" y="177.50" width="2.22" height="3.83" fill="#f2f4f6"/>
<rect x="226.72" y="177.50" width="2.22" height="3.83" fill="#f2f4f6"/>
<rect x="229.28" y="177.50" width="2.22" height="3.83" fill="#f2f4f6"/>
<rect x="231.85" y="177.50" width="2.22" height="3.83" fill="#f2f4f6"/>
<rect x="234.42" y="177.50" width="2.22" height="3.83" fill="#f2f4f6"/>
<rect x="236.98" y="177.50" width="2.22" height="3.83" fill="#f2f4f6"/>
<rect x="239.55" y="177.50" width="2.22" height="3.83" fill="#f2f4f6"/>
<rect x="242.12" y="177.50" width="2.22" height="3.83" fill="#f2f4f6"/>
<rect x="244.68" y="177.50" width="2.22" height="3.83" fill="#f2f4f6"/>
<rect x="247.25" y="177.50" width="2.22" height="3.83" fill="#f2f4f6"/>
<rect x="249.82" y="177.50" width="2.22" height="3.83" fill="#f2f4f6"/>
<rect x="252.38" y="177.50" width="2.22" height="3.83" fill="#f2f4f6"/>
<rect x="254.95" y="177.50" width="2.22" height="3.83" fill="#f2f4f6"/>
<rect x="257.52" y="177.50" width="2.22" height="3.83" fill="#f2f4f6"/>
<rect x="260.09" y="177.50" width="2.22" height="3.83" fill="#f2f4f6"/>
<rect x="262.65" y="177.50" width="2.22" height="3.83" fill="#f2f4f6"/>
<rect x="265.22" y="177.50" width="2.22" height="3.83" fill="#f2f4f6"/>
<rect x="267.79" y="177.50" width="2.22" height="3.83" fill="#f2f4f6"/>
<rect x="270.35" y="177.50" width="2.22" height="3.83" fill="#f2f4f6"/>
<rect x="272.92" y="177.50" width="2.22" height="3.83" fill="#f2f4f6"/>
<rect x="275.49" y="177.50" width="2.22" height="3.83" fill="#f2f4f6"/>
<rect x="278.06" y="177.50" width="2.22" height="3.83" fill="#f2f4f6"/>
<rect x="280.62" y="177.50" width="2.22" height="3.83" fill="#f2f4f6"/>
<rect x="111.20" y="181.83" width="2.22" height="3.83" fill="#f2f4f6"/>
<rect x="113.77" y="181.83" width="2.22" height="3.83" fill="#ffb300"/>
<rect x="116.33" y="181.83" width="2.22" height="3.83" fill="#f2f4f6"/>
<rect x="118.90" y="181.83" width="2.22" height="3.83" fill="#f2f4f6"/>
<rect x="121.47" y="181.83" width="2.22" height="3.83" fill="#f2f4f6"/>
<rect x="124.04" y="181.83" width="2.22" height="3.83" fill="#f2f4f6"/>
<rect x="126.60" y="181.83" width="2.22" height="3.83" fill="#f2f4f6"/>
<rect x="129.17" y="181.83" width="2.22" height="3.83" fill="#f2f4f6"/>
<rect x="131.74" y="181.83" width="2.22" height="3.83" fill="#f2f4f6"/>
<rect x="134.30" y="181.83" width="2.22" height="3.83" fill="#f2f4f6"/>
<rect x="136.87" y="181.83" width="2.22" height="3.83" fill="#f2f4f6"/>
<rect x="139.44" y="181.83" width="2.22" height="3.83" fill="#f2f4f6"/>
<rect x="142.00" y="181.83" width="2.22" height="3.83" fill="#f2f4f6"/>
<rect x="144.57" y="181.83" width="2.22" height="3.83" fill="#f2f4f6"/>
<rect x="147.14" y="181.83" width="2.22" height="3.83" fill="#ffb300"/>
<rect x="149.70" y="181.83" width="2.22" height="3.83" fill="#ffb300"/>
<rect x="152.27" y="181.83" width="2.22" height="3.83" fill="#f2f4f6"/>
<rect x="154.84" y="181.83" width="2.22" height="3.83" fill="#f2f4f6"/>
<rect x="157.41" y="181.83" width="2.22" height="3.83" fill="#f2f4f6"/>
<rect x="159.97" y="181.83" width="2.22" height="3.83" fill="#f2f4f6"/>
<rect x="162.54" y="181.83" width="2.22" height="3.83" fill="#f2f4f6"/>
<rect x="165.11" y="181.83" width="2.22" height="3.83" fill="#f2f4f6"/>
<rect x="167.67" y="181.83" width="2.22" height="3.83" fill="#f2f4f6"/>
<rect x="170.24" y="181.83" width="2.22" height="3.83" fill="#f2f4f6"/>
<rect x="172.81" y="181.83" width="2.22" height="3.83" fill="#f2f4f6"/>
<rect x="175.38" y="181.83" width="2.22" height="3.83" fill="#f2f4f6"/>
<rect x="177.94" y="181.83" width="2.22" height="3.83" fill="#f2f4f6"/>
<rect x="180.51" y="181.83" width="2.22" height="3.83" fill="#f2f4f6"/>
<rect x="183.08" y="181.83" width="2.22" height="3.83" fill="#f2f4f6"/>
<rect x="185.64" y="181.83" width="2.22" height="3.83" fill="#f2f4f6"/>
<rect x="188.21" y="181.83" width="2.22" height="3.83" fill="#f2f4f6"/>
<rect x="190.78" y="181.83" width="2.22" height="3.83" fill="#f2f4f6"/>
<rect x="193.34" y="181.83" width="2.22" height="3.83" fill="#ffb300"/>
<rect x="195.91" y="181.83" width="2.22" height="3.83" fill="#f2f4f6"/>
<rect x="198.48" y="181.83" width="2.22" height="3.83" fill="#f2f4f6"/>
<rect x="201.04" y="181.83" width="2.22" height="3.83" fill="#ffb300"/>
<rect x="203.61" y="181.83" width="2.22" height="3.83" fill="#f2f4f6"/>
<rect x="206.18" y="181.83" width="2.22" height="3.83" fill="#f2f4f6"/>
<rect x="208.75" y="181.83" width="2.22" height="3.83" fill="#f2f4f6"/>
<rect x="211.31" y="181.83" width="2.22" height="3.83" fill="#f2f4f6"/>
<rect x="213.88" y="181.83" width="2.22" height="3.83" fill="#f2f4f6"/>
<rect x="216.45" y="181.83" width="2.22" height="3.83" fill="#f2f4f6"/>
<rect x="219.01" y="181.83" width="2.22" height="3.83" fill="#f2f4f6"/>
<rect x="221.58" y="181.83" width="2.22" height="3.83" fill="#f2f4f6"/>
<rect x="224.15" y="181.83" width="2.22" height="3.83" fill="#f2f4f6"/>
<rect x="226.72" y="181.83" width="2.22" height="3.83" fill="#f2f4f6"/>
<rect x="229.28" y="181.83" width="2.22" height="3.83" fill="#f2f4f6"/>
<rect x="231.85" y="181.83" width="2.22" height="3.83" fill="#f2f4f6"/>
<rect x="234.42" y="181.83" width="2.22" height="3.83" fill="#ffb300"/>
<rect x="236.98" y="181.83" width="2.22" height="3.83" fill="#f2f4f6"/>
<rect x="239.55" y="181.83" width="2.22" height="3.83" fill="#f2f4f6"/>
<rect x="242.12" y="181.83" width="2.22" height="3.83" fill="#f2f4f6"/>
<rect x="244.68" y="181.83" width="2.22" height="3.83" fill="#f2f4f6"/>
<rect x="247.25" y="181.83" width="2.22" height="3.83" fill="#f2f4f6"/>
<rect x="249.82" y="181.83" width="2.22" height="3.83" fill="#f2f4f6"/>
<rect x="252.38" y="181.83" width="2.22" height="3.83" fill="#f2f4f6"/>
<rect x="254.95" y="181.83" width="2.22" height="3.83" fill="#f2f4f6"/>
<rect x="257.52" y="181.83" width="2.22" height="3.83" fill="#f2f4f6"/>
<rect x="260.09" y="181.83" width="2.22" height="3.83" fill="#f2f4f6"/>
<rect x="262.65" y="181.83" width="2.22" height="3.83" fill="#f2f4f6"/>
<rect x="265.22" y="181.83" width="2.22" height="3.83" fill="#f2f4f6"/>
<rect x="267.79" y="181.83" width="2.22" height="3.83" fill="#f2f4f6"/>
<rect x="270.35" y="181.83" width="2.22" height="3.83" fill="#f2f4f6"/>
<rect x="272.92" y="181.83" width="2.22" height="3.83" fill="#f2f4f6"/>
<rect x="275.49" y="181.83" width="2.22" height="3.83" fill="#f2f4f6"/>
<rect x="278.06" y="181.83" width="2.22" height="3.83" fill="#f2f4f6"/>
<rect x="280.62" y="181.83" width="2.22" height="3.83" fill="#f2f4f6"/>
<rect x="111.20" y="186.16" width="2.22" height="3.83" fill="#f2f4f6"/>
<rect x="113.77" y="186.16" width="2.22" height="3.83" fill="#ffb300"/>
<rect x="116.33" y="186.16" width="2.22" height="3.83" fill="#f2f4f6"/>
<rect x="118.90" y="186.16" width="2.22" height="3.83" fill="#f2f4f6"/>
<rect x="121.47" y="186.16" width="2.22" height="3.83" fill="#f2f4f6"/>
<rect x="124.04" y="186.16" width="2.22" height="3.83" fill="#f2f4f6"/>
<rect x="126.60" y="186.16" width="2.22" height="3.83" fill="#f2f4f6"/>
<rect x="129.17" y="186.16" width="2.22" height="3.83" fill="#f2f4f6"/>
<rect x="131.74" y="186.16" width="2.22" height="3.83" fill="#ffb300"/>
<rect x="134.30" y="186.16" width="2.22" height="3.83" fill="#f2f4f6"/>
<rect x="136.87" y="186.16" width="2.22" height="3.83" fill="#f2f4f6"/>
<rect x="139.44" y="186.16" width="2.22" height="3.83" fill="#f2f4f6"/>
<rect x="142.00" y="186.16" width="2.22" height="3.83" fill="#f2f4f6"/>
<rect x="144.57" y="186.16" width="2.22" height="3.83" fill="#ffb300"/>
<rect x="147.14" y="186.16" width="2.22" height="3.83" fill="#f2f4f6"/>
<rect x="149.70" y="186.16" width="2.22" height="3.83" fill="#f2f4f6"/>
<rect x="152.27" y="186.16" width="2.22" height="3.83" fill="#f2f4f6"/>
<rect x="154.84" y="186.16" width="2.22" height="3.83" fill="#f2f4f6"/>
<rect x="157.41" y="186.16" width="2.22" height="3.83" fill="#f2f4f6"/>
<rect x="159.97" y="186.16" width="2.22" height="3.83" fill="#f2f4f6"/>
<rect x="162.54" y="186.16" width="2.22" height="3.83" fill="#f2f4f6"/>
<rect x="165.11" y="186.16" width="2.22" height="3.83" fill="#f2f4f6"/>
<rect x="167.67" y="186.16" width="2.22" height="3.83" fill="#f2f4f6"/>
<rect x="170.24" y="186.16" width="2.22" height="3.83" fill="#f2f4f6"/>
<rect x="172.81" y="186.16" width="2.22" height="3.83" fill="#f2f4f6"/>
<rect x="175.38" y="186.16" width="2.22" height="3.83" fill="#f2f4f6"/>
<rect x="177.94" y="186.16" width="2.22" height="3.83" fill="#f2f4f6"/>
<rect x="180.51" y="186.16" width="2.22" height="3.83" fill="#f2f4f6"/>
<rect x="183.08" y="186.16" width="2.22" height="3.83" fill="#f2f4f6"/>
<rect x="185.64" y="186.16" width="2.22" height="3.83" fill="#f2f4f6"/>
<rect x="188.21" y="186.16" width="2.22" height="3.83" fill="#ffb300"/>
<rect x="190.78" y="186.16" width="2.22" height="3.83" fill="#f2f4f6"/>
<rect x="193.34" y="186.16" width="2.22" height="3.83" fill="#ffb300"/>
<rect x="195.91" y="186.16" width="2.22" height="3.83" fill="#f2f4f6"/>
<rect x="198.48" y="186.16" width="2.22" height="3.83" fill="#f2f4f6"/>
<rect x="201.04" y="186.16" width="2.22" height="3.83" fill="#f2f4f6"/>
<rect x="203.61" y="186.16" width="2.22" height="3.83" fill="#ffb300"/>
<rect x="206.18" y="186.16" width="2.22" height="3.83" fill="#f2f4f6"/>
<rect x="208.75" y="186.16" width="2.22" height="3.83" fill="#f2f4f6"/>
<rect x="211.31" y="186.16" width="2.22" height="3.83" fill="#f2f4f6"/>
<rect x="213.88" y="186.16" width="2.22" height="3.83" fill="#f2f4f6"/>
<rect x="216.45" y="186.16" width="2.22" height="3.83" fill="#f2f4f6"/>
<rect x="219.01" y="186.16" width="2.22" height="3.83" fill="#f2f4f6"/>
<rect x="221.58" y="186.16" width="2.22" height="3.83" fill="#f2f4f6"/>
<rect x="224.15" y="186.16" width="2.22" height="3.83" fill="#f2f4f6"/>
<rect x="226.72" y="186.16" width="2.22" height="3.83" fill="#f2f4f6"/>
<rect x="229.28" y="186.16" width="2.22" height="3.83" fill="#f2f4f6"/>
<rect x="231.85" y="186.16" width="2.22" height="3.83" fill="#f2f4f6"/>
<rect x="234.42" y="186.16" width="2.22" height="3.83" fill="#f2f4f6"/>
<rect x="236.98" y="186.16" width="2.22" height="3.83" fill="#f2f4f6"/>
<rect x="239.55" y="186.16" width="2.22" height="3.83" fill="#f2f4f6"/>
<rect x="242.12" y="186.16" width="2.22" height="3.83" fill="#f2f4f6"/>
<rect x="244.68" y="186.16" width="2.22" height="3.83" fill="#f2f4f6"/>
<rect x="247.25" y="186.16" width="2.22" height="3.83" fill="#f2f4f6"/>
<rect x="249.82" y="186.16" width="2.22" height="3.83" fill="#f2f4f6"/>
<rect x="252.38" y="186.16" width="2.22" height="3.83" fill="#f2f4f6"/>
<rect x="254.95" y="186.16" width="2.22" height="3.83" fill="#f2f4f6"/>
<rect x="257.52" y="186.16" width="2.22" height="3.83" fill="#f2f4f6"/>
<rect x="260.09" y="186.16" width="2.22" height="3.83" fill="#f2f4f6"/>
<rect x="262.65" y="186.16" width="2.22" height="3.83" fill="#f2f4f6"/>
<rect x="265.22" y="186.16" width="2.22" height="3.83" fill="#f2f4f6"/>
<rect x="267.79" y="186.16" width="2.22" height="3.83" fill="#f2f4f6"/>
<rect x="270.35" y="186.16" width="2.22" height="3.83" fill="#f2f4f6"/>
<rect x="272.92" y="186.16" width="2.22" height="3.83" fill="#f2f4f6"/>
<rect x="275.49" y="186.16" width="2.22" height="3.83" fill="#f2f4f6"/>
<rect x="278.06" y="186.16" width="2.22" height="3.83" fill="#f2f4f6"/>
<rect x="280.62" y="186.16" width="2.22" height="3.83" fill="#f2f4f6"/>
<rect x="111.20" y="190.49" width="2.22" height="3.83" fill="#f2f4f6"/>
<rect x="113.77" y="190.49" width="2.22" height="3.83" fill="#000000"/>
<rect x="116.33" y="190.49" width="2.22" height="3.83" fill="#f2f4f6"/>
<rect x="118.90" y="190.49" width="2.22" height="3.83" fill="#f2f4f6"/>
<rect x="121.47" y="190.49" width="2.22" height="3.83" fill="#f2f4f6"/>
<rect x="124.04" y="190.49" width="2.22" height="3.83" fill="#f2f4f6"/>
<rect x="126.60" y="190.49" width="2.22" height="3.83" fill="#f2f4f6"/>
<rect x="129.17" y="190.49" width="2.22" height="3.83" fill="#f2f4f6"/>
<rect x="131.74" y="190.49" width="2.22" height="3.83" fill="#f2f4f6"/>
<rect x="134.30" y="190.49" width="2.22" height="3.83" fill="#f2f4f6"/>
<rect x="136.87" y="190.49" width="2.22" height="3.83" fill="#f2f4f6"/>
<rect x="139.44" y="190.49" width="2.22" height="3.83" fill="#f2f4f6"/>
<rect x="142.00" y="190.49" width="2.22" height="3.83" fill="#f2f4f6"/>
<rect x="144.57" y="190.49" width="2.22" height="3.83" fill="#f2f4f6"/>
<rect x="147.14" y="190.49" width="2.22" height="3.83" fill="#f2f4f6"/>
<rect x="149.70" y="190.49" width="2.22" height="3.83" fill="#f2f4f6"/>
<rect x="152.27" y="190.49" width="2.22" height="3.83" fill="#f2f4f6"/>
<rect x="154.84" y="190.49" width="2.22" height="3.83" fill="#2a7cf2"/>
<rect x="157.41" y="190.49" width="2.22" height="3.83" fill="#f2f4f6"/>
<rect x="159.97" y="190.49" width="2.22" height="3.83" fill="#f2f4f6"/>
<rect x="162.54" y="190.49" width="2.22" height="3.83" fill="#f2f4f6"/>
<rect x="165.11" y="190.49" width="2.22" height="3.83" fill="#f2f4f6"/>
<rect x="167.67" y="190.49" width="2.22" height="3.83" fill="#f2f4f6"/>
<rect x="170.24" y="190.49" width="2.22" height="3.83" fill="#f2f4f6"/>
<rect x="172.81" y="190.49" width="2.22" height="3.83" fill="#2a7cf2"/>
<rect x="175.38" y="190.49" width="2.22" height="3.83" fill="#f2f4f6"/>
<rect x="177.94" y="190.49" width="2.22" height="3.83" fill="#f2f4f6"/>
<rect x="180.51" y="190.49" width="2.22" height="3.83" fill="#f2f4f6"/>
<rect x="183.08" y="190.49" width="2.22" height="3.83" fill="#f2f4f6"/>
<rect x="185.64" y="190.49" width="2.22" height="3.83" fill="#f2f4f6"/>
<rect x="188.21" y="190.49" width="2.22" height="3.83" fill="#f2f4f6"/>
<rect x="190.78" y="190.49" width="2.22" height="3.83" fill="#f2f4f6"/>
<rect x="193.34" y="190.49" width="2.22" height="3.83" fill="#f2f4f6"/>
<rect x="195.91" y="190.49" width="2.22" height="3.83" fill="#f2f4f6"/>
<rect x="198.48" y="190.49" width="2.22" height="3.83" fill="#f2f4f6"/>
<rect x="201.04" y="190.49" width="2.22" height="3.83" fill="#f2f4f6"/>
<rect x="203.61" y="190.49" width="2.22" height="3.83" fill="#f2f4f6"/>
<rect x="206.18" y="190.49" width="2.22" height="3.83" fill="#f2f4f6"/>
<rect x="208.75" y="190.49" width="2.22" height="3.83" fill="#f2f4f6"/>
<rect x="211.31" y="190.49" width="2.22" height="3.83" fill="#f2f4f6"/>
<rect x="213.88" y="190.49" width="2.22" height="3.83" fill="#f2f4f6"/>
<rect x="216.45" y="190.49" width="2.22" height="3.83" fill="#2a7cf2"/>
<rect x="219.01" y="190.49" width="2.22" height="3.83" fill="#f2f4f6"/>
<rect x="221.58" y="190.49" width="2.22" height="3.83" fill="#f2f4f6"/>
<rect x="224.15" y="190.49" width="2.22" height="3.83" fill="#f2f4f6"/>
<rect x="226.72" y="190.49" width="2.22" height="3.83" fill="#f2f4f6"/>
<rect x="229.28" y="190.49" width="2.22" height="3.83" fill="#f2f4f6"/>
<rect x="231.85" y="190.49" width="2.22" height="3.83" fill="#f2f4f6"/>
<rect x="234.42" y="190.49" width="2.22" height="3.83" fill="#2a7cf2"/>
<rect x="236.98" y="190.49" width="2.22" height="3.83" fill="#f2f4f6"/>
<rect x="239.55" y="190.49" width="2.22" height="3.83" fill="#f2f4f6"/>
<rect x="242.12" y="190.49" width="2.22" height="3.83" fill="#f2f4f6"/>
<rect x="244.68" y="190.49" width="2.22" height="3.83" fill="#f2f4f6"/>
<rect x="247.25" y="190.49" width="2.22" height="3.83" fill="#f2f4f6"/>
<rect x="249.82" y="190.49" width="2.22" height="3.83" fill="#f2f4f6"/>
<rect x="252.38" y="190.49" width="2.22" height="3.83" fill="#f2f4f6"/>
<rect x="254.95" y="190.49" width="2.22" height="3.83" fill="#f2f4f6"/>
<rect x="257.52" y="190.49" width="2.22" height="3.83" fill="#f2f4f6"/>
<rect x="260.09" y="190.49" width="2.22" height="3.83" fill="#f2f4f6"/>
<rect x="262.65" y="190.49" width="2.22" height="3.83" fill="#f2f4f6"/>
<rect x="265.22" y="190.49" width="2.22" height="3.83" fill="#f2f4f6"/>
<rect x="267.79" y="190.49" width="2.22" height="3.83" fill="#f2f4f6"/>
<rect x="270.35" y="190.49" width="2.22" height="3.83" fill="#f2f4f6"/>
<rect x="272.92" y="190.49" width="2.22" height="3.83" fill="#f2f4f6"/>
<rect x="275.49" y="190.49" width="2.22" height="3.83" fill="#f2f4f6"/>
<rect x="278.06" y="190.49" width="2.22" height="3.83" fill="#f2f4f6"/>
<rect x="280.62" y="190.49" width="2.22" height="3.83" fill="#f2f4f6"/>
<rect x="111.20" y="194.82" width="2.22" height="3.83" fill="#f2f4f6"/>
<rect x="113.77" y="194.82" width="2.22" height="3.83" fill="#bf0010"/>
<rect x="116.33" y="194.82" width="2.22" height="3.83" fill="#f2f4f6"/>
<rect x="118.90" y="194.82" width="2.22" height="3.83" fill="#f2f4f6"/>
<rect x="121.47" y="194.82" width="2.22" height="3.83" fill="#f2f4f6"/>
<rect x="124.04" y="194.82" width="2.22" height="3.83" fill="#f2f4f6"/>
<rect x="126.60" y="194.82" width="2.22" height="3.83" fill="#f2f4f6"/>
<rect x="129.17" y="194.82" width="2.22" height="3.83" fill="#f2f4f6"/>
<rect x="131.74" y="194.82" width="2.22" height="3.83" fill="#f2f4f6"/>
<rect x="134.30" y="194.82" width="2.22" height="3.83" fill="#bf0010"/>
<rect x="136.87" y="194.82" width="2.22" height="3.83" fill="#f2f4f6"/>
<rect x="139.44" y="194.82" width="2.22" height="3.83" fill="#f2f4f6"/>
<rect x="142.00" y="194.82" width="2.22" height="3.83" fill="#f2f4f6"/>
<rect x="144.57" y="194.82" width="2.22" height="3.83" fill="#f2f4f6"/>
<rect x="147.14" y="194.82" width="2.22" height="3.83" fill="#f2f4f6"/>
<rect x="149.70" y="194.82" width="2.22" height="3.83" fill="#f2f4f6"/>
<rect x="152.27" y="194.82" width="2.22" height="3.83" fill="#f2f4f6"/>
<rect x="154.84" y="194.82" width="2.22" height="3.83" fill="#f2f4f6"/>
<rect x="157.41" y="194.82" width="2.22" height="3.83" fill="#f2f4f6"/>
<rect x="159.97" y="194.82" width="2.22" height="3.83" fill="#f2f4f6"/>
<rect x="162.54" y="194.82" width="2.22" height="3.83" fill="#f2f4f6"/>
<rect x="165.11" y="194.82" width="2.22" height="3.83" fill="#f2f4f6"/>
<rect x="167.67" y="194.82" width="2.22" height="3.83" fill="#f2f4f6"/>
<rect x="170.24" y="194.82" width="2.22" height="3.83" fill="#f2f4f6"/>
<rect x="172.81" y="194.82" width="2.22" height="3.83" fill="#f2f4f6"/>
<rect x="175.38" y="194.82" width="2.22" height="3.83" fill="#f2f4f6"/>
<rect x="177.94" y="194.82" width="2.22" height="3.83" fill="#f2f4f6"/>
<rect x="180.51" y="194.82" width="2.22" height="3.83" fill="#f2f4f6"/>
<rect x="183.08" y="194.82" width="2.22" height="3.83" fill="#f2f4f6"/>
<rect x="185.64" y="194.82" width="2.22" height="3.83" fill="#f2f4f6"/>
<rect x="188.21" y="194.82" width="2.22" height="3.83" fill="#f2f4f6"/>
<rect x="190.78" y="194.82" width="2.22" height="3.83" fill="#f2f4f6"/>
<rect x="193.34" y="194.82" width="2.22" height="3.83" fill="#f2f4f6"/>
<rect x="195.91" y="194.82" width="2.22" height="3.83" fill="#f2f4f6"/>
<rect x="198.48" y="194.82" width="2.22" height="3.83" fill="#f2f4f6"/>
<rect x="201.04" y="194.82" width="2.22" height="3.83" fill="#2a7cf2"/>
<rect x="203.61" y="194.82" width="2.22" height="3.83" fill="#f2f4f6"/>
<rect x="206.18" y="194.82" width="2.22" height="3.83" fill="#f2f4f6"/>
<rect x="208.75" y="194.82" width="2.22" height="3.83" fill="#f2f4f6"/>
<rect x="211.31" y="194.82" width="2.22" height="3.83" fill="#f2f4f6"/>
<rect x="213.88" y="194.82" width="2.22" height="3.83" fill="#f2f4f6"/>
<rect x="216.45" y="194.82" width="2.22" height="3.83" fill="#f2f4f6"/>
<rect x="219.01" y="194.82" width="2.22" height="3.83" fill="#f2f4f6"/>
<rect x="221.58" y="194.82" width="2.22" height="3.83" fill="#bf0010"/>
<rect x="224.15" y="194.82" width="2.22" height="3.83" fill="#f2f4f6"/>
<rect x="226.72" y="194.82" width="2.22" height="3.83" fill="#f2f4f6"/>
<rect x="229.28" y="194.82" width="2.22" height="3.83" fill="#f2f4f6"/>
<rect x="231.85" y="194.82" width="2.22" height="3.83" fill="#f2f4f6"/>
<rect x="234.42" y="194.82" width="2.22" height="3.83" fill="#f2f4f6"/>
<rect x="236.98" y="194.82" width="2.22" height="3.83" fill="#f2f4f6"/>
<rect x="239.55" y="194.82" width="2.22" height="3.83" fill="#f2f4f6"/>
<rect x="242.12" y="194.82" width="2.22" height="3.83" fill="#f2f4f6"/>
<rect x="244.68" y="194.82" width="2.22" height="3.83" fill="#f2f4f6"/>
<rect x="247.25" y="194.82" width="2.22" height="3.83" fill="#2a7cf2"/>
<rect x="249.82" y="194.82" width="2.22" height="3.83" fill="#f2f4f6"/>
<rect x="252.38" y="194.82" width="2.22" height="3.83" fill="#f2f4f6"/>
<rect x="254.95" y="194.82" width="2.22" height="3.83" fill="#f2f4f6"/>
<rect x="257.52" y="194.82" width="2.22" height="3.83" fill="#f2f4f6"/>
<rect x="260.09" y="194.82" width="2.22" height="3.83" fill="#f2f4f6"/>
<rect x="262.65" y="194.82" width="2.22" height="3.83" fill="#f2f4f6"/>
<rect x="265.22" y="194.82" width="2.22" height="3.83" fill="#f2f4f6"/>
<rect x="267.79" y="194.82" width="2.22" height="3.83" fill="#f2f4f6"/>
<rect x="270.35" y="194.82" width="2.22" height="3.83" fill="#f2f4f6"/>
<rect x="272.92" y="194.82" width="2.22" height="3.83" fill="#f2f4f6"/>
<rect x="275.49" y="194.82" width="2.22" height="3.83" fill="#f2f4f6"/>
<rect x="278.06" y="194.82" width="2.22" height="3.83" fill="#f2f4f6"/>
<rect x="280.62" y="194.82" width="2.22" height="3.83" fill="#f2f4f6"/>
<rect x="111.20" y="199.15" width="2.22" height="3.83" fill="#bf0010"/>
<rect x="113.77" y="199.15" width="2.22" height="3.83" fill="#bf0010"/>
<rect x="116.33" y="199.15" width="2.22" height="3.83" fill="#f2f4f6"/>
<rect x="118.90" y="199.15" width="2.22" height="3.83" fill="#f2f4f6"/>
<rect x="121.47" y="199.15" width="2.22" height="3.83" fill="#bf0010"/>
<rect x="124.04" y="199.15" width="2.22" height="3.83" fill="#f2f4f6"/>
<rect x="126.60" y="199.15" width="2.22" height="3.83" fill="#f2f4f6"/>
<rect x="129.17" y="199.15" width="2.22" height="3.83" fill="#f2f4f6"/>
<rect x="131.74" y="199.15" width="2.22" height="3.83" fill="#f2f4f6"/>
<rect x="134.30" y="199.15" width="2.22" height="3.83" fill="#f2f4f6"/>
<rect x="136.87" y="199.15" width="2.22" height="3.83" fill="#f2f4f6"/>
<rect x="139.44" y="199.15" width="2.22" height="3.83" fill="#f2f4f6"/>
<rect x="142.00" y="199.15" width="2.22" height="3.83" fill="#f2f4f6"/>
<rect x="144.57" y="199.15" width="2.22" height="3.83" fill="#f2f4f6"/>
<rect x="147.14" y="199.15" width="2.22" height="3.83" fill="#f2f4f6"/>
<rect x="149.70" y="199.15" width="2.22" height="3.83" fill="#f2f4f6"/>
<rect x="152.27" y="199.15" width="2.22" height="3.83" fill="#f2f4f6"/>
<rect x="154.84" y="199.15" width="2.22" height="3.83" fill="#f2f4f6"/>
<rect x="157.41" y="199.15" width="2.22" height="3.83" fill="#f2f4f6"/>
<rect x="159.97" y="199.15" width="2.22" height="3.83" fill="#f2f4f6"/>
<rect x="162.54" y="199.15" width="2.22" height="3.83" fill="#f2f4f6"/>
<rect x="165.11" y="199.15" width="2.22" height="3.83" fill="#f2f4f6"/>
<rect x="167.67" y="199.15" width="2.22" height="3.83" fill="#f2f4f6"/>
<rect x="170.24" y="199.15" width="2.22" height="3.83" fill="#f2f4f6"/>
<rect x="172.81" y="199.15" width="2.22" height="3.83" fill="#f2f4f6"/>
<rect x="175.38" y="199.15" width="2.22" height="3.83" fill="#f2f4f6"/>
<rect x="177.94" y="199.15" width="2.22" height="3.83" fill="#f2f4f6"/>
<rect x="180.51" y="199.15" width="2.22" height="3.83" fill="#f2f4f6"/>
<rect x="183.08" y="199.15" width="2.22" height="3.83" fill="#f2f4f6"/>
<rect x="185.64" y="199.15" width="2.22" height="3.83" fill="#f2f4f6"/>
<rect x="188.21" y="199.15" width="2.22" height="3.83" fill="#bf0010"/>
<rect x="190.78" y="199.15" width="2.22" height="3.83" fill="#f2f4f6"/>
<rect x="193.34" y="199.15" width="2.22" height="3.83" fill="#f2f4f6"/>
<rect x="195.91" y="199.15" width="2.22" height="3.83" fill="#f2f4f6"/>
<rect x="198.48" y="199.15" width="2.22" height="3.83" fill="#f2f4f6"/>
<rect x="201.04" y="199.15" width="2.22" height="3.83" fill="#bf0010"/>
<rect x="203.61" y="199.15" width="2.22" height="3.83" fill="#f2f4f6"/>
<rect x="206.18" y="199.15" width="2.22" height="3.83" fill="#f2f4f6"/>
<rect x="208.75" y="199.15" width="2.22" height="3.83" fill="#f2f4f6"/>
<rect x="211.31" y="199.15" width="2.22" height="3.83" fill="#f2f4f6"/>
<rect x="213.88" y="199.15" width="2.22" height="3.83" fill="#f2f4f6"/>
<rect x="216.45" y="199.15" width="2.22" height="3.83" fill="#f2f4f6"/>
<rect x="219.01" y="199.15" width="2.22" height="3.83" fill="#f2f4f6"/>
<rect x="221.58" y="199.15" width="2.22" height="3.83" fill="#f2f4f6"/>
<rect x="224.15" y="199.15" width="2.22" height="3.83" fill="#f2f4f6"/>
<rect x="226.72" y="199.15" width="2.22" height="3.83" fill="#f2f4f6"/>
<rect x="229.28" y="199.15" width="2.22" height="3.83" fill="#f2f4f6"/>
<rect x="231.85" y="199.15" width="2.22" height="3.83" fill="#f2f4f6"/>
<rect x="234.42" y="199.15" width="2.22" height="3.83" fill="#f2f4f6"/>
<rect x="236.98" y="199.15" width="2.22" height="3.83" fill="#f2f4f6"/>
<rect x="239.55" y="199.15" width="2.22" height="3.83" fill="#f2f4f6"/>
<rect x="242.12" y="199.15" width="2.22" height="3.83" fill="#f2f4f6"/>
<rect x="244.68" y="199.15" width="2.22" height="3.83" fill="#f2f4f6"/>
<rect x="247.25" y="199.15" width="2.22" height="3.83" fill="#f2f4f6"/>
<rect x="249.82" y="199.15" width="2.22" height="3.83" fill="#f2f4f6"/>
<rect x="252.38" y="199.15" width="2.22" height="3.83" fill="#f2f4f6"/>
<rect x="254.95" y="199.15" width="2.22" height="3.83" fill="#f2f4f6"/>
<rect x="257.52" y="199.15" width="2.22" height="3.83" fill="#f2f4f6"/>
<rect x="260.09" y="199.15" width="2.22" height="3.83" fill="#f2f4f6"/>
<rect x="262.65" y="199.15" width="2.22" height="3.83" fill="#f2f4f6"/>
<rect x="265.22" y="199.15" width="2.22" height="3.83" fill="#f2f4f6"/>
<rect x="267.79" y="199.15" width="2.22" height="3.83" fill="#f2f4f6"/>
<rect x="270.35" y="199.15" width="2.22" height="3.83" fill="#f2f4f6"/>
<rect x="272.92" y="199.15" width="2.22" height="3.83" fill="#f2f4f6"/>
<rect x="275.49" y="199.15" width="2.22" height="3.83" fill="#f2f4f6"/>
<rect x="278.06" y="199.15" width="2.22" height="3.83" fill="#f2f4f6"/>
<rect x="280.62" y="199.15" width="2.22" height="3.83" fill="#f2f4f6"/>
<rect x="111.20" y="203.48" width="2.22" height="3.83" fill="#f2f4f6"/>
<rect x="113.77" y="203.48" width="2.22" height="3.83" fill="#bf0010"/>
<rect x="116.33" y="203.48" width="2.22" height="3.83" fill="#f2f4f6"/>
<rect x="118.90" y="203.48" width="2.22" height="3.83" fill="#f2f4f6"/>
<rect x="121.47" y="203.48" width="2.22" height="3.83" fill="#f2f4f6"/>
<rect x="124.04" y="203.48" width="2.22" height="3.83" fill="#f2f4f6"/>
<rect x="126.60" y="203.48" width="2.22" height="3.83" fill="#f2f4f6"/>
<rect x="129.17" y="203.48" width="2.22" height="3.83" fill="#9ff07a"/>
<rect x="131.74" y="203.48" width="2.22" height="3.83" fill="#f2f4f6"/>
<rect x="134.30" y="203.48" width="2.22" height="3.83" fill="#f2f4f6"/>
<rect x="136.87" y="203.48" width="2.22" height="3.83" fill="#f2f4f6"/>
<rect x="139.44" y="203.48" width="2.22" height="3.83" fill="#f2f4f6"/>
<rect x="142.00" y="203.48" width="2.22" height="3.83" fill="#f2f4f6"/>
<rect x="144.57" y="203.48" width="2.22" height="3.83" fill="#f2f4f6"/>
<rect x="147.14" y="203.48" width="2.22" height="3.83" fill="#ffb300"/>
<rect x="149.70" y="203.48" width="2.22" height="3.83" fill="#f2f4f6"/>
<rect x="152.27" y="203.48" width="2.22" height="3.83" fill="#f2f4f6"/>
<rect x="154.84" y="203.48" width="2.22" height="3.83" fill="#f2f4f6"/>
<rect x="157.41" y="203.48" width="2.22" height="3.83" fill="#f2f4f6"/>
<rect x="159.97" y="203.48" width="2.22" height="3.83" fill="#f2f4f6"/>
<rect x="162.54" y="203.48" width="2.22" height="3.83" fill="#f2f4f6"/>
<rect x="165.11" y="203.48" width="2.22" height="3.83" fill="#f2f4f6"/>
<rect x="167.67" y="203.48" width="2.22" height="3.83" fill="#f2f4f6"/>
<rect x="170.24" y="203.48" width="2.22" height="3.83" fill="#f2f4f6"/>
<rect x="172.81" y="203.48" width="2.22" height="3.83" fill="#f2f4f6"/>
<rect x="175.38" y="203.48" width="2.22" height="3.83" fill="#f2f4f6"/>
<rect x="177.94" y="203.48" width="2.22" height="3.83" fill="#f2f4f6"/>
<rect x="180.51" y="203.48" width="2.22" height="3.83" fill="#f2f4f6"/>
<rect x="183.08" y="203.48" width="2.22" height="3.83" fill="#f2f4f6"/>
<rect x="185.64" y="203.48" width="2.22" height="3.83" fill="#f2f4f6"/>
<rect x="188.21" y="203.48" width="2.22" height="3.83" fill="#f2f4f6"/>
<rect x="190.78" y="203.48" width="2.22" height="3.83" fill="#f2f4f6"/>
<rect x="193.34" y="203.48" width="2.22" height="3.83" fill="#9ff07a"/>
<rect x="195.91" y="203.48" width="2.22" height="3.83" fill="#f2f4f6"/>
<rect x="198.48" y="203.48" width="2.22" height="3.83" fill="#f2f4f6"/>
<rect x="201.04" y="203.48" width="2.22" height="3.83" fill="#000000"/>
<rect x="203.61" y="203.48" width="2.22" height="3.83" fill="#f2f4f6"/>
<rect x="206.18" y="203.48" width="2.22" height="3.83" fill="#f2f4f6"/>
<rect x="208.75" y="203.48" width="2.22" height="3.83" fill="#f2f4f6"/>
<rect x="211.31" y="203.48" width="2.22" height="3.83" fill="#f2f4f6"/>
<rect x="213.88" y="203.48" width="2.22" height="3.83" fill="#f2f4f6"/>
<rect x="216.45" y="203.48" width="2.22" height="3.83" fill="#f2f4f6"/>
<rect x="219.01" y="203.48" width="2.22" height="3.83" fill="#f2f4f6"/>
<rect x="221.58" y="203.48" width="2.22" height="3.83" fill="#f2f4f6"/>
<rect x="224.15" y="203.48" width="2.22" height="3.83" fill="#f2f4f6"/>
<rect x="226.72" y="203.48" width="2.22" height="3.83" fill="#f2f4f6"/>
<rect x="229.28" y="203.48" width="2.22" height="3.83" fill="#f2f4f6"/>
<rect x="231.85" y="203.48" width="2.22" height="3.83" fill="#f2f4f6"/>
<rect x="234.42" y="203.48" width="2.22" height="3.83" fill="#f2f4f6"/>
<rect x="236.98" y="203.48" width="2.22" height="3.83" fill="#f2f4f6"/>
<rect x="239.55" y="203.48" width="2.22" height="3.83" fill="#f2f4f6"/>
<rect x="242.12" y="203.48" width="2.22" height="3.83" fill="#f2f4f6"/>
<rect x="244.68" y="203.48" width="2.22" height="3.83" fill="#f2f4f6"/>
<rect x="247.25" y="203.48" width="2.22" height="3.83" fill="#f2f4f6"/>
<rect x="249.82" y="203.48" width="2.22" height="3.83" fill="#f2f4f6"/>
<rect x="252.38" y="203.48" width="2.22" height="3.83" fill="#f2f4f6"/>
<rect x="254.95" y="203.48" width="2.22" height="3.83" fill="#f2f4f6"/>
<rect x="257.52" y="203.48" width="2.22" height="3.83" fill="#f2f4f6"/>
<rect x="260.09" y="203.48" width="2.22" height="3.83" fill="#f2f4f6"/>
<rect x="262.65" y="203.48" width="2.22" height="3.83" fill="#f2f4f6"/>
<rect x="265.22" y="203.48" width="2.22" height="3.83" fill="#f2f4f6"/>
<rect x="267.79" y="203.48" width="2.22" height="3.83" fill="#f2f4f6"/>
<rect x="270.35" y="203.48" width="2.22" height="3.83" fill="#f2f4f6"/>
<rect x="272.92" y="203.48" width="2.22" height="3.83" fill="#f2f4f6"/>
<rect x="275.49" y="203.48" width="2.22" height="3.83" fill="#f2f4f6"/>
<rect x="278.06" y="203.48" width="2.22" height="3.83" fill="#f2f4f6"/>
<rect x="280.62" y="203.48" width="2.22" height="3.83" fill="#f2f4f6"/>
<rect x="111.20" y="207.81" width="2.22" height="3.83" fill="#f2f4f6"/>
<rect x="113.77" y="207.81" width="2.22" height="3.83" fill="#000000"/>
<rect x="116.33" y="207.81" width="2.22" height="3.83" fill="#f2f4f6"/>
<rect x="118.90" y="207.81" width="2.22" height="3.83" fill="#f2f4f6"/>
<rect x="121.47" y="207.81" width="2.22" height="3.83" fill="#f2f4f6"/>
<rect x="124.04" y="207.81" width="2.22" height="3.83" fill="#2a7cf2"/>
<rect x="126.60" y="207.81" width="2.22" height="3.83" fill="#f2f4f6"/>
<rect x="129.17" y="207.81" width="2.22" height="3.83" fill="#f2f4f6"/>
<rect x="131.74" y="207.81" width="2.22" height="3.83" fill="#f2f4f6"/>
<rect x="134.30" y="207.81" width="2.22" height="3.83" fill="#000000"/>
<rect x="136.87" y="207.81" width="2.22" height="3.83" fill="#f2f4f6"/>
<rect x="139.44" y="207.81" width="2.22" height="3.83" fill="#f2f4f6"/>
<rect x="142.00" y="207.81" width="2.22" height="3.83" fill="#f2f4f6"/>
<rect x="144.57" y="207.81" width="2.22" height="3.83" fill="#f2f4f6"/>
<rect x="147.14" y="207.81" width="2.22" height="3.83" fill="#f2f4f6"/>
<rect x="149.70" y="207.81" width="2.22" height="3.83" fill="#f2f4f6"/>
<rect x="152.27" y="207.81" width="2.22" height="3.83" fill="#f2f4f6"/>
<rect x="154.84" y="207.81" width="2.22" height="3.83" fill="#f2f4f6"/>
<rect x="157.41" y="207.81" width="2.22" height="3.83" fill="#f2f4f6"/>
<rect x="159.97" y="207.81" width="2.22" height="3.83" fill="#f2f4f6"/>
<rect x="162.54" y="207.81" width="2.22" height="3.83" fill="#bf0010"/>
<rect x="165.11" y="207.81" width="2.22" height="3.83" fill="#f2f4f6"/>
<rect x="167.67" y="207.81" width="2.22" height="3.83" fill="#f2f4f6"/>
<rect x="170.24" y="207.81" width="2.22" height="3.83" fill="#f2f4f6"/>
<rect x="172.81" y="207.81" width="2.22" height="3.83" fill="#f2f4f6"/>
<rect x="175.38" y="207.81" width="2.22" height="3.83" fill="#f2f4f6"/>
<rect x="177.94" y="207.81" width="2.22" height="3.83" fill="#f2f4f6"/>
<rect x="180.51" y="207.81" width="2.22" height="3.83" fill="#f2f4f6"/>
<rect x="183.08" y="207.81" width="2.22" height="3.83" fill="#f2f4f6"/>
<rect x="185.64" y="207.81" width="2.22" height="3.83" fill="#f2f4f6"/>
<rect x="188.21" y="207.81" width="2.22" height="3.83" fill="#f2f4f6"/>
<rect x="190.78" y="207.81" width="2.22" height="3.83" fill="#f2f4f6"/>
<rect x="193.34" y="207.81" width="2.22" height="3.83" fill="#f2f4f6"/>
<rect x="195.91" y="207.81" width="2.22" height="3.83" fill="#f2f4f6"/>
<rect x="198.48" y="207.81" width="2.22" height="3.83" fill="#f2f4f6"/>
<rect x="201.04" y="207.81" width="2.22" height="3.83" fill="#f2f4f6"/>
<rect x="203.61" y="207.81" width="2.22" height="3.83" fill="#f2f4f6"/>
<rect x="206.18" y="207.81" width="2.22" height="3.83" fill="#f2f4f6"/>
<rect x="208.75" y="207.81" width="2.22" height="3.83" fill="#f2f4f6"/>
<rect x="211.31" y="207.81" width="2.22" height="3.83" fill="#f2f4f6"/>
<rect x="213.88" y="207.81" width="2.22" height="3.83" fill="#f2f4f6"/>
<rect x="216.45" y="207.81" width="2.22" height="3.83" fill="#f2f4f6"/>
<rect x="219.01" y="207.81" width="2.22" height="3.83" fill="#f2f4f6"/>
<rect x="221.58" y="207.81" width="2.22" height="3.83" fill="#f2f4f6"/>
<rect x="224.15" y="207.81" width="2.22" height="3.83" fill="#f2f4f6"/>
<rect x="226.72" y="207.81" width="2.22" height="3.83" fill="#f2f4f6"/>
<rect x="229.28" y="207.81" width="2.22" height="3.83" fill="#f2f4f6"/>
<rect x="231.85" y="207.81" width="2.22" height="3.83" fill="#f2f4f6"/>
<rect x="234.42" y="207.81" width="2.22" height="3.83" fill="#f2f4f6"/>
<rect x="236.98" y="207.81" width="2.22" height="3.83" fill="#f2f4f6"/>
<rect x="239.55" y="207.81" width="2.22" height="3.83" fill="#f2f4f6"/>
<rect x="242.12" y="207.81" width="2.22" height="3.83" fill="#f2f4f6"/>
<rect x="244.68" y="207.81" width="2.22" height="3.83" fill="#f2f4f6"/>
<rect x="247.25" y="207.81" width="2.22" height="3.83" fill="#f2f4f6"/>
<rect x="249.82" y="207.81" width="2.22" height="3.83" fill="#f2f4f6"/>
<rect x="252.38" y="207.81" width="2.22" height="3.83" fill="#f2f4f6"/>
<rect x="254.95" y="207.81" width="2.22" height="3.83" fill="#f2f4f6"/>
<rect x="257.52" y="207.81" width="2.22" height="3.83" fill="#f2f4f6"/>
<rect x="260.09" y="207.81" width="2.22" height="3.83" fill="#f2f4f6"/>
<rect x="262.65" y="207.81" width="2.22" height="3.83" fill="#f2f4f6"/>
<rect x="265.22" y="207.81" width="2.22" height="3.83" fill="#f2f4f6"/>
<rect x="267.79" y="207.81" width="2.22" height="3.83" fill="#f2f4f6"/>
<rect x="270.35" y="207.81" width="2.22" height="3.83" fill="#f2f4f6"/>
<rect x="272.92" y="207.81" width="2.22" height="3.83" fill="#f2f4f6"/>
<rect x="275.49" y="207.81" width="2.22" height="3.83" fill="#f2f4f6"/>
<rect x="278.06" y="207.81" width="2.22" height="3.83" fill="#f2f4f6"/>
<rect x="280.62" y="207.81" width="2.22" height="3.83" fill="#f2f4f6"/>
<rect x="111.20" y="212.14" width="2.22" height="3.83" fill="#f2f4f6"/>
<rect x="113.77" y="212.14" width="2.22" height="3.83" fill="#f2f4f6"/>
<rect x="116.33" y="212.14" width="2.22" height="3.83" fill="#f2f4f6"/>
<rect x="118.90" y="212.14" width="2.22" height="3.83" fill="#bf0010"/>
<rect x="121.47" y="212.14" width="2.22" height="3.83" fill="#f2f4f6"/>
<rect x="124.04" y="212.14" width="2.22" height="3.83" fill="#f2f4f6"/>
<rect x="126.60" y="212.14" width="2.22" height="3.83" fill="#f2f4f6"/>
<rect x="129.17" y="212.14" width="2.22" height="3.83" fill="#f2f4f6"/>
<rect x="131.74" y="212.14" width="2.22" height="3.83" fill="#f2f4f6"/>
<rect x="134.30" y="212.14" width="2.22" height="3.83" fill="#f2f4f6"/>
<rect x="136.87" y="212.14" width="2.22" height="3.83" fill="#f2f4f6"/>
<rect x="139.44" y="212.14" width="2.22" height="3.83" fill="#bf0010"/>
<rect x="142.00" y="212.14" width="2.22" height="3.83" fill="#f2f4f6"/>
<rect x="144.57" y="212.14" width="2.22" height="3.83" fill="#f2f4f6"/>
<rect x="147.14" y="212.14" width="2.22" height="3.83" fill="#f2f4f6"/>
<rect x="149.70" y="212.14" width="2.22" height="3.83" fill="#f2f4f6"/>
<rect x="152.27" y="212.14" width="2.22" height="3.83" fill="#f2f4f6"/>
<rect x="154.84" y="212.14" width="2.22" height="3.83" fill="#f2f4f6"/>
<rect x="157.41" y="212.14" width="2.22" height="3.83" fill="#f2f4f6"/>
<rect x="159.97" y="212.14" width="2.22" height="3.83" fill="#000000"/>
<rect x="162.54" y="212.14" width="2.22" height="3.83" fill="#f2f4f6"/>
<rect x="165.11" y="212.14" width="2.22" height="3.83" fill="#f2f4f6"/>
<rect x="167.67" y="212.14" width="2.22" height="3.83" fill="#f2f4f6"/>
<rect x="170.24" y="212.14" width="2.22" height="3.83" fill="#f2f4f6"/>
<rect x="172.81" y="212.14" width="2.22" height="3.83" fill="#f2f4f6"/>
<rect x="175.38" y="212.14" width="2.22" height="3.83" fill="#f2f4f6"/>
<rect x="177.94" y="212.14" width="2.22" height="3.83" fill="#f2f4f6"/>
<rect x="180.51" y="212.14" width="2.22" height="3.83" fill="#f2f4f6"/>
<rect x="183.08" y="212.14" width="2.22" height="3.83" fill="#f2f4f6"/>
<rect x="185.64" y="212.14" width="2.22" height="3.83" fill="#f2f4f6"/>
<rect x="188.21" y="212.14" width="2.22" height="3.83" fill="#f2f4f6"/>
<rect x="190.78" y="212.14" width="2.22" height="3.83" fill="#f2f4f6"/>
<rect x="193.34" y="212.14" width="2.22" height="3.83" fill="#f2f4f6"/>
<rect x="195.91" y="212.14" width="2.22" height="3.83" fill="#f2f4f6"/>
<rect x="198.48" y="212.14" width="2.22" height="3.83" fill="#f2f4f6"/>
<rect x="201.04" y="212.14" width="2.22" height="3.83" fill="#000000"/>
<rect x="203.61" y="212.14" width="2.22" height="3.83" fill="#f2f4f6"/>
<rect x="206.18" y="212.14" width="2.22" height="3.83" fill="#f2f4f6"/>
<rect x="208.75" y="212.14" width="2.22" height="3.83" fill="#f2f4f6"/>
<rect x="211.31" y="212.14" width="2.22" height="3.83" fill="#f2f4f6"/>
<rect x="213.88" y="212.14" width="2.22" height="3.83" fill="#f2f4f6"/>
<rect x="216.45" y="212.14" width="2.22" height="3.83" fill="#f2f4f6"/>
<rect x="219.01" y="212.14" width="2.22" height="3.83" fill="#f2f4f6"/>
<rect x="221.58" y="212.14" width="2.22" height="3.83" fill="#f2f4f6"/>
<rect x="224.15" y="212.14" width="2.22" height="3.83" fill="#f2f4f6"/>
<rect x="226.72" y="212.14" width="2.22" height="3.83" fill="#f2f4f6"/>
<rect x="229.28" y="212.14" width="2.22" height="3.83" fill="#f2f4f6"/>
<rect x="231.85" y="212.14" width="2.22" height="3.83" fill="#f2f4f6"/>
<rect x="234.42" y="212.14" width="2.22" height="3.83" fill="#f2f4f6"/>
<rect x="236.98" y="212.14" width="2.22" height="3.83" fill="#f2f4f6"/>
<rect x="239.55" y="212.14" width="2.22" height="3.83" fill="#f2f4f6"/>
<rect x="242.12" y="212.14" width="2.22" height="3.83" fill="#f2f4f6"/>
<rect x="244.68" y="212.14" width="2.22" height="3.83" fill="#f2f4f6"/>
<rect x="247.25" y="212.14" width="2.22" height="3.83" fill="#f2f4f6"/>
<rect x="249.82" y="212.14" width="2.22" height="3.83" fill="#f2f4f6"/>
<rect x="252.38" y="212.14" width="2.22" height="3.83" fill="#f2f4f6"/>
<rect x="254.95" y="212.14" width="2.22" height="3.83" fill="#f2f4f6"/>
<rect x="257.52" y="212.14" width="2.22" height="3.83" fill="#f2f4f6"/>
<rect x="260.09" y="212.14" width="2.22" height="3.83" fill="#f2f4f6"/>
<rect x="262.65" y="212.14" width="2.22" height="3.83" fill="#f2f4f6"/>
<rect x="265.22" y="212.14" width="2.22" height="3.83" fill="#f2f4f6"/>
<rect x="267.79" y="212.14" width="2.22" height="3.83" fill="#f2f4f6"/>
<rect x="270.35" y="212.14" width="2.22" height="3.83" fill="#f2f4f6"/>
<rect x="272.92" y="212.14" width="2.22" height="3.83" fill="#f2f4f6"/>
<rect x="275.49" y="212.14" width="2.22" height="3.83" fill="#f2f4f6"/>
<rect x="278.06" y="212.14" width="2.22" height="3.83" fill="#f2f4f6"/>
<rect x="280.62" y="212.14" width="2.22" height="3.83" fill="#f2f4f6"/>
<rect x="111.20" y="216.47" width="2.22" height="3.83" fill="#f2f4f6"/>
<rect x="113.77" y="216.47" width="2.22" height="3.83" fill="#f2f4f6"/>
<rect x="116.33" y="216.47" width="2.22" height="3.83" fill="#f2f4f6"/>
<rect x="118.90" y="216.47" width="2.22" height="3.83" fill="#f2f4f6"/>
<rect x="121.47" y="216.47" width="2.22" height="3.83" fill="#f2f4f6"/>
<rect x="124.04" y="216.47" width="2.22" height="3.83" fill="#f2f4f6"/>
<rect x="126.60" y="216.47" width="2.22" height="3.83" fill="#f2f4f6"/>
<rect x="129.17" y="216.47" width="2.22" height="3.83" fill="#f2f4f6"/>
<rect x="131.74" y="216.47" width="2.22" height="3.83" fill="#f2f4f6"/>
<rect x="134.30" y="216.47" width="2.22" height="3.83" fill="#f2f4f6"/>
<rect x="136.87" y="216.47" width="2.22" height="3.83" fill="#f2f4f6"/>
<rect x="139.44" y="216.47" width="2.22" height="3.83" fill="#f2f4f6"/>
<rect x="142.00" y="216.47" width="2.22" height="3.83" fill="#f2f4f6"/>
<rect x="144.57" y="216.47" width="2.22" height="3.83" fill="#f2f4f6"/>
<rect x="147.14" y="216.47" width="2.22" height="3.83" fill="#f2f4f6"/>
<rect x="149.70" y="216.47" width="2.22" height="3.83" fill="#f2f4f6"/>
<rect x="152.27" y="216.47" width="2.22" height="3.83" fill="#000000"/>
<rect x="154.84" y="216.47" width="2.22" height="3.83" fill="#f2f4f6"/>
<rect x="157.41" y="216.47" width="2.22" height="3.83" fill="#f2f4f6"/>
<rect x="159.97" y="216.47" width="2.22" height="3.83" fill="#f2f4f6"/>
<rect x="162.54" y="216.47" width="2.22" height="3.83" fill="#f2f4f6"/>
<rect x="165.11" y="216.47" width="2.22" height="3.83" fill="#f2f4f6"/>
<rect x="167.67" y="216.47" width="2.22" height="3.83" fill="#bf0010"/>
<rect x="170.24" y="216.47" width="2.22" height="3.83" fill="#f2f4f6"/>
<rect x="172.81" y="216.47" width="2.22" height="3.83" fill="#f2f4f6"/>
<rect x="175.38" y="216.47" width="2.22" height="3.83" fill="#f2f4f6"/>
<rect x="177.94" y="216.47" width="2.22" height="3.83" fill="#f2f4f6"/>
<rect x="180.51" y="216.47" width="2.22" height="3.83" fill="#f2f4f6"/>
<rect x="183.08" y="216.47" width="2.22" height="3.83" fill="#f2f4f6"/>
<rect x="185.64" y="216.47" width="2.22" height="3.83" fill="#f2f4f6"/>
<rect x="188.21" y="216.47" width="2.22" height="3.83" fill="#f2f4f6"/>
<rect x="190.78" y="216.47" width="2.22" height="3.83" fill="#f2f4f6"/>
<rect x="193.34" y="216.47" width="2.22" height="3.83" fill="#f2f4f6"/>
<rect x="195.91" y="216.47" width="2.22" height="3.83" fill="#f2f4f6"/>
<rect x="198.48" y="216.47" width="2.22" height="3.83" fill="#f2f4f6"/>
<rect x="201.04" y="216.47" width="2.22" height="3.83" fill="#f2f4f6"/>
<rect x="203.61" y="216.47" width="2.22" height="3.83" fill="#bf0010"/>
<rect x="206.18" y="216.47" width="2.22" height="3.83" fill="#f2f4f6"/>
<rect x="208.75" y="216.47" width="2.22" height="3.83" fill="#f2f4f6"/>
<rect x="211.31" y="216.47" width="2.22" height="3.83" fill="#f2f4f6"/>
<rect x="213.88" y="216.47" width="2.22" height="3.83" fill="#f2f4f6"/>
<rect x="216.45" y="216.47" width="2.22" height="3.83" fill="#f2f4f6"/>
<rect x="219.01" y="216.47" width="2.22" height="3.83" fill="#bf0010"/>
<rect x="221.58" y="216.47" width="2.22" height="3.83" fill="#f2f4f6"/>
<rect x="224.15" y="216.47" width="2.22" height="3.83" fill="#f2f4f6"/>
<rect x="226.72" y="216.47" width="2.22" height="3.83" fill="#f2f4f6"/>
<rect x="229.28" y="216.47" width="2.22" height="3.83" fill="#f2f4f6"/>
<rect x="231.85" y="216.47" width="2.22" height="3.83" fill="#f2f4f6"/>
<rect x="234.42" y="216.47" width="2.22" height="3.83" fill="#f2f4f6"/>
<rect x="236.98" y="216.47" width="2.22" height="3.83" fill="#f2f4f6"/>
<rect x="239.55" y="216.47" width="2.22" height="3.83" fill="#f2f4f6"/>
<rect x="242.12" y="216.47" width="2.22" height="3.83" fill="#f2f4f6"/>
<rect x="244.68" y="216.47" width="2.22" height="3.83" fill="#f2f4f6"/>
<rect x="247.25" y="216.47" width="2.22" height="3.83" fill="#f2f4f6"/>
<rect x="249.82" y="216.47" width="2.22" height="3.83" fill="#f2f4f6"/>
<rect x="252.38" y="216.47" width="2.22" height="3.83" fill="#f2f4f6"/>
<rect x="254.95" y="216.47" width="2.22" height="3.83" fill="#f2f4f6"/>
<rect x="257.52" y="216.47" width="2.22" height="3.83" fill="#f2f4f6"/>
<rect x="260.09" y="216.47" width="2.22" height="3.83" fill="#f2f4f6"/>
<rect x="262.65" y="216.47" width="2.22" height="3.83" fill="#f2f4f6"/>
<rect x="265.22" y="216.47" width="2.22" height="3.83" fill="#f2f4f6"/>
<rect x="267.79" y="216.47" width="2.22" height="3.83" fill="#f2f4f6"/>
<rect x="270.35" y="216.47" width="2.22" height="3.83" fill="#f2f4f6"/>
<rect x="272.92" y="216.47" width="2.22" height="3.83" fill="#f2f4f6"/>
<rect x="275.49" y="216.47" width="2.22" height="3.83" fill="#f2f4f6"/>
<rect x="278.06" y="216.47" width="2.22" height="3.83" fill="#f2f4f6"/>
<rect x="280.62" y="216.47" width="2.22" height="3.83" fill="#f2f4f6"/>
<rect x="111.20" y="220.80" width="2.22" height="3.83" fill="#f2f4f6"/>
<rect x="113.77" y="220.80" width="2.22" height="3.83" fill="#2a7cf2"/>
<rect x="116.33" y="220.80" width="2.22" height="3.83" fill="#f2f4f6"/>
<rect x="118.90" y="220.80" width="2.22" height="3.83" fill="#f2f4f6"/>
<rect x="121.47" y="220.80" width="2.22" height="3.83" fill="#f2f4f6"/>
<rect x="124.04" y="220.80" width="2.22" height="3.83" fill="#f2f4f6"/>
<rect x="126.60" y="220.80" width="2.22" height="3.83" fill="#f2f4f6"/>
<rect x="129.17" y="220.80" width="2.22" height="3.83" fill="#f2f4f6"/>
<rect x="131.74" y="220.80" width="2.22" height="3.83" fill="#f2f4f6"/>
<rect x="134.30" y="220.80" width="2.22" height="3.83" fill="#f2f4f6"/>
<rect x="136.87" y="220.80" width="2.22" height="3.83" fill="#f2f4f6"/>
<rect x="139.44" y="220.80" width="2.22" height="3.83" fill="#f2f4f6"/>
<rect x="142.00" y="220.80" width="2.22" height="3.83" fill="#f2f4f6"/>
<rect x="144.57" y="220.80" width="2.22" height="3.83" fill="#f2f4f6"/>
<rect x="147.14" y="220.80" width="2.22" height="3.83" fill="#2a7cf2"/>
<rect x="149.70" y="220.80" width="2.22" height="3.83" fill="#f2f4f6"/>
<rect x="152.27" y="220.80" width="2.22" height="3.83" fill="#f2f4f6"/>
<rect x="154.84" y="220.80" width="2.22" height="3.83" fill="#f2f4f6"/>
<rect x="157.41" y="220.80" width="2.22" height="3.83" fill="#f2f4f6"/>
<rect x="159.97" y="220.80" width="2.22" height="3.83" fill="#f2f4f6"/>
<rect x="162.54" y="220.80" width="2.22" height="3.83" fill="#f2f4f6"/>
<rect x="165.11" y="220.80" width="2.22" height="3.83" fill="#f2f4f6"/>
<rect x="167.67" y="220.80" width="2.22" height="3.83" fill="#f2f4f6"/>
<rect x="170.24" y="220.80" width="2.22" height="3.83" fill="#f2f4f6"/>
<rect x="172.81" y="220.80" width="2.22" height="3.83" fill="#f2f4f6"/>
<rect x="175.38" y="220.80" width="2.22" height="3.83" fill="#f2f4f6"/>
<rect x="177.94" y="220.80" width="2.22" height="3.83" fill="#f2f4f6"/>
<rect x="180.51" y="220.80" width="2.22" height="3.83" fill="#f2f4f6"/>
<rect x="183.08" y="220.80" width="2.22" height="3.83" fill="#f2f4f6"/>
<rect x="185.64" y="220.80" width="2.22" height="3.83" fill="#f2f4f6"/>
<rect x="188.21" y="220.80" width="2.22" height="3.83" fill="#f2f4f6"/>
<rect x="190.78" y="220.80" width="2.22" height="3.83" fill="#f2f4f6"/>
<rect x="193.34" y="220.80" width="2.22" height="3.83" fill="#bf0010"/>
<rect x="195.91" y="220.80" width="2.22" height="3.83" fill="#f2f4f6"/>
<rect x="198.48" y="220.80" width="2.22" height="3.83" fill="#f2f4f6"/>
<rect x="201.04" y="220.80" width="2.22" height="3.83" fill="#bf0010"/>
<rect x="203.61" y="220.80" width="2.22" height="3.83" fill="#f2f4f6"/>
<rect x="206.18" y="220.80" width="2.22" height="3.83" fill="#f2f4f6"/>
<rect x="208.75" y="220.80" width="2.22" height="3.83" fill="#f2f4f6"/>
<rect x="211.31" y="220.80" width="2.22" height="3.83" fill="#f2f4f6"/>
<rect x="213.88" y="220.80" width="2.22" height="3.83" fill="#f2f4f6"/>
<rect x="216.45" y="220.80" width="2.22" height="3.83" fill="#f2f4f6"/>
<rect x="219.01" y="220.80" width="2.22" height="3.83" fill="#f2f4f6"/>
<rect x="221.58" y="220.80" width="2.22" height="3.83" fill="#f2f4f6"/>
<rect x="224.15" y="220.80" width="2.22" height="3.83" fill="#f2f4f6"/>
<rect x="226.72" y="220.80" width="2.22" height="3.83" fill="#f2f4f6"/>
<rect x="229.28" y="220.80" width="2.22" height="3.83" fill="#f2f4f6"/>
<rect x="231.85" y="220.80" width="2.22" height="3.83" fill="#f2f4f6"/>
<rect x="234.42" y="220.80" width="2.22" height="3.83" fill="#f2f4f6"/>
<rect x="236.98" y="220.80" width="2.22" height="3.83" fill="#f2f4f6"/>
<rect x="239.55" y="220.80" width="2.22" height="3.83" fill="#f2f4f6"/>
<rect x="242.12" y="220.80" width="2.22" height="3.83" fill="#f2f4f6"/>
<rect x="244.68" y="220.80" width="2.22" height="3.83" fill="#f2f4f6"/>
<rect x="247.25" y="220.80" width="2.22" height="3.83" fill="#f2f4f6"/>
<rect x="249.82" y="220.80" width="2.22" height="3.83" fill="#f2f4f6"/>
<rect x="252.38" y="220.80" width="2.22" height="3.83" fill="#f2f4f6"/>
<rect x="254.95" y="220.80" width="2.22" height="3.83" fill="#f2f4f6"/>
<rect x="257.52" y="220.80" width="2.22" height="3.83" fill="#f2f4f6"/>
<rect x="260.09" y="220.80" width="2.22" height="3.83" fill="#f2f4f6"/>
<rect x="262.65" y="220.80" width="2.22" height="3.83" fill="#f2f4f6"/>
<rect x="265.22" y="220.80" width="2.22" height="3.83" fill="#f2f4f6"/>
<rect x="267.79" y="220.80" width="2.22" height="3.83" fill="#f2f4f6"/>
<rect x="270.35" y="220.80" width="2.22" height="3.83" fill="#f2f4f6"/>
<rect x="272.92" y="220.80" width="2.22" height="3.83" fill="#f2f4f6"/>
<rect x="275.49" y="220.80" width="2.22" height="3.83" fill="#f2f4f6"/>
<rect x="278.06" y="220.80" width="2.22" height="3.83" fill="#f2f4f6"/>
<rect x="280.62" y="220.80" width="2.22" height="3.83" fill="#f2f4f6"/>
<rect x="111.20" y="225.13" width="2.22" height="3.83" fill="#f2f4f6"/>
<rect x="113.77" y="225.13" width="2.22" height="3.83" fill="#f2f4f6"/>
<rect x="116.33" y="225.13" width="2.22" height="3.83" fill="#f2f4f6"/>
<rect x="118.90" y="225.13" width="2.22" height="3.83" fill="#f2f4f6"/>
<rect x="121.47" y="225.13" width="2.22" height="3.83" fill="#f2f4f6"/>
<rect x="124.04" y="225.13" width="2.22" height="3.83" fill="#f2f4f6"/>
<rect x="126.60" y="225.13" width="2.22" height="3.83" fill="#f2f4f6"/>
<rect x="129.17" y="225.13" width="2.22" height="3.83" fill="#bf0010"/>
<rect x="131.74" y="225.13" width="2.22" height="3.83" fill="#2a7cf2"/>
<rect x="134.30" y="225.13" width="2.22" height="3.83" fill="#f2f4f6"/>
<rect x="136.87" y="225.13" width="2.22" height="3.83" fill="#f2f4f6"/>
<rect x="139.44" y="225.13" width="2.22" height="3.83" fill="#f2f4f6"/>
<rect x="142.00" y="225.13" width="2.22" height="3.83" fill="#f2f4f6"/>
<rect x="144.57" y="225.13" width="2.22" height="3.83" fill="#f2f4f6"/>
<rect x="147.14" y="225.13" width="2.22" height="3.83" fill="#f2f4f6"/>
<rect x="149.70" y="225.13" width="2.22" height="3.83" fill="#f2f4f6"/>
<rect x="152.27" y="225.13" width="2.22" height="3.83" fill="#f2f4f6"/>
<rect x="154.84" y="225.13" width="2.22" height="3.83" fill="#f2f4f6"/>
<rect x="157.41" y="225.13" width="2.22" height="3.83" fill="#2a7cf2"/>
<rect x="159.97" y="225.13" width="2.22" height="3.83" fill="#f2f4f6"/>
<rect x="162.54" y="225.13" width="2.22" height="3.83" fill="#f2f4f6"/>
<rect x="165.11" y="225.13" width="2.22" height="3.83" fill="#f2f4f6"/>
<rect x="167.67" y="225.13" width="2.22" height="3.83" fill="#f2f4f6"/>
<rect x="170.24" y="225.13" width="2.22" height="3.83" fill="#f2f4f6"/>
<rect x="172.81" y="225.13" width="2.22" height="3.83" fill="#f2f4f6"/>
<rect x="175.38" y="225.13" width="2.22" height="3.83" fill="#f2f4f6"/>
<rect x="177.94" y="225.13" width="2.22" height="3.83" fill="#f2f4f6"/>
<rect x="180.51" y="225.13" width="2.22" height="3.83" fill="#f2f4f6"/>
<rect x="183.08" y="225.13" width="2.22" height="3.83" fill="#f2f4f6"/>
<rect x="185.64" y="225.13" width="2.22" height="3.83" fill="#f2f4f6"/>
<rect x="188.21" y="225.13" width="2.22" height="3.83" fill="#f2f4f6"/>
<rect x="190.78" y="225.13" width="2.22" height="3.83" fill="#f2f4f6"/>
<rect x="193.34" y="225.13" width="2.22" height="3.83" fill="#f2f4f6"/>
<rect x="195.91" y="225.13" width="2.22" height="3.83" fill="#f2f4f6"/>
<rect x="198.48" y="225.13" width="2.22" height="3.83" fill="#f2f4f6"/>
<rect x="201.04" y="225.13" width="2.22" height="3.83" fill="#f2f4f6"/>
<rect x="203.61" y="225.13" width="2.22" height="3.83" fill="#f2f4f6"/>
<rect x="206.18" y="225.13" width="2.22" height="3.83" fill="#f2f4f6"/>
<rect x="208.75" y="225.13" width="2.22" height="3.83" fill="#f2f4f6"/>
<rect x="211.31" y="225.13" width="2.22" height="3.83" fill="#f2f4f6"/>
<rect x="213.88" y="225.13" width="2.22" height="3.83" fill="#f2f4f6"/>
<rect x="216.45" y="225.13" width="2.22" height="3.83" fill="#f2f4f6"/>
<rect x="219.01" y="225.13" width="2.22" height="3.83" fill="#f2f4f6"/>
<rect x="221.58" y="225.13" width="2.22" height="3.83" fill="#f2f4f6"/>
<rect x="224.15" y="225.13" width="2.22" height="3.83" fill="#f2f4f6"/>
<rect x="226.72" y="225.13" width="2.22" height="3.83" fill="#bf0010"/>
<rect x="229.28" y="225.13" width="2.22" height="3.83" fill="#f2f4f6"/>
<rect x="231.85" y="225.13" width="2.22" height="3.83" fill="#f2f4f6"/>
<rect x="234.42" y="225.13" width="2.22" height="3.83" fill="#f2f4f6"/>
<rect x="236.98" y="225.13" width="2.22" height="3.83" fill="#f2f4f6"/>
<rect x="239.55" y="225.13" width="2.22" height="3.83" fill="#f2f4f6"/>
<rect x="242.12" y="225.13" width="2.22" height="3.83" fill="#f2f4f6"/>
<rect x="244.68" y="225.13" width="2.22" height="3.83" fill="#f2f4f6"/>
<rect x="247.25" y="225.13" width="2.22" height="3.83" fill="#f2f4f6"/>
<rect x="249.82" y="225.13" width="2.22" height="3.83" fill="#f2f4f6"/>
<rect x="252.38" y="225.13" width="2.22" height="3.83" fill="#f2f4f6"/>
<rect x="254.95" y="225.13" width="2.22" height="3.83" fill="#f2f4f6"/>
<rect x="257.52" y="225.13" width="2.22" height="3.83" fill="#f2f4f6"/>
<rect x="260.09" y="225.13" width="2.22" height="3.83" fill="#f2f4f6"/>
<rect x="262.65" y="225.13" width="2.22" height="3.83" fill="#f2f4f6"/>
<rect x="265.22" y="225.13" width="2.22" height="3.83" fill="#f2f4f6"/>
<rect x="267.79" y="225.13" width="2.22" height="3.83" fill="#f2f4f6"/>
<rect x="270.35" y="225.13" width="2.22" height="3.83" fill="#f2f4f6"/>
<rect x="272.92" y="225.13" width="2.22" height="3.83" fill="#f2f4f6"/>
<rect x="275.49" y="225.13" width="2.22" height="3.83" fill="#f2f4f6"/>
<rect x="278.06" y="225.13" width="2.22" height="3.83" fill="#f2f4f6"/>
<rect x="280.62" y="225.13" width="2.22" height="3.83" fill="#f2f4f6"/>
<rect x="111.20" y="229.46" width="2.22" height="3.83" fill="#bf0010"/>
<rect x="113.77" y="229.46" width="2.22" height="3.83" fill="#f2f4f6"/>
<rect x="116.33" y="229.46" width="2.22" height="3.83" fill="#f2f4f6"/>
<rect x="118.90" y="229.46" width="2.22" height="3.83" fill="#f2f4f6"/>
<rect x="121.47" y="229.46" width="2.22" height="3.83" fill="#f2f4f6"/>
<rect x="124.04" y="229.46" width="2.22" height="3.83" fill="#f2f4f6"/>
<rect x="126.60" y="229.46" width="2.22" height="3.83" fill="#f2f4f6"/>
<rect x="129.17" y="229.46" width="2.22" height="3.83" fill="#f2f4f6"/>
<rect x="131.74" y="229.46" width="2.22" height="3.83" fill="#f2f4f6"/>
<rect x="134.30" y="229.46" width="2.22" height="3.83" fill="#f2f4f6"/>
<rect x="136.87" y="229.46" width="2.22" height="3.83" fill="#f2f4f6"/>
<rect x="139.44" y="229.46" width="2.22" height="3.83" fill="#f2f4f6"/>
<rect x="142.00" y="229.46" width="2.22" height="3.83" fill="#f2f4f6"/>
<rect x="144.57" y="229.46" width="2.22" height="3.83" fill="#f2f4f6"/>
<rect x="147.14" y="229.46" width="2.22" height="3.83" fill="#f2f4f6"/>
<rect x="149.70" y="229.46" width="2.22" height="3.83" fill="#f2f4f6"/>
<rect x="152.27" y="229.46" width="2.22" height="3.83" fill="#f2f4f6"/>
<rect x="154.84" y="229.46" width="2.22" height="3.83" fill="#f2f4f6"/>
<rect x="157.41" y="229.46" width="2.22" height="3.83" fill="#f2f4f6"/>
<rect x="159.97" y="229.46" width="2.22" height="3.83" fill="#f2f4f6"/>
<rect x="162.54" y="229.46" width="2.22" height="3.83" fill="#f2f4f6"/>
<rect x="165.11" y="229.46" width="2.22" height="3.83" fill="#f2f4f6"/>
<rect x="167.67" y="229.46" width="2.22" height="3.83" fill="#f2f4f6"/>
<rect x="170.24" y="229.46" width="2.22" height="3.83" fill="#f2f4f6"/>
<rect x="172.81" y="229.46" width="2.22" height="3.83" fill="#f2f4f6"/>
<rect x="175.38" y="229.46" width="2.22" height="3.83" fill="#f2f4f6"/>
<rect x="177.94" y="229.46" width="2.22" height="3.83" fill="#f2f4f6"/>
<rect x="180.51" y="229.46" width="2.22" height="3.83" fill="#f2f4f6"/>
<rect x="183.08" y="229.46" width="2.22" height="3.83" fill="#f2f4f6"/>
<rect x="185.64" y="229.46" width="2.22" height="3.83" fill="#f2f4f6"/>
<rect x="188.21" y="229.46" width="2.22" height="3.83" fill="#f2f4f6"/>
<rect x="190.78" y="229.46" width="2.22" height="3.83" fill="#f2f4f6"/>
<rect x="193.34" y="229.46" width="2.22" height="3.83" fill="#bf0010"/>
<rect x="195.91" y="229.46" width="2.22" height="3.83" fill="#f2f4f6"/>
<rect x="198.48" y="229.46" width="2.22" height="3.83" fill="#f2f4f6"/>
<rect x="201.04" y="229.46" width="2.22" height="3.83" fill="#f2f4f6"/>
<rect x="203.61" y="229.46" width="2.22" height="3.83" fill="#f2f4f6"/>
<rect x="206.18" y="229.46" width="2.22" height="3.83" fill="#f2f4f6"/>
<rect x="208.75" y="229.46" width="2.22" height="3.83" fill="#f2f4f6"/>
<rect x="211.31" y="229.46" width="2.22" height="3.83" fill="#f2f4f6"/>
<rect x="213.88" y="229.46" width="2.22" height="3.83" fill="#f2f4f6"/>
<rect x="216.45" y="229.46" width="2.22" height="3.83" fill="#bf0010"/>
<rect x="219.01" y="229.46" width="2.22" height="3.83" fill="#f2f4f6"/>
<rect x="221.58" y="229.46" width="2.22" height="3.83" fill="#f2f4f6"/>
<rect x="224.15" y="229.46" width="2.22" height="3.83" fill="#f2f4f6"/>
<rect x="226.72" y="229.46" width="2.22" height="3.83" fill="#f2f4f6"/>
<rect x="229.28" y="229.46" width="2.22" height="3.83" fill="#2a7cf2"/>
<rect x="231.85" y="229.46" width="2.22" height="3.83" fill="#f2f4f6"/>
<rect x="234.42" y="229.46" width="2.22" height="3.83" fill="#f2f4f6"/>
<rect x="236.98" y="229.46" width="2.22" height="3.83" fill="#f2f4f6"/>
<rect x="239.55" y="229.46" width="2.22" height="3.83" fill="#f2f4f6"/>
<rect x="242.12" y="229.46" width="2.22" height="3.83" fill="#f2f4f6"/>
<rect x="244.68" y="229.46" width="2.22" height="3.83" fill="#f2f4f6"/>
<rect x="247.25" y="229.46" width="2.22" height="3.83" fill="#f2f4f6"/>
<rect x="249.82" y="229.46" width="2.22" height="3.83" fill="#f2f4f6"/>
<rect x="252.38" y="229.46" width="2.22" height="3.83" fill="#f2f4f6"/>
<rect x="254.95" y="229.46" width="2.22" height="3.83" fill="#f2f4f6"/>
<rect x="257.52" y="229.46" width="2.22" height="3.83" fill="#f2f4f6"/>
<rect x="260.09" y="229.46" width="2.22" height="3.83" fill="#f2f4f6"/>
<rect x="262.65" y="229.46" width="2.22" height="3.83" fill="#f2f4f6"/>
<rect x="265.22" y="229.46" width="2.22" height="3.83" fill="#f2f4f6"/>
<rect x="267.79" y="229.46" width="2.22" height="3.83" fill="#f2f4f6"/>
<rect x="270.35" y="229.46" width="2.22" height="3.83" fill="#f2f4f6"/>
<rect x="272.92" y="229.46" width="2.22" height="3.83" fill="#f2f4f6"/>
<rect x="275.49" y="229.46" width="2.22" height="3.83" fill="#f2f4f6"/>
<rect x="278.06" y="229.46" width="2.22" height="3.83" fill="#f2f4f6"/>
<rect x="280.62" y="229.46" width="2.22" height="3.83" fill="#f2f4f6"/>
<rect x="111.20" y="233.79" width="2.22" height="3.83" fill="#f2f4f6"/>
<rect x="113.77" y="233.79" width="2.22" height="3.83" fill="#f2f4f6"/>
<rect x="116.33" y="233.79" width="2.22" height="3.83" fill="#f2f4f6"/>
<rect x="118.90" y="233.79" width="2.22" height="3.83" fill="#f2f4f6"/>
<rect x="121.47" y="233.79" width="2.22" height="3.83" fill="#bf0010"/>
<rect x="124.04" y="233.79" width="2.22" height="3.83" fill="#f2f4f6"/>
<rect x="126.60" y="233.79" width="2.22" height="3.83" fill="#f2f4f6"/>
<rect x="129.17" y="233.79" width="2.22" height="3.83" fill="#f2f4f6"/>
<rect x="131.74" y="233.79" width="2.22" height="3.83" fill="#f2f4f6"/>
<rect x="134.30" y="233.79" width="2.22" height="3.83" fill="#f2f4f6"/>
<rect x="136.87" y="233.79" width="2.22" height="3.83" fill="#f2f4f6"/>
<rect x="139.44" y="233.79" width="2.22" height="3.83" fill="#f2f4f6"/>
<rect x="142.00" y="233.79" width="2.22" height="3.83" fill="#f2f4f6"/>
<rect x="144.57" y="233.79" width="2.22" height="3.83" fill="#f2f4f6"/>
<rect x="147.14" y="233.79" width="2.22" height="3.83" fill="#f2f4f6"/>
<rect x="149.70" y="233.79" width="2.22" height="3.83" fill="#bf0010"/>
<rect x="152.27" y="233.79" width="2.22" height="3.83" fill="#f2f4f6"/>
<rect x="154.84" y="233.79" width="2.22" height="3.83" fill="#f2f4f6"/>
<rect x="157.41" y="233.79" width="2.22" height="3.83" fill="#f2f4f6"/>
<rect x="159.97" y="233.79" width="2.22" height="3.83" fill="#f2f4f6"/>
<rect x="162.54" y="233.79" width="2.22" height="3.83" fill="#f2f4f6"/>
<rect x="165.11" y="233.79" width="2.22" height="3.83" fill="#f2f4f6"/>
<rect x="167.67" y="233.79" width="2.22" height="3.83" fill="#f2f4f6"/>
<rect x="170.24" y="233.79" width="2.22" height="3.83" fill="#f2f4f6"/>
<rect x="172.81" y="233.79" width="2.22" height="3.83" fill="#f2f4f6"/>
<rect x="175.38" y="233.79" width="2.22" height="3.83" fill="#f2f4f6"/>
<rect x="177.94" y="233.79" width="2.22" height="3.83" fill="#f2f4f6"/>
<rect x="180.51" y="233.79" width="2.22" height="3.83" fill="#f2f4f6"/>
<rect x="183.08" y="233.79" width="2.22" height="3.83" fill="#f2f4f6"/>
<rect x="185.64" y="233.79" width="2.22" height="3.83" fill="#f2f4f6"/>
<rect x="188.21" y="233.79" width="2.22" height="3.83" fill="#f2f4f6"/>
<rect x="190.78" y="233.79" width="2.22" height="3.83" fill="#f2f4f6"/>
<rect x="193.34" y="233.79" width="2.22" height="3.83" fill="#f2f4f6"/>
<rect x="195.91" y="233.79" width="2.22" height="3.83" fill="#f2f4f6"/>
<rect x="198.48" y="233.79" width="2.22" height="3.83" fill="#f2f4f6"/>
<rect x="201.04" y="233.79" width="2.22" height="3.83" fill="#f2f4f6"/>
<rect x="203.61" y="233.79" width="2.22" height="3.83" fill="#f2f4f6"/>
<rect x="206.18" y="233.79" width="2.22" height="3.83" fill="#f2f4f6"/>
<rect x="208.75" y="233.79" width="2.22" height="3.83" fill="#bf0010"/>
<rect x="211.31" y="233.79" width="2.22" height="3.83" fill="#f2f4f6"/>
<rect x="213.88" y="233.79" width="2.22" height="3.83" fill="#f2f4f6"/>
<rect x="216.45" y="233.79" width="2.22" height="3.83" fill="#f2f4f6"/>
<rect x="219.01" y="233.79" width="2.22" height="3.83" fill="#f2f4f6"/>
<rect x="221.58" y="233.79" width="2.22" height="3.83" fill="#f2f4f6"/>
<rect x="224.15" y="233.79" width="2.22" height="3.83" fill="#f2f4f6"/>
<rect x="226.72" y="233.79" width="2.22" height="3.83" fill="#2a7cf2"/>
<rect x="229.28" y="233.79" width="2.22" height="3.83" fill="#f2f4f6"/>
<rect x="231.85" y="233.79" width="2.22" height="3.83" fill="#f2f4f6"/>
<rect x="234.42" y="233.79" width="2.22" height="3.83" fill="#f2f4f6"/>
<rect x="236.98" y="233.79" width="2.22" height="3.83" fill="#f2f4f6"/>
<rect x="239.55" y="233.79" width="2.22" height="3.83" fill="#f2f4f6"/>
<rect x="242.12" y="233.79" width="2.22" height="3.83" fill="#f2f4f6"/>
<rect x="244.68" y="233.79" width="2.22" height="3.83" fill="#f2f4f6"/>
<rect x="247.25" y="233.79" width="2.22" height="3.83" fill="#f2f4f6"/>
<rect x="249.82" y="233.79" width="2.22" height="3.83" fill="#f2f4f6"/>
<rect x="252.38" y="233.79" width="2.22" height="3.83" fill="#f2f4f6"/>
<rect x="254.95" y="233.79" width="2.22" height="3.83" fill="#f2f4f6"/>
<rect x="257.52" y="233.79" width="2.22" height="3.83" fill="#f2f4f6"/>
<rect x="260.09" y="233.79" width="2.22" height="3.83" fill="#f2f4f6"/>
<rect x="262.65" y="233.79" width="2.22" height="3.83" fill="#f2f4f6"/>
<rect x="265.22" y="233.79" width="2.22" height="3.83" fill="#f2f4f6"/>
<rect x="267.79" y="233.79" width="2.22" height="3.83" fill="#f2f4f6"/>
<rect x="270.35" y="233.79" width="2.22" height="3.83" fill="#f2f4f6"/>
<rect x="272.92" y="233.79" width="2.22" height="3.83" fill="#f2f4f6"/>
<rect x="275.49" y="233.79" width="2.22" height="3.83" fill="#f2f4f6"/>
<rect x="278.06" y="233.79" width="2.22" height="3.83" fill="#f2f4f6"/>
<rect x="280.62" y="233.79" width="2.22" height="3.83" fill="#f2f4f6"/>
<rect x="111.20" y="238.12" width="2.22" height="3.83" fill="#f2f4f6"/>
<rect x="113.77" y="238.12" width="2.22" height="3.83" fill="#f2f4f6"/>
<rect x="116.33" y="238.12" width="2.22" height="3.83" fill="#f2f4f6"/>
<rect x="118.90" y="238.12" width="2.22" height="3.83" fill="#f2f4f6"/>
<rect x="121.47" y="238.12" width="2.22" height="3.83" fill="#f2f4f6"/>
<rect x="124.04" y="238.12" width="2.22" height="3.83" fill="#f2f4f6"/>
<rect x="126.60" y="238.12" width="2.22" height="3.83" fill="#f2f4f6"/>
<rect x="129.17" y="238.12" width="2.22" height="3.83" fill="#f2f4f6"/>
<rect x="131.74" y="238.12" width="2.22" height="3.83" fill="#f2f4f6"/>
<rect x="134.30" y="238.12" width="2.22" height="3.83" fill="#f2f4f6"/>
<rect x="136.87" y="238.12" width="2.22" height="3.83" fill="#f2f4f6"/>
<rect x="139.44" y="238.12" width="2.22" height="3.83" fill="#f2f4f6"/>
<rect x="142.00" y="238.12" width="2.22" height="3.83" fill="#f2f4f6"/>
<rect x="144.57" y="238.12" width="2.22" height="3.83" fill="#f2f4f6"/>
<rect x="147.14" y="238.12" width="2.22" height="3.83" fill="#f2f4f6"/>
<rect x="149.70" y="238.12" width="2.22" height="3.83" fill="#f2f4f6"/>
<rect x="152.27" y="238.12" width="2.22" height="3.83" fill="#f2f4f6"/>
<rect x="154.84" y="238.12" width="2.22" height="3.83" fill="#f2f4f6"/>
<rect x="157.41" y="238.12" width="2.22" height="3.83" fill="#f2f4f6"/>
<rect x="159.97" y="238.12" width="2.22" height="3.83" fill="#bf0010"/>
<rect x="162.54" y="238.12" width="2.22" height="3.83" fill="#f2f4f6"/>
<rect x="165.11" y="238.12" width="2.22" height="3.83" fill="#f2f4f6"/>
<rect x="167.67" y="238.12" width="2.22" height="3.83" fill="#f2f4f6"/>
<rect x="170.24" y="238.12" width="2.22" height="3.83" fill="#9ff07a"/>
<rect x="172.81" y="238.12" width="2.22" height="3.83" fill="#f2f4f6"/>
<rect x="175.38" y="238.12" width="2.22" height="3.83" fill="#f2f4f6"/>
<rect x="177.94" y="238.12" width="2.22" height="3.83" fill="#f2f4f6"/>
<rect x="180.51" y="238.12" width="2.22" height="3.83" fill="#f2f4f6"/>
<rect x="183.08" y="238.12" width="2.22" height="3.83" fill="#f2f4f6"/>
<rect x="185.64" y="238.12" width="2.22" height="3.83" fill="#f2f4f6"/>
<rect x="188.21" y="238.12" width="2.22" height="3.83" fill="#f2f4f6"/>
<rect x="190.78" y="238.12" width="2.22" height="3.83" fill="#f2f4f6"/>
<rect x="193.34" y="238.12" width="2.22" height="3.83" fill="#f2f4f6"/>
<rect x="195.91" y="238.12" width="2.22" height="3.83" fill="#f2f4f6"/>
<rect x="198.48" y="238.12" width="2.22" height="3.83" fill="#f2f4f6"/>
<rect x="201.04" y="238.12" width="2.22" height="3.83" fill="#f2f4f6"/>
<rect x="203.61" y="238.12" width="2.22" height="3.83" fill="#f2f4f6"/>
<rect x="206.18" y="238.12" width="2.22" height="3.83" fill="#2a7cf2"/>
<rect x="208.75" y="238.12" width="2.22" height="3.83" fill="#f2f4f6"/>
<rect x="211.31" y="238.12" width="2.22" height="3.83" fill="#f2f4f6"/>
<rect x="213.88" y="238.12" width="2.22" height="3.83" fill="#f2f4f6"/>
<rect x="216.45" y="238.12" width="2.22" height="3.83" fill="#f2f4f6"/>
<rect x="219.01" y="238.12" width="2.22" height="3.83" fill="#f2f4f6"/>
<rect x="221.58" y="238.12" width="2.22" height="3.83" fill="#f2f4f6"/>
<rect x="224.15" y="238.12" width="2.22" height="3.83" fill="#f2f4f6"/>
<rect x="226.72" y="238.12" width="2.22" height="3.83" fill="#f2f4f6"/>
<rect x="229.28" y="238.12" width="2.22" height="3.83" fill="#bf0010"/>
<rect x="231.85" y="238.12" width="2.22" height="3.83" fill="#f2f4f6"/>
<rect x="234.42" y="238.12" width="2.22" height="3.83" fill="#f2f4f6"/>
<rect x="236.98" y="238.12" width="2.22" height="3.83" fill="#f2f4f6"/>
<rect x="239.55" y="238.12" width="2.22" height="3.83" fill="#f2f4f6"/>
<rect x="242.12" y="238.12" width="2.22" height="3.83" fill="#f2f4f6"/>
<rect x="244.68" y="238.12" width="2.22" height="3.83" fill="#f2f4f6"/>
<rect x="247.25" y="238.12" width="2.22" height="3.83" fill="#f2f4f6"/>
<rect x="249.82" y="238.12" width="2.22" height="3.83" fill="#f2f4f6"/>
<rect x="252.38" y="238.12" width="2.22" height="3.83" fill="#f2f4f6"/>
<rect x="254.95" y="238.12" width="2.22" height="3.83" fill="#f2f4f6"/>
<rect x="257.52" y="238.12" width="2.22" height="3.83" fill="#f2f4f6"/>
<rect x="260.09" y="238.12" width="2.22" height="3.83" fill="#f2f4f6"/>
<rect x="262.65" y="238.12" width="2.22" height="3.83" fill="#f2f4f6"/>
<rect x="265.22" y="238.12" width="2.22" height="3.83" fill="#f2f4f6"/>
<rect x="267.79" y="238.12" width="2.22" height="3.83" fill="#f2f4f6"/>
<rect x="270.35" y="238.12" width="2.22" height="3.83" fill="#f2f4f6"/>
<rect x="272.92" y="238.12" width="2.22" height="3.83" fill="#f2f4f6"/>
<rect x="275.49" y="238.12" width="2.22" height="3.83" fill="#f2f4f6"/>
<rect x="278.06" y="238.12" width="2.22" height="3.83" fill="#f2f4f6"/>
<rect x="280.62" y="238.12" width="2.22" height="3.83" fill="#f2f4f6"/>
<rect x="111.20" y="242.45" width="2.22" height="3.83" fill="#f2f4f6"/>
<rect x="113.77" y="242.45" width="2.22" height="3.83" fill="#f2f4f6"/>
<rect x="116.33" y="242.45" width="2.22" height="3.83" fill="#f2f4f6"/>
<rect x="118.90" y="242.45" width="2.22" height="3.83" fill="#f2f4f6"/>
<rect x="121.47" y="242.45" width="2.22" height="3.83" fill="#f2f4f6"/>
<rect x="124.04" y="242.45" width="2.22" height="3.83" fill="#bf0010"/>
<rect x="126.60" y="242.45" width="2.22" height="3.83" fill="#f2f4f6"/>
<rect x="129.17" y="242.45" width="2.22" height="3.83" fill="#f2f4f6"/>
<rect x="131.74" y="242.45" width="2.22" height="3.83" fill="#f2f4f6"/>
<rect x="134.30" y="242.45" width="2.22" height="3.83" fill="#f2f4f6"/>
<rect x="136.87" y="242.45" width="2.22" height="3.83" fill="#f2f4f6"/>
<rect x="139.44" y="242.45" width="2.22" height="3.83" fill="#f2f4f6"/>
<rect x="142.00" y="242.45" width="2.22" height="3.83" fill="#f2f4f6"/>
<rect x="144.57" y="242.45" width="2.22" height="3.83" fill="#f2f4f6"/>
<rect x="147.14" y="242.45" width="2.22" height="3.83" fill="#f2f4f6"/>
<rect x="149.70" y="242.45" width="2.22" height="3.83" fill="#f2f4f6"/>
<rect x="152.27" y="242.45" width="2.22" height="3.83" fill="#f2f4f6"/>
<rect x="154.84" y="242.45" width="2.22" height="3.83" fill="#f2f4f6"/>
<rect x="157.41" y="242.45" width="2.22" height="3.83" fill="#f2f4f6"/>
<rect x="159.97" y="242.45" width="2.22" height="3.83" fill="#9ff07a"/>
<rect x="162.54" y="242.45" width="2.22" height="3.83" fill="#f2f4f6"/>
<rect x="165.11" y="242.45" width="2.22" height="3.83" fill="#f2f4f6"/>
<rect x="167.67" y="242.45" width="2.22" height="3.83" fill="#f2f4f6"/>
<rect x="170.24" y="242.45" width="2.22" height="3.83" fill="#f2f4f6"/>
<rect x="172.81" y="242.45" width="2.22" height="3.83" fill="#f2f4f6"/>
<rect x="175.38" y="242.45" width="2.22" height="3.83" fill="#f2f4f6"/>
<rect x="177.94" y="242.45" width="2.22" height="3.83" fill="#f2f4f6"/>
<rect x="180.51" y="242.45" width="2.22" height="3.83" fill="#f2f4f6"/>
<rect x="183.08" y="242.45" width="2.22" height="3.83" fill="#f2f4f6"/>
<rect x="185.64" y="242.45" width="2.22" height="3.83" fill="#f2f4f6"/>
<rect x="188.21" y="242.45" width="2.22" height="3.83" fill="#f2f4f6"/>
<rect x="190.78" y="242.45" width="2.22" height="3.83" fill="#f2f4f6"/>
<rect x="193.34" y="242.45" width="2.22" height="3.83" fill="#bf0010"/>
<rect x="195.91" y="242.45" width="2.22" height="3.83" fill="#f2f4f6"/>
<rect x="198.48" y="242.45" width="2.22" height="3.83" fill="#f2f4f6"/>
<rect x="201.04" y="242.45" width="2.22" height="3.83" fill="#bf0010"/>
<rect x="203.61" y="242.45" width="2.22" height="3.83" fill="#f2f4f6"/>
<rect x="206.18" y="242.45" width="2.22" height="3.83" fill="#f2f4f6"/>
<rect x="208.75" y="242.45" width="2.22" height="3.83" fill="#f2f4f6"/>
<rect x="211.31" y="242.45" width="2.22" height="3.83" fill="#f2f4f6"/>
<rect x="213.88" y="242.45" width="2.22" height="3.83" fill="#f2f4f6"/>
<rect x="216.45" y="242.45" width="2.22" height="3.83" fill="#f2f4f6"/>
<rect x="219.01" y="242.45" width="2.22" height="3.83" fill="#f2f4f6"/>
<rect x="221.58" y="242.45" width="2.22" height="3.83" fill="#f2f4f6"/>
<rect x="224.15" y="242.45" width="2.22" height="3.83" fill="#f2f4f6"/>
<rect x="226.72" y="242.45" width="2.22" height="3.83" fill="#f2f4f6"/>
<rect x="229.28" y="242.45" width="2.22" height="3.83" fill="#f2f4f6"/>
<rect x="231.85" y="242.45" width="2.22" height="3.83" fill="#f2f4f6"/>
<rect x="234.42" y="242.45" width="2.22" height="3.83" fill="#f2f4f6"/>
<rect x="236.98" y="242.45" width="2.22" height="3.83" fill="#f2f4f6"/>
<rect x="239.55" y="242.45" width="2.22" height="3.83" fill="#f2f4f6"/>
<rect x="242.12" y="242.45" width="2.22" height="3.83" fill="#f2f4f6"/>
<rect x="244.68" y="242.45" width="2.22" height="3.83" fill="#f2f4f6"/>
<rect x="247.25" y="242.45" width="2.22" height="3.83" fill="#f2f4f6"/>
<rect x="249.82" y="242.45" width="2.22" height="3.83" fill="#f2f4f6"/>
<rect x="252.38" y="242.45" width="2.22" height="3.83" fill="#f2f4f6"/>
<rect x="254.95" y="242.45" width="2.22" height="3.83" fill="#f2f4f6"/>
<rect x="257.52" y="242.45" width="2.22" height="3.83" fill="#f2f4f6"/>
<rect x="260.09" y="242.45" width="2.22" height="3.83" fill="#f2f4f6"/>
<rect x="262.65" y="242.45" width="2.22" height="3.83" fill="#f2f4f6"/>
<rect x="265.22" y="242.45" width="2.22" height="3.83" fill="#f2f4f6"/>
<rect x="267.79" y="242.45" width="2.22" height="3.83" fill="#f2f4f6"/>
<rect x="270.35" y="242.45" width="2.22" height="3.83" fill="#f2f4f6"/>
<rect x="272.92" y="242.45" width="2.22" height="3.83" fill="#f2f4f6"/>
<rect x="275.49" y="242.45" width="2.22" height="3.83" fill="#f2f4f6"/>
<rect x="278.06" y="242.45" width="2.22" height="3.83" fill="#f2f4f6"/>
<rect x="280.62" y="242.45" width="2.22" height="3.83" fill="#f2f4f6"/>
<rect x="111.20" y="246.78" width="2.22" height="3.83" fill="#f2f4f6"/>
<rect x="113.77" y="246.78" width="2.22" height="3.83" fill="#f2f4f6"/>
<rect x="116.33" y="246.78" width="2.22" height="3.83" fill="#f2f4f6"/>
<rect x="118.90" y="246.78" width="2.22" height="3.83" fill="#f2f4f6"/>
<rect x="121.47" y="246.78" width="2.22" height="3.83" fill="#f2f4f6"/>
<rect x="124.04" y="246.78" width="2.22" height="3.83" fill="#f2f4f6"/>
<rect x="126.60" y="246.78" width="2.22" height="3.83" fill="#f2f4f6"/>
<rect x="129.17" y="246.78" width="2.22" height="3.83" fill="#f2f4f6"/>
<rect x="131.74" y="246.78" width="2.22" height="3.83" fill="#f2f4f6"/>
<rect x="134.30" y="246.78" width="2.22" height="3.83" fill="#f2f4f6"/>
<rect x="136.87" y="246.78" width="2.22" height="3.83" fill="#ffb300"/>
<rect x="139.44" y="246.78" width="2.22" height="3.83" fill="#f2f4f6"/>
<rect x="142.00" y="246.78" width="2.22" height="3.83" fill="#f2f4f6"/>
<rect x="144.57" y="246.78" width="2.22" height="3.83" fill="#f2f4f6"/>
<rect x="147.14" y="246.78" width="2.22" height="3.83" fill="#f2f4f6"/>
<rect x="149.70" y="246.78" width="2.22" height="3.83" fill="#f2f4f6"/>
<rect x="152.27" y="246.78" width="2.22" height="3.83" fill="#f2f4f6"/>
<rect x="154.84" y="246.78" width="2.22" height="3.83" fill="#f2f4f6"/>
<rect x="157.41" y="246.78" width="2.22" height="3.83" fill="#f2f4f6"/>
<rect x="159.97" y="246.78" width="2.22" height="3.83" fill="#f2f4f6"/>
<rect x="162.54" y="246.78" width="2.22" height="3.83" fill="#f2f4f6"/>
<rect x="165.11" y="246.78" width="2.22" height="3.83" fill="#f2f4f6"/>
<rect x="167.67" y="246.78" width="2.22" height="3.83" fill="#f2f4f6"/>
<rect x="170.24" y="246.78" width="2.22" height="3.83" fill="#f2f4f6"/>
<rect x="172.81" y="246.78" width="2.22" height="3.83" fill="#f2f4f6"/>
<rect x="175.38" y="246.78" width="2.22" height="3.83" fill="#f2f4f6"/>
<rect x="177.94" y="246.78" width="2.22" height="3.83" fill="#f2f4f6"/>
<rect x="180.51" y="246.78" width="2.22" height="3.83" fill="#f2f4f6"/>
<rect x="183.08" y="246.78" width="2.22" height="3.83" fill="#f2f4f6"/>
<rect x="185.64" y="246.78" width="2.22" height="3.83" fill="#f2f4f6"/>
<rect x="188.21" y="246.78" width="2.22" height="3.83" fill="#f2f4f6"/>
<rect x="190.78" y="246.78" width="2.22" height="3.83" fill="#f2f4f6"/>
<rect x="193.34" y="246.78" width="2.22" height="3.83" fill="#ffb300"/>
<rect x="195.91" y="246.78" width="2.22" height="3.83" fill="#f2f4f6"/>
<rect x="198.48" y="246.78" width="2.22" height="3.83" fill="#f2f4f6"/>
<rect x="201.04" y="246.78" width="2.22" height="3.83" fill="#ffb300"/>
<rect x="203.61" y="246.78" width="2.22" height="3.83" fill="#f2f4f6"/>
<rect x="206.18" y="246.78" width="2.22" height="3.83" fill="#f2f4f6"/>
<rect x="208.75" y="246.78" width="2.22" height="3.83" fill="#f2f4f6"/>
<rect x="211.31" y="246.78" width="2.22" height="3.83" fill="#f2f4f6"/>
<rect x="213.88" y="246.78" width="2.22" height="3.83" fill="#f2f4f6"/>
<rect x="216.45" y="246.78" width="2.22" height="3.83" fill="#f2f4f6"/>
<rect x="219.01" y="246.78" width="2.22" height="3.83" fill="#bf0010"/>
<rect x="221.58" y="246.78" width="2.22" height="3.83" fill="#f2f4f6"/>
<rect x="224.15" y="246.78" width="2.22" height="3.83" fill="#f2f4f6"/>
<rect x="226.72" y="246.78" width="2.22" height="3.83" fill="#f2f4f6"/>
<rect x="229.28" y="246.78" width="2.22" height="3.83" fill="#f2f4f6"/>
<rect x="231.85" y="246.78" width="2.22" height="3.83" fill="#f2f4f6"/>
<rect x="234.42" y="246.78" width="2.22" height="3.83" fill="#f2f4f6"/>
<rect x="236.98" y="246.78" width="2.22" height="3.83" fill="#f2f4f6"/>
<rect x="239.55" y="246.78" width="2.22" height="3.83" fill="#f2f4f6"/>
<rect x="242.12" y="246.78" width="2.22" height="3.83" fill="#f2f4f6"/>
<rect x="244.68" y="246.78" width="2.22" height="3.83" fill="#f2f4f6"/>
<rect x="247.25" y="246.78" width="2.22" height="3.83" fill="#f2f4f6"/>
<rect x="249.82" y="246.78" width="2.22" height="3.83" fill="#f2f4f6"/>
<rect x="252.38" y="246.78" width="2.22" height="3.83" fill="#f2f4f6"/>
<rect x="254.95" y="246.78" width="2.22" height="3.83" fill="#f2f4f6"/>
<rect x="257.52" y="246.78" width="2.22" height="3.83" fill="#f2f4f6"/>
<rect x="260.09" y="246.78" width="2.22" height="3.83" fill="#f2f4f6"/>
<rect x="262.65" y="246.78" width="2.22" height="3.83" fill="#f2f4f6"/>
<rect x="265.22" y="246.78" width="2.22" height="3.83" fill="#f2f4f6"/>
<rect x="267.79" y="246.78" width="2.22" height="3.83" fill="#f2f4f6"/>
<rect x="270.35" y="246.78" width="2.22" height="3.83" fill="#f2f4f6"/>
<rect x="272.92" y="246.78" width="2.22" height="3.83" fill="#f2f4f6"/>
<rect x="275.49" y="246.78" width="2.22" height="3.83" fill="#f2f4f6"/>
<rect x="278.06" y="246.78" width="2.22" height="3.83" fill="#f2f4f6"/>
<rect x="280.62" y="246.78" width="2.22" height="3.83" fill="#f2f4f6"/>
<rect x="111.20" y="251.11" width="2.22" height="3.83" fill="#f2f4f6"/>
<rect x="113.77" y="251.11" width="2.22" height="3.83" fill="#f2f4f6"/>
<rect x="116.33" y="251.11" width="2.22" height="3.83" fill="#f2f4f6"/>
<rect x="118.90" y="251.11" width="2.22" height="3.83" fill="#f2f4f6"/>
<rect x="121.47" y="251.11" width="2.22" height="3.83" fill="#f2f4f6"/>
<rect x="124.04" y="251.11" width="2.22" height="3.83" fill="#ffb300"/>
<rect x="126.60" y="251.11" width="2.22" height="3.83" fill="#ffb300"/>
<rect x="129.17" y="251.11" width="2.22" height="3.83" fill="#ffb300"/>
<rect x="131.74" y="251.11" width="2.22" height="3.83" fill="#f2f4f6"/>
<rect x="134.30" y="251.11" width="2.22" height="3.83" fill="#f2f4f6"/>
<rect x="136.87" y="251.11" width="2.22" height="3.83" fill="#f2f4f6"/>
<rect x="139.44" y="251.11" width="2.22" height="3.83" fill="#f2f4f6"/>
<rect x="142.00" y="251.11" width="2.22" height="3.83" fill="#f2f4f6"/>
<rect x="144.57" y="251.11" width="2.22" height="3.83" fill="#f2f4f6"/>
<rect x="147.14" y="251.11" width="2.22" height="3.83" fill="#ffb300"/>
<rect x="149.70" y="251.11" width="2.22" height="3.83" fill="#f2f4f6"/>
<rect x="152.27" y="251.11" width="2.22" height="3.83" fill="#f2f4f6"/>
<rect x="154.84" y="251.11" width="2.22" height="3.83" fill="#f2f4f6"/>
<rect x="157.41" y="251.11" width="2.22" height="3.83" fill="#f2f4f6"/>
<rect x="159.97" y="251.11" width="2.22" height="3.83" fill="#f2f4f6"/>
<rect x="162.54" y="251.11" width="2.22" height="3.83" fill="#f2f4f6"/>
<rect x="165.11" y="251.11" width="2.22" height="3.83" fill="#f2f4f6"/>
<rect x="167.67" y="251.11" width="2.22" height="3.83" fill="#f2f4f6"/>
<rect x="170.24" y="251.11" width="2.22" height="3.83" fill="#f2f4f6"/>
<rect x="172.81" y="251.11" width="2.22" height="3.83" fill="#f2f4f6"/>
<rect x="175.38" y="251.11" width="2.22" height="3.83" fill="#f2f4f6"/>
<rect x="177.94" y="251.11" width="2.22" height="3.83" fill="#f2f4f6"/>
<rect x="180.51" y="251.11" width="2.22" height="3.83" fill="#f2f4f6"/>
<rect x="183.08" y="251.11" width="2.22" height="3.83" fill="#f2f4f6"/>
<rect x="185.64" y="251.11" width="2.22" height="3.83" fill="#f2f4f6"/>
<rect x="188.21" y="251.11" width="2.22" height="3.83" fill="#f2f4f6"/>
<rect x="190.78" y="251.11" width="2.22" height="3.83" fill="#f2f4f6"/>
<rect x="193.34" y="251.11" width="2.22" height="3.83" fill="#f2f4f6"/>
<rect x="195.91" y="251.11" width="2.22" height="3.83" fill="#f2f4f6"/>
<rect x="198.48" y="251.11" width="2.22" height="3.83" fill="#f2f4f6"/>
<rect x="201.04" y="251.11" width="2.22" height="3.83" fill="#f2f4f6"/>
<rect x="203.61" y="251.11" width="2.22" height="3.83" fill="#f2f4f6"/>
<rect x="206.18" y="251.11" width="2.22" height="3.83" fill="#f2f4f6"/>
<rect x="208.75" y="251.11" width="2.22" height="3.83" fill="#f2f4f6"/>
<rect x="211.31" y="251.11" width="2.22" height="3.83" fill="#f2f4f6"/>
<rect x="213.88" y="251.11" width="2.22" height="3.83" fill="#f2f4f6"/>
<rect x="216.45" y="251.11" width="2.22" height="3.83" fill="#f2f4f6"/>
<rect x="219.01" y="251.11" width="2.22" height="3.83" fill="#f2f4f6"/>
<rect x="221.58" y="251.11" width="2.22" height="3.83" fill="#f2f4f6"/>
<rect x="224.15" y="251.11" width="2.22" height="3.83" fill="#f2f4f6"/>
<rect x="226.72" y="251.11" width="2.22" height="3.83" fill="#f2f4f6"/>
<rect x="229.28" y="251.11" width="2.22" height="3.83" fill="#f2f4f6"/>
<rect x="231.85" y="251.11" width="2.22" height="3.83" fill="#f2f4f6"/>
<rect x="234.42" y="251.11" width="2.22" height="3.83" fill="#f2f4f6"/>
<rect x="236.98" y="251.11" width="2.22" height="3.83" fill="#f2f4f6"/>
<rect x="239.55" y="251.11" width="2.22" height="3.83" fill="#f2f4f6"/>
<rect x="242.12" y="251.11" width="2.22" height="3.83" fill="#f2f4f6"/>
<rect x="244.68" y="251.11" width="2.22" height="3.83" fill="#f2f4f6"/>
<rect x="247.25" y="251.11" width="2.22" height="3.83" fill="#f2f4f6"/>
<rect x="249.82" y="251.11" width="2.22" height="3.83" fill="#f2f4f6"/>
<rect x="252.38" y="251.11" width="2.22" height="3.83" fill="#f2f4f6"/>
<rect x="254.95" y="251.11" width="2.22" height="3.83" fill="#f2f4f6"/>
<rect x="257.52" y="251.11" width="2.22" height="3.83" fill="#f2f4f6"/>
<rect x="260.09" y="251.11" width="2.22" height="3.83" fill="#f2f4f6"/>
<rect x="262.65" y="251.11" width="2.22" height="3.83" fill="#f2f4f6"/>
<rect x="265.22" y="251.11" width="2.22" height="3.83" fill="#f2f4f6"/>
<rect x="267.79" y="251.11" width="2.22" height="3.83" fill="#f2f4f6"/>
<rect x="270.35" y="251.11" width="2.22" height="3.83" fill="#f2f4f6"/>
<rect x="272.92" y="251.11" width="2.22" height="3.83" fill="#f2f4f6"/>
<rect x="275.49" y="251.11" width="2.22" height="3.83" fill="#f2f4f6"/>
<rect x="278.06" y="251.11" width="2.22" height="3.83" fill="#f2f4f6"/>
<rect x="280.62" y="251.11" width="2.22" height="3.83" fill="#f2f4f6"/>
<rect x="111.20" y="255.44" width="2.22" height="3.83" fill="#f2f4f6"/>
<rect x="113.77" y="255.44" width="2.22" height="3.83" fill="#f2f4f6"/>
<rect x="116.33" y="255.44" width="2.22" height="3.83" fill="#f2f4f6"/>
<rect x="118.90" y="255.44" width="2.22" height="3.83" fill="#f2f4f6"/>
<rect x="121.47" y="255.44" width="2.22" height="3.83" fill="#f2f4f6"/>
<rect x="124.04" y="255.44" width="2.22" height="3.83" fill="#f2f4f6"/>
<rect x="126.60" y="255.44" width="2.22" height="3.83" fill="#f2f4f6"/>
<rect x="129.17" y="255.44" width="2.22" height="3.83" fill="#ffb300"/>
<rect x="131.74" y="255.44" width="2.22" height="3.83" fill="#f2f4f6"/>
<rect x="134.30" y="255.44" width="2.22" height="3.83" fill="#f2f4f6"/>
<rect x="136.87" y="255.44" width="2.22" height="3.83" fill="#f2f4f6"/>
<rect x="139.44" y="255.44" width="2.22" height="3.83" fill="#f2f4f6"/>
<rect x="142.00" y="255.44" width="2.22" height="3.83" fill="#f2f4f6"/>
<rect x="144.57" y="255.44" width="2.22" height="3.83" fill="#f2f4f6"/>
<rect x="147.14" y="255.44" width="2.22" height="3.83" fill="#ffb300"/>
<rect x="149.70" y="255.44" width="2.22" height="3.83" fill="#f2f4f6"/>
<rect x="152.27" y="255.44" width="2.22" height="3.83" fill="#f2f4f6"/>
<rect x="154.84" y="255.44" width="2.22" height="3.83" fill="#f2f4f6"/>
<rect x="157.41" y="255.44" width="2.22" height="3.83" fill="#f2f4f6"/>
<rect x="159.97" y="255.44" width="2.22" height="3.83" fill="#f2f4f6"/>
<rect x="162.54" y="255.44" width="2.22" height="3.83" fill="#f2f4f6"/>
<rect x="165.11" y="255.44" width="2.22" height="3.83" fill="#f2f4f6"/>
<rect x="167.67" y="255.44" width="2.22" height="3.83" fill="#f2f4f6"/>
<rect x="170.24" y="255.44" width="2.22" height="3.83" fill="#f2f4f6"/>
<rect x="172.81" y="255.44" width="2.22" height="3.83" fill="#f2f4f6"/>
<rect x="175.38" y="255.44" width="2.22" height="3.83" fill="#f2f4f6"/>
<rect x="177.94" y="255.44" width="2.22" height="3.83" fill="#f2f4f6"/>
<rect x="180.51" y="255.44" width="2.22" height="3.83" fill="#f2f4f6"/>
<rect x="183.08" y="255.44" width="2.22" height="3.83" fill="#f2f4f6"/>
<rect x="185.64" y="255.44" width="2.22" height="3.83" fill="#f2f4f6"/>
<rect x="188.21" y="255.44" width="2.22" height="3.83" fill="#f2f4f6"/>
<rect x="190.78" y="255.44" width="2.22" height="3.83" fill="#f2f4f6"/>
<rect x="193.34" y="255.44" width="2.22" height="3.83" fill="#f2f4f6"/>
<rect x="195.91" y="255.44" width="2.22" height="3.83" fill="#f2f4f6"/>
<rect x="198.48" y="255.44" width="2.22" height="3.83" fill="#f2f4f6"/>
<rect x="201.04" y="255.44" width="2.22" height="3.83" fill="#f2f4f6"/>
<rect x="203.61" y="255.44" width="2.22" height="3.83" fill="#f2f4f6"/>
<rect x="206.18" y="255.44" width="2.22" height="3.83" fill="#f2f4f6"/>
<rect x="208.75" y="255.44" width="2.22" height="3.83" fill="#f2f4f6"/>
<rect x="211.31" y="255.44" width="2.22" height="3.83" fill="#f2f4f6"/>
<rect x="213.88" y="255.44" width="2.22" height="3.83" fill="#f2f4f6"/>
<rect x="216.45" y="255.44" width="2.22" height="3.83" fill="#f2f4f6"/>
<rect x="219.01" y="255.44" width="2.22" height="3.83" fill="#f2f4f6"/>
<rect x="221.58" y="255.44" width="2.22" height="3.83" fill="#f2f4f6"/>
<rect x="224.15" y="255.44" width="2.22" height="3.83" fill="#f2f4f6"/>
<rect x="226.72" y="255.44" width="2.22" height="3.83" fill="#f2f4f6"/>
<rect x="229.28" y="255.44" width="2.22" height="3.83" fill="#f2f4f6"/>
<rect x="231.85" y="255.44" width="2.22" height="3.83" fill="#f2f4f6"/>
<rect x="234.42" y="255.44" width="2.22" height="3.83" fill="#ffb300"/>
<rect x="236.98" y="255.44" width="2.22" height="3.83" fill="#f2f4f6"/>
<rect x="239.55" y="255.44" width="2.22" height="3.83" fill="#f2f4f6"/>
<rect x="242.12" y="255.44" width="2.22" height="3.83" fill="#f2f4f6"/>
<rect x="244.68" y="255.44" width="2.22" height="3.83" fill="#f2f4f6"/>
<rect x="247.25" y="255.44" width="2.22" height="3.83" fill="#f2f4f6"/>
<rect x="249.82" y="255.44" width="2.22" height="3.83" fill="#ffb300"/>
<rect x="252.38" y="255.44" width="2.22" height="3.83" fill="#f2f4f6"/>
<rect x="254.95" y="255.44" width="2.22" height="3.83" fill="#f2f4f6"/>
<rect x="257.52" y="255.44" width="2.22" height="3.83" fill="#f2f4f6"/>
<rect x="260.09" y="255.44" width="2.22" height="3.83" fill="#f2f4f6"/>
<rect x="262.65" y="255.44" width="2.22" height="3.83" fill="#f2f4f6"/>
<rect x="265.22" y="255.44" width="2.22" height="3.83" fill="#f2f4f6"/>
<rect x="267.79" y="255.44" width="2.22" height="3.83" fill="#f2f4f6"/>
<rect x="270.35" y="255.44" width="2.22" height="3.83" fill="#f2f4f6"/>
<rect x="272.92" y="255.44" width="2.22" height="3.83" fill="#f2f4f6"/>
<rect x="275.49" y="255.44" width="2.22" height="3.83" fill="#f2f4f6"/>
<rect x="278.06" y="255.44" width="2.22" height="3.83" fill="#f2f4f6"/>
<rect x="280.62" y="255.44" width="2.22" height="3.83" fill="#f2f4f6"/>
<rect x="111.20" y="61.00" width="2.22" height="4.00" fill="#4a12f5"/>
<rect x="113.77" y="61.00" width="2.22" height="4.00" fill="#4a12f5"/>
<rect x="116.33" y="61.00" width="2.22" height="4.00" fill="#4a12f5"/>
<rect x="118.90" y="61.00" width="2.22" height="4.00" fill="#4a12f5"/>
<rect x="121.47" y="61.00" width="2.22" height="4.00" fill="#4a12f5"/>
<rect x="124.04" y="61.00" width="2.22" height="4.00" fill="#62f28c"/>
<rect x="126.60" y="61.00" width="2.22" height="4.00" fill="#62f28c"/>
<rect x="129.17" y="61.00" width="2.22" height="4.00" fill="#62f28c"/>
<rect x="131.74" y="61.00" width="2.22" height="4.00" fill="#4a12f5"/>
<rect x="134.30" y="61.00" width="2.22" height="4.00" fill="#62f28c"/>
<rect x="136.87" y="61.00" width="2.22" height="4.00" fill="#62f28c"/>
<rect x="139.44" y="61.00" width="2.22" height="4.00" fill="#62f28c"/>
<rect x="142.00" y="61.00" width="2.22" height="4.00" fill="#62f28c"/>
<rect x="144.57" y="61.00" width="2.22" height="4.00" fill="#62f28c"/>
<rect x="147.14" y="61.00" width="2.22" height="4.00" fill="#62f28c"/>
<rect x="149.70" y="61.00" width="2.22" height="4.00" fill="#62f28c"/>
<rect x="152.27" y="61.00" width="2.22" height="4.00" fill="#4a12f5"/>
<rect x="154.84" y="61.00" width="2.22" height="4.00" fill="#62f28c"/>
<rect x="157.41" y="61.00" width="2.22" height="4.00" fill="#4a12f5"/>
<rect x="159.97" y="61.00" width="2.22" height="4.00" fill="#fff060"/>
<rect x="162.54" y="61.00" width="2.22" height="4.00" fill="#4a12f5"/>
<rect x="165.11" y="61.00" width="2.22" height="4.00" fill="#ffe88a"/>
<rect x="167.67" y="61.00" width="2.22" height="4.00" fill="#ffe88a"/>
<rect x="170.24" y="61.00" width="2.22" height="4.00" fill="#ffe88a"/>
<rect x="172.81" y="61.00" width="2.22" height="4.00" fill="#4a12f5"/>
<rect x="175.38" y="61.00" width="2.22" height="4.00" fill="#fff060"/>
<rect x="177.94" y="61.00" width="2.22" height="4.00" fill="#4a12f5"/>
<rect x="180.51" y="61.00" width="2.22" height="4.00" fill="#ffe88a"/>
<rect x="183.08" y="61.00" width="2.22" height="4.00" fill="#ffe88a"/>
<rect x="185.64" y="61.00" width="2.22" height="4.00" fill="#62f28c"/>
<rect x="188.21" y="61.00" width="2.22" height="4.00" fill="#62f28c"/>
<rect x="190.78" y="61.00" width="2.22" height="4.00" fill="#62f28c"/>
<rect x="193.34" y="61.00" width="2.22" height="4.00" fill="#4a12f5"/>
<rect x="195.91" y="61.00" width="2.22" height="4.00" fill="#62f28c"/>
<rect x="198.48" y="61.00" width="2.22" height="4.00" fill="#62f28c"/>
<rect x="201.04" y="61.00" width="2.22" height="4.00" fill="#4a12f5"/>
<rect x="203.61" y="61.00" width="2.22" height="4.00" fill="#4a12f5"/>
<rect x="206.18" y="61.00" width="2.22" height="4.00" fill="#fff060"/>
<rect x="208.75" y="61.00" width="2.22" height="4.00" fill="#4a12f5"/>
<rect x="211.31" y="61.00" width="2.22" height="4.00" fill="#ffe88a"/>
<rect x="213.88" y="61.00" width="2.22" height="4.00" fill="#ffe88a"/>
<rect x="216.45" y="61.00" width="2.22" height="4.00" fill="#4a12f5"/>
<rect x="219.01" y="61.00" width="2.22" height="4.00" fill="#4a12f5"/>
<rect x="221.58" y="61.00" width="2.22" height="4.00" fill="#fff060"/>
<rect x="224.15" y="61.00" width="2.22" height="4.00" fill="#4a12f5"/>
<rect x="226.72" y="61.00" width="2.22" height="4.00" fill="#ffe88a"/>
<rect x="229.28" y="61.00" width="2.22" height="4.00" fill="#ffe88a"/>
<rect x="231.85" y="61.00" width="2.22" height="4.00" fill="#62f28c"/>
<rect x="234.42" y="61.00" width="2.22" height="4.00" fill="#4a12f5"/>
<rect x="236.98" y="61.00" width="2.22" height="4.00" fill="#4a12f5"/>
<rect x="239.55" y="61.00" width="2.22" height="4.00" fill="#4a12f5"/>
<rect x="242.12" y="61.00" width="2.22" height="4.00" fill="#fff060"/>
<rect x="244.68" y="61.00" width="2.22" height="4.00" fill="#62f28c"/>
<rect x="247.25" y="61.00" width="2.22" height="4.00" fill="#ffe88a"/>
<rect x="249.82" y="61.00" width="2.22" height="4.00" fill="#62f28c"/>
<rect x="252.38" y="61.00" width="2.22" height="4.00" fill="#62f28c"/>
<rect x="254.95" y="61.00" width="2.22" height="4.00" fill="#4a12f5"/>
<rect x="257.52" y="61.00" width="2.22" height="4.00" fill="#62f28c"/>
<rect x="260.09" y="61.00" width="2.22" height="4.00" fill="#62f28c"/>
<rect x="262.65" y="61.00" width="2.22" height="4.00" fill="#4a12f5"/>
<rect x="265.22" y="61.00" width="2.22" height="4.00" fill="#4a12f5"/>
<rect x="267.79" y="61.00" width="2.22" height="4.00" fill="#62f28c"/>
<rect x="270.35" y="61.00" width="2.22" height="4.00" fill="#4a12f5"/>
<rect x="272.92" y="61.00" width="2.22" height="4.00" fill="#4a12f5"/>
<rect x="275.49" y="61.00" width="2.22" height="4.00" fill="#62f28c"/>
<rect x="278.06" y="61.00" width="2.22" height="4.00" fill="#4a12f5"/>
<rect x="280.62" y="61.00" width="2.22" height="4.00" fill="#4a12f5"/>
<line x1="110.10" y1="9.50" x2="110.10" y2="54.40" stroke="#8d9c9c" stroke-width="1.00"/>
<line x1="108.90" y1="9.80" x2="110.10" y2="9.80" stroke="#8d9c9c" stroke-width="0.60"/>
<text x="106.60" y="11.90" font-size="5.90" fill="#000" text-anchor="end" font-weight="normal" font-style="normal" stroke="#000" stroke-width="0.18">150</text>
<line x1="108.90" y1="24.60" x2="110.10" y2="24.60" stroke="#8d9c9c" stroke-width="0.60"/>
<text x="106.60" y="26.70" font-size="5.90" fill="#000" text-anchor="end" font-weight="normal" font-style="normal" stroke="#000" stroke-width="0.18">100</text>
<line x1="108.90" y1="39.40" x2="110.10" y2="39.40" stroke="#8d9c9c" stroke-width="0.60"/>
<text x="106.60" y="41.50" font-size="5.90" fill="#000" text-anchor="end" font-weight="normal" font-style="normal" stroke="#000" stroke-width="0.18">50</text>
<line x1="108.90" y1="54.20" x2="110.10" y2="54.20" stroke="#8d9c9c" stroke-width="0.60"/>
<text x="106.60" y="56.30" font-size="5.90" fill="#000" text-anchor="end" font-weight="normal" font-style="normal" stroke="#000" stroke-width="0.18">0</text>
<line x1="110.10" y1="54.50" x2="283.60" y2="54.50" stroke="#d4dcdc" stroke-width="0.60"/>
<line x1="112.28" y1="54.60" x2="112.28" y2="56.00" stroke="#dfe5e5" stroke-width="0.50"/>
<line x1="114.85" y1="54.60" x2="114.85" y2="56.00" stroke="#dfe5e5" stroke-width="0.50"/>
<line x1="117.42" y1="54.60" x2="117.42" y2="56.00" stroke="#dfe5e5" stroke-width="0.50"/>
<line x1="119.98" y1="54.60" x2="119.98" y2="56.00" stroke="#dfe5e5" stroke-width="0.50"/>
<line x1="122.55" y1="54.60" x2="122.55" y2="56.00" stroke="#dfe5e5" stroke-width="0.50"/>
<line x1="125.12" y1="54.60" x2="125.12" y2="56.00" stroke="#dfe5e5" stroke-width="0.50"/>
<line x1="127.69" y1="54.60" x2="127.69" y2="56.00" stroke="#dfe5e5" stroke-width="0.50"/>
<line x1="130.25" y1="54.60" x2="130.25" y2="56.00" stroke="#dfe5e5" stroke-width="0.50"/>
<line x1="132.82" y1="54.60" x2="132.82" y2="56.00" stroke="#dfe5e5" stroke-width="0.50"/>
<line x1="135.39" y1="54.60" x2="135.39" y2="56.00" stroke="#dfe5e5" stroke-width="0.50"/>
<line x1="137.95" y1="54.60" x2="137.95" y2="56.00" stroke="#dfe5e5" stroke-width="0.50"/>
<line x1="140.52" y1="54.60" x2="140.52" y2="56.00" stroke="#dfe5e5" stroke-width="0.50"/>
<line x1="143.09" y1="54.60" x2="143.09" y2="56.00" stroke="#dfe5e5" stroke-width="0.50"/>
<line x1="145.65" y1="54.60" x2="145.65" y2="56.00" stroke="#dfe5e5" stroke-width="0.50"/>
<line x1="148.22" y1="54.60" x2="148.22" y2="56.00" stroke="#dfe5e5" stroke-width="0.50"/>
<line x1="150.79" y1="54.60" x2="150.79" y2="56.00" stroke="#dfe5e5" stroke-width="0.50"/>
<line x1="153.36" y1="54.60" x2="153.36" y2="56.00" stroke="#dfe5e5" stroke-width="0.50"/>
<line x1="155.92" y1="54.60" x2="155.92" y2="56.00" stroke="#dfe5e5" stroke-width="0.50"/>
<line x1="158.49" y1="54.60" x2="158.49" y2="56.00" stroke="#dfe5e5" stroke-width="0.50"/>
<line x1="161.06" y1="54.60" x2="161.06" y2="56.00" stroke="#dfe5e5" stroke-width="0.50"/>
<line x1="163.62" y1="54.60" x2="163.62" y2="56.00" stroke="#dfe5e5" stroke-width="0.50"/>
<line x1="166.19" y1="54.60" x2="166.19" y2="56.00" stroke="#dfe5e5" stroke-width="0.50"/>
<line x1="168.76" y1="54.60" x2="168.76" y2="56.00" stroke="#dfe5e5" stroke-width="0.50"/>
<line x1="171.32" y1="54.60" x2="171.32" y2="56.00" stroke="#dfe5e5" stroke-width="0.50"/>
<line x1="173.89" y1="54.60" x2="173.89" y2="56.00" stroke="#dfe5e5" stroke-width="0.50"/>
<line x1="176.46" y1="54.60" x2="176.46" y2="56.00" stroke="#dfe5e5" stroke-width="0.50"/>
<line x1="179.03" y1="54.60" x2="179.03" y2="56.00" stroke="#dfe5e5" stroke-width="0.50"/>
<line x1="181.59" y1="54.60" x2="181.59" y2="56.00" stroke="#dfe5e5" stroke-width="0.50"/>
<line x1="184.16" y1="54.60" x2="184.16" y2="56.00" stroke="#dfe5e5" stroke-width="0.50"/>
<line x1="186.73" y1="54.60" x2="186.73" y2="56.00" stroke="#dfe5e5" stroke-width="0.50"/>
<line x1="189.29" y1="54.60" x2="189.29" y2="56.00" stroke="#dfe5e5" stroke-width="0.50"/>
<line x1="191.86" y1="54.60" x2="191.86" y2="56.00" stroke="#dfe5e5" stroke-width="0.50"/>
<line x1="194.43" y1="54.60" x2="194.43" y2="56.00" stroke="#dfe5e5" stroke-width="0.50"/>
<line x1="196.99" y1="54.60" x2="196.99" y2="56.00" stroke="#dfe5e5" stroke-width="0.50"/>
<line x1="199.56" y1="54.60" x2="199.56" y2="56.00" stroke="#dfe5e5" stroke-width="0.50"/>
<line x1="202.13" y1="54.60" x2="202.13" y2="56.00" stroke="#dfe5e5" stroke-width="0.50"/>
<line x1="204.70" y1="54.60" x2="204.70" y2="56.00" stroke="#dfe5e5" stroke-width="0.50"/>
<line x1="207.26" y1="54.60" x2="207.26" y2="56.00" stroke="#dfe5e5" stroke-width="0.50"/>
<line x1="209.83" y1="54.60" x2="209.83" y2="56.00" stroke="#dfe5e5" stroke-width="0.50"/>
<line x1="212.40" y1="54.60" x2="212.40" y2="56.00" stroke="#dfe5e5" stroke-width="0.50"/>
<line x1="214.96" y1="54.60" x2="214.96" y2="56.00" stroke="#dfe5e5" stroke-width="0.50"/>
<line x1="217.53" y1="54.60" x2="217.53" y2="56.00" stroke="#dfe5e5" stroke-width="0.50"/>
<line x1="220.10" y1="54.60" x2="220.10" y2="56.00" stroke="#dfe5e5" stroke-width="0.50"/>
<line x1="222.66" y1="54.60" x2="222.66" y2="56.00" stroke="#dfe5e5" stroke-width="0.50"/>
<line x1="225.23" y1="54.60" x2="225.23" y2="56.00" stroke="#dfe5e5" stroke-width="0.50"/>
<line x1="227.80" y1="54.60" x2="227.80" y2="56.00" stroke="#dfe5e5" stroke-width="0.50"/>
<line x1="230.37" y1="54.60" x2="230.37" y2="56.00" stroke="#dfe5e5" stroke-width="0.50"/>
<line x1="232.93" y1="54.60" x2="232.93" y2="56.00" stroke="#dfe5e5" stroke-width="0.50"/>
<line x1="235.50" y1="54.60" x2="235.50" y2="56.00" stroke="#dfe5e5" stroke-width="0.50"/>
<line x1="238.07" y1="54.60" x2="238.07" y2="56.00" stroke="#dfe5e5" stroke-width="0.50"/>
<line x1="240.63" y1="54.60" x2="240.63" y2="56.00" stroke="#dfe5e5" stroke-width="0.50"/>
<line x1="243.20" y1="54.60" x2="243.20" y2="56.00" stroke="#dfe5e5" stroke-width="0.50"/>
<line x1="245.77" y1="54.60" x2="245.77" y2="56.00" stroke="#dfe5e5" stroke-width="0.50"/>
<line x1="248.33" y1="54.60" x2="248.33" y2="56.00" stroke="#dfe5e5" stroke-width="0.50"/>
<line x1="250.90" y1="54.60" x2="250.90" y2="56.00" stroke="#dfe5e5" stroke-width="0.50"/>
<line x1="253.47" y1="54.60" x2="253.47" y2="56.00" stroke="#dfe5e5" stroke-width="0.50"/>
<line x1="256.04" y1="54.60" x2="256.04" y2="56.00" stroke="#dfe5e5" stroke-width="0.50"/>
<line x1="258.60" y1="54.60" x2="258.60" y2="56.00" stroke="#dfe5e5" stroke-width="0.50"/>
<line x1="261.17" y1="54.60" x2="261.17" y2="56.00" stroke="#dfe5e5" stroke-width="0.50"/>
<line x1="263.74" y1="54.60" x2="263.74" y2="56.00" stroke="#dfe5e5" stroke-width="0.50"/>
<line x1="266.30" y1="54.60" x2="266.30" y2="56.00" stroke="#dfe5e5" stroke-width="0.50"/>
<line x1="268.87" y1="54.60" x2="268.87" y2="56.00" stroke="#dfe5e5" stroke-width="0.50"/>
<line x1="271.44" y1="54.60" x2="271.44" y2="56.00" stroke="#dfe5e5" stroke-width="0.50"/>
<line x1="274.00" y1="54.60" x2="274.00" y2="56.00" stroke="#dfe5e5" stroke-width="0.50"/>
<line x1="276.57" y1="54.60" x2="276.57" y2="56.00" stroke="#dfe5e5" stroke-width="0.50"/>
<line x1="279.14" y1="54.60" x2="279.14" y2="56.00" stroke="#dfe5e5" stroke-width="0.50"/>
<line x1="281.71" y1="54.60" x2="281.71" y2="56.00" stroke="#dfe5e5" stroke-width="0.50"/>
<rect x="111.30" y="53.31" width="1.90" height="0.89" fill="#6c8282"/>
<rect x="111.30" y="52.13" width="1.90" height="1.18" fill="#4a0cff"/>
<rect x="111.30" y="49.17" width="1.90" height="2.96" fill="#ffb300"/>
<rect x="111.30" y="48.87" width="1.90" height="0.30" fill="#b2f09a"/>
<rect x="113.87" y="44.43" width="1.90" height="9.77" fill="#6c8282"/>
<rect x="113.87" y="42.95" width="1.90" height="1.48" fill="#c00000"/>
<rect x="113.87" y="40.29" width="1.90" height="2.66" fill="#000000"/>
<rect x="113.87" y="20.46" width="1.90" height="19.83" fill="#ffb300"/>
<rect x="113.87" y="19.57" width="1.90" height="0.89" fill="#b2f09a"/>
<rect x="116.43" y="53.02" width="1.90" height="1.18" fill="#6c8282"/>
<rect x="116.43" y="51.83" width="1.90" height="1.18" fill="#000000"/>
<rect x="116.43" y="51.24" width="1.90" height="0.59" fill="#b2f09a"/>
<rect x="119.00" y="53.61" width="1.90" height="0.59" fill="#6c8282"/>
<rect x="119.00" y="53.02" width="1.90" height="0.59" fill="#c00000"/>
<rect x="119.00" y="52.13" width="1.90" height="0.89" fill="#000000"/>
<rect x="121.57" y="52.42" width="1.90" height="1.78" fill="#6c8282"/>
<rect x="121.57" y="51.54" width="1.90" height="0.89" fill="#c00000"/>
<rect x="121.57" y="47.98" width="1.90" height="3.55" fill="#ffb300"/>
<rect x="121.57" y="47.69" width="1.90" height="0.30" fill="#b2f09a"/>
<rect x="124.14" y="52.72" width="1.90" height="1.48" fill="#6c8282"/>
<rect x="124.14" y="51.83" width="1.90" height="0.89" fill="#c00000"/>
<rect x="124.14" y="50.94" width="1.90" height="0.89" fill="#000000"/>
<rect x="124.14" y="45.32" width="1.90" height="5.62" fill="#ffb300"/>
<rect x="124.14" y="45.02" width="1.90" height="0.30" fill="#b2f09a"/>
<rect x="126.70" y="53.31" width="1.90" height="0.89" fill="#6c8282"/>
<rect x="126.70" y="52.42" width="1.90" height="0.89" fill="#c00000"/>
<rect x="126.70" y="51.54" width="1.90" height="0.89" fill="#000000"/>
<rect x="126.70" y="50.65" width="1.90" height="0.89" fill="#22ee11"/>
<rect x="126.70" y="41.18" width="1.90" height="9.47" fill="#ffb300"/>
<rect x="126.70" y="40.58" width="1.90" height="0.59" fill="#b2f09a"/>
<rect x="129.27" y="52.72" width="1.90" height="1.48" fill="#6c8282"/>
<rect x="129.27" y="50.35" width="1.90" height="2.37" fill="#c00000"/>
<rect x="129.27" y="49.76" width="1.90" height="0.59" fill="#22ee11"/>
<rect x="129.27" y="41.47" width="1.90" height="8.29" fill="#ffb300"/>
<rect x="129.27" y="40.88" width="1.90" height="0.59" fill="#b2f09a"/>
<rect x="131.84" y="50.06" width="1.90" height="4.14" fill="#6c8282"/>
<rect x="131.84" y="48.87" width="1.90" height="1.18" fill="#4a0cff"/>
<rect x="131.84" y="45.62" width="1.90" height="3.26" fill="#ffb300"/>
<rect x="131.84" y="45.02" width="1.90" height="0.59" fill="#b2f09a"/>
<rect x="134.40" y="53.02" width="1.90" height="1.18" fill="#6c8282"/>
<rect x="134.40" y="51.83" width="1.90" height="1.18" fill="#c00000"/>
<rect x="134.40" y="50.94" width="1.90" height="0.89" fill="#000000"/>
<rect x="134.40" y="48.58" width="1.90" height="2.37" fill="#ffb300"/>
<rect x="134.40" y="48.28" width="1.90" height="0.30" fill="#b2f09a"/>
<rect x="136.97" y="53.31" width="1.90" height="0.89" fill="#6c8282"/>
<rect x="136.97" y="52.72" width="1.90" height="0.59" fill="#000000"/>
<rect x="136.97" y="52.13" width="1.90" height="0.59" fill="#22ee11"/>
<rect x="136.97" y="46.80" width="1.90" height="5.33" fill="#ffb300"/>
<rect x="136.97" y="46.21" width="1.90" height="0.59" fill="#b2f09a"/>
<rect x="139.54" y="53.31" width="1.90" height="0.89" fill="#6c8282"/>
<rect x="139.54" y="52.42" width="1.90" height="0.89" fill="#22ee11"/>
<rect x="139.54" y="48.58" width="1.90" height="3.85" fill="#ffb300"/>
<rect x="139.54" y="48.28" width="1.90" height="0.30" fill="#b2f09a"/>
<rect x="142.10" y="53.61" width="1.90" height="0.59" fill="#6c8282"/>
<rect x="142.10" y="52.72" width="1.90" height="0.89" fill="#000000"/>
<rect x="142.10" y="49.76" width="1.90" height="2.96" fill="#ffb300"/>
<rect x="142.10" y="48.87" width="1.90" height="0.89" fill="#fdb99c"/>
<rect x="144.67" y="53.61" width="1.90" height="0.59" fill="#6c8282"/>
<rect x="144.67" y="52.72" width="1.90" height="0.89" fill="#c00000"/>
<rect x="144.67" y="49.17" width="1.90" height="3.55" fill="#ffb300"/>
<rect x="144.67" y="48.87" width="1.90" height="0.30" fill="#b2f09a"/>
<rect x="147.24" y="52.42" width="1.90" height="1.78" fill="#6c8282"/>
<rect x="147.24" y="51.24" width="1.90" height="1.18" fill="#c00000"/>
<rect x="147.24" y="50.65" width="1.90" height="0.59" fill="#000000"/>
<rect x="147.24" y="50.06" width="1.90" height="0.59" fill="#22ee11"/>
<rect x="147.24" y="18.68" width="1.90" height="31.38" fill="#ffb300"/>
<rect x="147.24" y="17.79" width="1.90" height="0.89" fill="#b2f09a"/>
<rect x="149.81" y="53.61" width="1.90" height="0.59" fill="#6c8282"/>
<rect x="149.81" y="52.72" width="1.90" height="0.89" fill="#c00000"/>
<rect x="149.81" y="51.83" width="1.90" height="0.89" fill="#000000"/>
<rect x="152.37" y="53.02" width="1.90" height="1.18" fill="#6c8282"/>
<rect x="152.37" y="52.13" width="1.90" height="0.89" fill="#000000"/>
<rect x="152.37" y="47.69" width="1.90" height="4.44" fill="#ffb300"/>
<rect x="152.37" y="47.39" width="1.90" height="0.30" fill="#b2f09a"/>
<rect x="154.94" y="53.61" width="1.90" height="0.59" fill="#6c8282"/>
<rect x="157.51" y="53.31" width="1.90" height="0.89" fill="#6c8282"/>
<rect x="157.51" y="52.42" width="1.90" height="0.89" fill="#1f78ff"/>
<rect x="160.07" y="52.72" width="1.90" height="1.48" fill="#6c8282"/>
<rect x="160.07" y="52.13" width="1.90" height="0.59" fill="#000000"/>
<rect x="160.07" y="51.54" width="1.90" height="0.59" fill="#6c8282"/>
<rect x="160.07" y="50.94" width="1.90" height="0.59" fill="#22ee11"/>
<rect x="160.07" y="44.43" width="1.90" height="6.51" fill="#ffb300"/>
<rect x="160.07" y="43.54" width="1.90" height="0.89" fill="#b2f09a"/>
<rect x="162.64" y="53.02" width="1.90" height="1.18" fill="#6c8282"/>
<rect x="162.64" y="52.13" width="1.90" height="0.89" fill="#000000"/>
<rect x="162.64" y="51.24" width="1.90" height="0.89" fill="#c00000"/>
<rect x="162.64" y="50.65" width="1.90" height="0.59" fill="#22ee11"/>
<rect x="162.64" y="50.06" width="1.90" height="0.59" fill="#b2f09a"/>
<rect x="165.21" y="53.90" width="1.90" height="0.30" fill="#6c8282"/>
<rect x="165.21" y="53.31" width="1.90" height="0.59" fill="#fdb99c"/>
<rect x="167.77" y="53.61" width="1.90" height="0.59" fill="#fdb99c"/>
<rect x="167.77" y="53.31" width="1.90" height="0.30" fill="#c00000"/>
<rect x="170.34" y="53.61" width="1.90" height="0.59" fill="#6c8282"/>
<rect x="170.34" y="53.31" width="1.90" height="0.30" fill="#c00000"/>
<rect x="172.91" y="53.61" width="1.90" height="0.59" fill="#6c8282"/>
<rect x="172.91" y="52.72" width="1.90" height="0.89" fill="#000000"/>
<rect x="172.91" y="46.50" width="1.90" height="6.22" fill="#ffb300"/>
<rect x="172.91" y="46.21" width="1.90" height="0.30" fill="#fdb99c"/>
<rect x="175.48" y="53.31" width="1.90" height="0.89" fill="#6c8282"/>
<rect x="175.48" y="52.42" width="1.90" height="0.89" fill="#c00000"/>
<rect x="175.48" y="51.83" width="1.90" height="0.59" fill="#000000"/>
<rect x="178.04" y="52.72" width="1.90" height="1.48" fill="#6c8282"/>
<rect x="178.04" y="51.83" width="1.90" height="0.89" fill="#000000"/>
<rect x="178.04" y="48.58" width="1.90" height="3.26" fill="#ffb300"/>
<rect x="178.04" y="48.28" width="1.90" height="0.30" fill="#b2f09a"/>
<rect x="180.61" y="53.90" width="1.90" height="0.30" fill="#6c8282"/>
<rect x="180.61" y="53.61" width="1.90" height="0.30" fill="#b2f09a"/>
<rect x="183.18" y="53.90" width="1.90" height="0.30" fill="#6c8282"/>
<rect x="183.18" y="50.94" width="1.90" height="2.96" fill="#ffb300"/>
<rect x="185.74" y="53.90" width="1.90" height="0.30" fill="#6c8282"/>
<rect x="185.74" y="53.61" width="1.90" height="0.30" fill="#b2f09a"/>
<rect x="188.31" y="53.02" width="1.90" height="1.18" fill="#6c8282"/>
<rect x="188.31" y="52.13" width="1.90" height="0.89" fill="#000000"/>
<rect x="188.31" y="45.02" width="1.90" height="7.10" fill="#ffb300"/>
<rect x="188.31" y="44.43" width="1.90" height="0.59" fill="#b2f09a"/>
<rect x="190.88" y="53.02" width="1.90" height="1.18" fill="#6c8282"/>
<rect x="190.88" y="52.13" width="1.90" height="0.89" fill="#000000"/>
<rect x="190.88" y="49.46" width="1.90" height="2.66" fill="#ffb300"/>
<rect x="193.44" y="49.76" width="1.90" height="4.44" fill="#6c8282"/>
<rect x="193.44" y="48.58" width="1.90" height="1.18" fill="#c00000"/>
<rect x="193.44" y="45.02" width="1.90" height="3.55" fill="#ffb300"/>
<rect x="193.44" y="43.84" width="1.90" height="1.18" fill="#b2f09a"/>
<rect x="196.01" y="53.90" width="1.90" height="0.30" fill="#6c8282"/>
<rect x="198.58" y="53.31" width="1.90" height="0.89" fill="#6c8282"/>
<rect x="198.58" y="52.72" width="1.90" height="0.59" fill="#000000"/>
<rect x="198.58" y="51.54" width="1.90" height="1.18" fill="#ffb300"/>
<rect x="201.15" y="53.02" width="1.90" height="1.18" fill="#6c8282"/>
<rect x="201.15" y="52.13" width="1.90" height="0.89" fill="#1f78ff"/>
<rect x="201.15" y="51.54" width="1.90" height="0.59" fill="#000000"/>
<rect x="201.15" y="45.91" width="1.90" height="5.62" fill="#ffb300"/>
<rect x="203.71" y="53.02" width="1.90" height="1.18" fill="#6c8282"/>
<rect x="203.71" y="52.13" width="1.90" height="0.89" fill="#000000"/>
<rect x="203.71" y="39.10" width="1.90" height="13.02" fill="#ffb300"/>
<rect x="203.71" y="38.22" width="1.90" height="0.89" fill="#b2f09a"/>
<rect x="206.28" y="53.61" width="1.90" height="0.59" fill="#6c8282"/>
<rect x="206.28" y="53.02" width="1.90" height="0.59" fill="#000000"/>
<rect x="206.28" y="52.42" width="1.90" height="0.59" fill="#22ee11"/>
<rect x="208.85" y="53.02" width="1.90" height="1.18" fill="#6c8282"/>
<rect x="208.85" y="52.42" width="1.90" height="0.59" fill="#c00000"/>
<rect x="208.85" y="51.54" width="1.90" height="0.89" fill="#000000"/>
<rect x="208.85" y="26.08" width="1.90" height="25.46" fill="#ffb300"/>
<rect x="208.85" y="25.19" width="1.90" height="0.89" fill="#b2f09a"/>
<rect x="211.41" y="53.61" width="1.90" height="0.59" fill="#fdb99c"/>
<rect x="211.41" y="53.02" width="1.90" height="0.59" fill="#6c8282"/>
<rect x="213.98" y="53.61" width="1.90" height="0.59" fill="#6c8282"/>
<rect x="213.98" y="53.31" width="1.90" height="0.30" fill="#b2f09a"/>
<rect x="216.55" y="53.61" width="1.90" height="0.59" fill="#6c8282"/>
<rect x="216.55" y="53.02" width="1.90" height="0.59" fill="#b2f09a"/>
<rect x="219.11" y="53.61" width="1.90" height="0.59" fill="#6c8282"/>
<rect x="219.11" y="53.31" width="1.90" height="0.30" fill="#fdb99c"/>
<rect x="221.68" y="53.61" width="1.90" height="0.59" fill="#6c8282"/>
<rect x="221.68" y="53.31" width="1.90" height="0.30" fill="#b2f09a"/>
<rect x="224.25" y="53.61" width="1.90" height="0.59" fill="#6c8282"/>
<rect x="224.25" y="53.31" width="1.90" height="0.30" fill="#fdb99c"/>
<rect x="226.82" y="53.61" width="1.90" height="0.59" fill="#6c8282"/>
<rect x="226.82" y="52.72" width="1.90" height="0.89" fill="#c00000"/>
<rect x="226.82" y="51.83" width="1.90" height="0.89" fill="#ffb300"/>
<rect x="229.38" y="53.61" width="1.90" height="0.59" fill="#6c8282"/>
<rect x="229.38" y="53.31" width="1.90" height="0.30" fill="#b2f09a"/>
<rect x="231.95" y="53.90" width="1.90" height="0.30" fill="#6c8282"/>
<rect x="231.95" y="53.61" width="1.90" height="0.30" fill="#b2f09a"/>
<rect x="234.52" y="53.02" width="1.90" height="1.18" fill="#6c8282"/>
<rect x="234.52" y="52.42" width="1.90" height="0.59" fill="#22ee11"/>
<rect x="234.52" y="41.77" width="1.90" height="10.66" fill="#ffb300"/>
<rect x="234.52" y="40.88" width="1.90" height="0.89" fill="#b2f09a"/>
<rect x="237.08" y="53.90" width="1.90" height="0.30" fill="#6c8282"/>
<rect x="237.08" y="53.61" width="1.90" height="0.30" fill="#1f78ff"/>
<rect x="237.08" y="50.94" width="1.90" height="2.66" fill="#ffb300"/>
<rect x="239.65" y="53.61" width="1.90" height="0.59" fill="#fdb99c"/>
<rect x="244.78" y="53.61" width="1.90" height="0.59" fill="#6c8282"/>
<rect x="247.35" y="53.61" width="1.90" height="0.59" fill="#6c8282"/>
<text transform="translate(93.0,31.3) rotate(-90) scale(0.70,1)" font-size="7.5" text-anchor="middle" fill="#000" stroke="#000" stroke-width="0.06">N of mutations</text>
<text transform="translate(54.30,61.80) scale(0.710,1)" font-size="7.60" fill="#000" text-anchor="middle" font-weight="normal" font-style="normal" stroke="#000" stroke-width="0.14">N of mutations</text>
<text x="17.40" y="71.20" font-size="6.50" fill="#000" text-anchor="middle" font-weight="normal" font-style="normal" stroke="#000" stroke-width="0.2">50</text>
<text x="31.20" y="71.20" font-size="6.50" fill="#000" text-anchor="middle" font-weight="normal" font-style="normal" stroke="#000" stroke-width="0.2">40</text>
<text x="45.00" y="71.20" font-size="6.50" fill="#000" text-anchor="middle" font-weight="normal" font-style="normal" stroke="#000" stroke-width="0.2">30</text>
<text x="58.80" y="71.20" font-size="6.50" fill="#000" text-anchor="middle" font-weight="normal" font-style="normal" stroke="#000" stroke-width="0.2">20</text>
<text x="72.60" y="71.20" font-size="6.50" fill="#000" text-anchor="middle" font-weight="normal" font-style="normal" stroke="#000" stroke-width="0.2">10</text>
<text x="86.40" y="71.20" font-size="6.50" fill="#000" text-anchor="middle" font-weight="normal" font-style="normal" stroke="#000" stroke-width="0.2">0</text>
<line x1="17.00" y1="73.70" x2="86.90" y2="73.70" stroke="#cdd6d6" stroke-width="0.70"/>
<rect x="43.80" y="73.93" width="1.20" height="3.20" fill="#b2f09a"/>
<rect x="45.00" y="73.93" width="1.10" height="3.20" fill="#d9e6f8"/>
<rect x="46.10" y="73.93" width="2.90" height="3.20" fill="#22ee11"/>
<rect x="49.00" y="73.93" width="15.40" height="3.20" fill="#000000"/>
<rect x="64.40" y="73.93" width="15.40" height="3.20" fill="#c00000"/>
<rect x="79.80" y="73.93" width="7.10" height="3.20" fill="#a3b1b1"/>
<rect x="55.40" y="78.26" width="0.90" height="3.20" fill="#d9e6f8"/>
<rect x="56.30" y="78.26" width="2.80" height="3.20" fill="#22ee11"/>
<rect x="59.10" y="78.26" width="1.50" height="3.20" fill="#000000"/>
<rect x="60.60" y="78.26" width="2.60" height="3.20" fill="#c00000"/>
<rect x="63.20" y="78.26" width="23.70" height="3.20" fill="#a3b1b1"/>
<rect x="57.70" y="82.59" width="1.10" height="3.20" fill="#b2f09a"/>
<rect x="58.80" y="82.59" width="1.80" height="3.20" fill="#fdb99c"/>
<rect x="60.60" y="82.59" width="5.40" height="3.20" fill="#d9e6f8"/>
<rect x="66.00" y="82.59" width="3.00" height="3.20" fill="#000000"/>
<rect x="69.00" y="82.59" width="2.80" height="3.20" fill="#c00000"/>
<rect x="71.80" y="82.59" width="15.10" height="3.20" fill="#a3b1b1"/>
<rect x="55.10" y="86.92" width="8.00" height="3.20" fill="#b2f09a"/>
<rect x="63.10" y="86.92" width="1.70" height="3.20" fill="#1f78ff"/>
<rect x="64.80" y="86.92" width="22.10" height="3.20" fill="#a3b1b1"/>
<rect x="73.00" y="91.25" width="3.10" height="3.20" fill="#b2f09a"/>
<rect x="76.10" y="91.25" width="1.00" height="3.20" fill="#d9e6f8"/>
<rect x="77.10" y="91.25" width="2.70" height="3.20" fill="#c00000"/>
<rect x="79.80" y="91.25" width="7.10" height="3.20" fill="#a3b1b1"/>
<rect x="73.00" y="95.58" width="1.80" height="3.20" fill="#b2f09a"/>
<rect x="74.80" y="95.58" width="1.30" height="3.20" fill="#22ee11"/>
<rect x="76.10" y="95.58" width="3.70" height="3.20" fill="#000000"/>
<rect x="79.80" y="95.58" width="4.20" height="3.20" fill="#c00000"/>
<rect x="84.00" y="95.58" width="2.90" height="3.20" fill="#a3b1b1"/>
<rect x="67.80" y="99.91" width="9.50" height="3.20" fill="#b2f09a"/>
<rect x="77.30" y="99.91" width="2.50" height="3.20" fill="#22ee11"/>
<rect x="79.80" y="99.91" width="7.10" height="3.20" fill="#a3b1b1"/>
<rect x="74.20" y="104.24" width="9.80" height="3.20" fill="#000000"/>
<rect x="84.00" y="104.24" width="2.90" height="3.20" fill="#a3b1b1"/>
<rect x="74.80" y="108.57" width="1.30" height="3.20" fill="#b2f09a"/>
<rect x="76.10" y="108.57" width="3.70" height="3.20" fill="#fdb99c"/>
<rect x="79.80" y="108.57" width="5.30" height="3.20" fill="#000000"/>
<rect x="85.10" y="108.57" width="1.80" height="3.20" fill="#c00000"/>
<rect x="17.20" y="112.90" width="40.50" height="3.20" fill="#ffb300"/>
<rect x="57.70" y="112.90" width="0.80" height="3.20" fill="#d9e6f8"/>
<rect x="58.50" y="112.90" width="28.40" height="3.20" fill="#a3b1b1"/>
<rect x="17.20" y="117.23" width="44.50" height="3.20" fill="#ffb300"/>
<rect x="61.70" y="117.23" width="2.90" height="3.20" fill="#22ee11"/>
<rect x="64.60" y="117.23" width="4.40" height="3.20" fill="#000000"/>
<rect x="69.00" y="117.23" width="2.80" height="3.20" fill="#c00000"/>
<rect x="71.80" y="117.23" width="15.10" height="3.20" fill="#a3b1b1"/>
<rect x="74.40" y="121.56" width="1.70" height="3.20" fill="#000000"/>
<rect x="76.10" y="121.56" width="1.20" height="3.20" fill="#c00000"/>
<rect x="77.30" y="121.56" width="9.60" height="3.20" fill="#a3b1b1"/>
<rect x="77.10" y="125.89" width="1.30" height="3.20" fill="#b2f09a"/>
<rect x="78.40" y="125.89" width="8.50" height="3.20" fill="#a3b1b1"/>
<rect x="63.20" y="130.22" width="8.60" height="3.20" fill="#b2f09a"/>
<rect x="71.80" y="130.22" width="3.80" height="3.20" fill="#ffb300"/>
<rect x="75.60" y="130.22" width="1.70" height="3.20" fill="#c00000"/>
<rect x="77.30" y="130.22" width="9.60" height="3.20" fill="#a3b1b1"/>
<rect x="69.00" y="134.55" width="12.30" height="3.20" fill="#ffb300"/>
<rect x="81.30" y="134.55" width="1.50" height="3.20" fill="#22ee11"/>
<rect x="82.80" y="134.55" width="4.10" height="3.20" fill="#a3b1b1"/>
<rect x="43.80" y="138.88" width="42.10" height="3.20" fill="#ffb300"/>
<rect x="85.90" y="138.88" width="1.00" height="3.20" fill="#d9e6f8"/>
<rect x="70.10" y="143.21" width="16.80" height="3.20" fill="#ffb300"/>
<rect x="78.40" y="147.54" width="1.40" height="3.20" fill="#000000"/>
<rect x="79.80" y="147.54" width="4.20" height="3.20" fill="#c00000"/>
<rect x="84.00" y="147.54" width="2.90" height="3.20" fill="#a3b1b1"/>
<rect x="78.40" y="151.87" width="1.40" height="3.20" fill="#4a0cff"/>
<rect x="79.80" y="151.87" width="1.90" height="3.20" fill="#c00000"/>
<rect x="81.70" y="151.87" width="5.20" height="3.20" fill="#a3b1b1"/>
<rect x="77.10" y="156.20" width="1.30" height="3.20" fill="#ffb300"/>
<rect x="78.40" y="156.20" width="8.50" height="3.20" fill="#a3b1b1"/>
<rect x="75.90" y="160.53" width="1.40" height="3.20" fill="#b2f09a"/>
<rect x="77.30" y="160.53" width="1.10" height="3.20" fill="#d9e6f8"/>
<rect x="78.40" y="160.53" width="1.40" height="3.20" fill="#000000"/>
<rect x="79.80" y="160.53" width="7.10" height="3.20" fill="#a3b1b1"/>
<rect x="75.90" y="164.86" width="1.40" height="3.20" fill="#b2f09a"/>
<rect x="77.30" y="164.86" width="1.10" height="3.20" fill="#d9e6f8"/>
<rect x="78.40" y="164.86" width="2.30" height="3.20" fill="#000000"/>
<rect x="80.70" y="164.86" width="3.30" height="3.20" fill="#c00000"/>
<rect x="84.00" y="164.86" width="2.90" height="3.20" fill="#a3b1b1"/>
<rect x="77.10" y="169.19" width="2.70" height="3.20" fill="#b2f09a"/>
<rect x="79.80" y="169.19" width="7.10" height="3.20" fill="#a3b1b1"/>
<rect x="80.20" y="173.52" width="2.30" height="3.20" fill="#b2f09a"/>
<rect x="82.50" y="173.52" width="2.90" height="3.20" fill="#000000"/>
<rect x="85.40" y="173.52" width="1.50" height="3.20" fill="#a3b1b1"/>
<rect x="72.90" y="177.85" width="4.20" height="3.20" fill="#b2f09a"/>
<rect x="77.10" y="177.85" width="2.70" height="3.20" fill="#ffb300"/>
<rect x="79.80" y="177.85" width="7.10" height="3.20" fill="#a3b1b1"/>
<rect x="77.10" y="182.18" width="9.80" height="3.20" fill="#ffb300"/>
<rect x="67.50" y="186.51" width="19.40" height="3.20" fill="#ffb300"/>
<rect x="78.40" y="190.84" width="4.10" height="3.20" fill="#000000"/>
<rect x="82.50" y="190.84" width="1.70" height="3.20" fill="#c00000"/>
<rect x="84.20" y="190.84" width="2.70" height="3.20" fill="#a3b1b1"/>
<rect x="79.80" y="195.17" width="1.50" height="3.20" fill="#000000"/>
<rect x="81.30" y="195.17" width="1.50" height="3.20" fill="#c00000"/>
<rect x="82.80" y="195.17" width="4.10" height="3.20" fill="#a3b1b1"/>
<rect x="79.80" y="199.50" width="7.10" height="3.20" fill="#a3b1b1"/>
<rect x="74.40" y="203.83" width="2.70" height="3.20" fill="#b2f09a"/>
<rect x="77.10" y="203.83" width="5.70" height="3.20" fill="#ffb300"/>
<rect x="82.80" y="203.83" width="4.10" height="3.20" fill="#a3b1b1"/>
<rect x="77.10" y="208.16" width="2.70" height="3.20" fill="#b2f09a"/>
<rect x="79.80" y="208.16" width="1.50" height="3.20" fill="#c00000"/>
<rect x="81.30" y="208.16" width="5.60" height="3.20" fill="#a3b1b1"/>
<rect x="77.10" y="212.49" width="2.70" height="3.20" fill="#b2f09a"/>
<rect x="79.80" y="212.49" width="7.10" height="3.20" fill="#a3b1b1"/>
<rect x="79.80" y="216.82" width="1.50" height="3.20" fill="#b2f09a"/>
<rect x="81.30" y="216.82" width="5.60" height="3.20" fill="#a3b1b1"/>
<rect x="81.30" y="221.15" width="2.70" height="3.20" fill="#000000"/>
<rect x="84.00" y="221.15" width="2.90" height="3.20" fill="#a3b1b1"/>
<rect x="79.80" y="225.48" width="4.20" height="3.20" fill="#1f78ff"/>
<rect x="84.00" y="225.48" width="2.90" height="3.20" fill="#a3b1b1"/>
<rect x="79.80" y="229.81" width="1.50" height="3.20" fill="#22ee11"/>
<rect x="81.30" y="229.81" width="5.60" height="3.20" fill="#a3b1b1"/>
<rect x="81.30" y="234.14" width="1.50" height="3.20" fill="#c00000"/>
<rect x="82.80" y="234.14" width="4.10" height="3.20" fill="#a3b1b1"/>
<rect x="81.90" y="238.47" width="2.10" height="3.20" fill="#22ee11"/>
<rect x="84.00" y="238.47" width="2.90" height="3.20" fill="#a3b1b1"/>
<rect x="81.70" y="242.80" width="1.10" height="3.20" fill="#b2f09a"/>
<rect x="82.80" y="242.80" width="4.10" height="3.20" fill="#a3b1b1"/>
<rect x="79.80" y="247.13" width="4.20" height="3.20" fill="#ffb300"/>
<rect x="84.00" y="247.13" width="2.90" height="3.20" fill="#a3b1b1"/>
<rect x="71.50" y="251.46" width="15.40" height="3.20" fill="#ffb300"/>
<rect x="81.70" y="255.79" width="5.20" height="3.20" fill="#ffb300"/>
<text x="14.40" y="116.70" font-size="5.90" fill="#000" text-anchor="end" font-weight="normal" font-style="normal" stroke="#000" stroke-width="0.15">98</text>
<text x="14.40" y="121.80" font-size="5.90" fill="#000" text-anchor="end" font-weight="normal" font-style="normal" stroke="#000" stroke-width="0.15">508</text>
<text x="108.90" y="71.60" font-size="4.20" fill="#80868c" text-anchor="end" font-weight="normal" font-style="normal">COO</text>
<text transform="translate(108.90,76.03) scale(0.930,1)" font-size="4.10" fill="#33393f" text-anchor="end" font-weight="normal" font-style="italic">KMT2D</text>
<text transform="translate(108.90,80.36) scale(0.930,1)" font-size="4.10" fill="#33393f" text-anchor="end" font-weight="normal" font-style="italic">TP53</text>
<text transform="translate(108.90,84.69) scale(0.930,1)" font-size="4.10" fill="#33393f" text-anchor="end" font-weight="normal" font-style="italic">CREBBP</text>
<text transform="translate(108.90,89.02) scale(0.930,1)" font-size="4.10" fill="#33393f" text-anchor="end" font-weight="normal" font-style="italic">HIST1H1E</text>
<text transform="translate(108.90,93.35) scale(0.930,1)" font-size="4.10" fill="#33393f" text-anchor="end" font-weight="normal" font-style="italic">MGA</text>
<text transform="translate(108.90,97.68) scale(0.930,1)" font-size="4.10" fill="#33393f" text-anchor="end" font-weight="normal" font-style="italic">ARID1A</text>
<text transform="translate(108.90,102.01) scale(0.930,1)" font-size="4.10" fill="#33393f" text-anchor="end" font-weight="normal" font-style="italic">BTG1</text>
<text transform="translate(108.90,106.34) scale(0.930,1)" font-size="4.10" fill="#33393f" text-anchor="end" font-weight="normal" font-style="italic">TNFAIP3</text>
<text transform="translate(108.90,110.67) scale(0.930,1)" font-size="4.10" fill="#33393f" text-anchor="end" font-weight="normal" font-style="italic">NOTCH1</text>
<text transform="translate(108.90,115.00) scale(0.930,1)" font-size="4.10" fill="#33393f" text-anchor="end" font-weight="normal" font-style="italic">BCL2</text>
<text transform="translate(108.90,119.33) scale(0.930,1)" font-size="4.10" fill="#33393f" text-anchor="end" font-weight="normal" font-style="italic">IGLL5</text>
<text transform="translate(108.90,123.66) scale(0.930,1)" font-size="4.10" fill="#33393f" text-anchor="end" font-weight="normal" font-style="italic">EP300</text>
<text transform="translate(108.90,127.99) scale(0.930,1)" font-size="4.10" fill="#33393f" text-anchor="end" font-weight="normal" font-style="italic">EZH2</text>
<text transform="translate(108.90,132.32) scale(0.930,1)" font-size="4.10" fill="#33393f" text-anchor="end" font-weight="normal" font-style="italic">PIM1</text>
<text transform="translate(108.90,136.65) scale(0.930,1)" font-size="4.10" fill="#33393f" text-anchor="end" font-weight="normal" font-style="italic">PAX5</text>
<text transform="translate(108.90,140.98) scale(0.930,1)" font-size="4.10" fill="#33393f" text-anchor="end" font-weight="normal" font-style="italic">BCL6</text>
<text transform="translate(108.90,145.31) scale(0.930,1)" font-size="4.10" fill="#33393f" text-anchor="end" font-weight="normal" font-style="italic">BACH2</text>
<text transform="translate(108.90,149.64) scale(0.930,1)" font-size="4.10" fill="#33393f" text-anchor="end" font-weight="normal" font-style="italic">TNFRSF14</text>
<text transform="translate(108.90,153.97) scale(0.930,1)" font-size="4.10" fill="#33393f" text-anchor="end" font-weight="normal" font-style="italic">MEF2B</text>
<text transform="translate(108.90,158.30) scale(0.930,1)" font-size="4.10" fill="#33393f" text-anchor="end" font-weight="normal" font-style="italic">STAT6</text>
<text transform="translate(108.90,162.63) scale(0.930,1)" font-size="4.10" fill="#33393f" text-anchor="end" font-weight="normal" font-style="italic">HIST1H1C</text>
<text transform="translate(108.90,166.96) scale(0.930,1)" font-size="4.10" fill="#33393f" text-anchor="end" font-weight="normal" font-style="italic">ASXL1</text>
<text transform="translate(108.90,171.29) scale(0.930,1)" font-size="4.10" fill="#33393f" text-anchor="end" font-weight="normal" font-style="italic">CIITA</text>
<text transform="translate(108.90,175.62) scale(0.930,1)" font-size="4.10" fill="#33393f" text-anchor="end" font-weight="normal" font-style="italic">SPEN</text>
<text transform="translate(108.90,179.95) scale(0.930,1)" font-size="4.10" fill="#33393f" text-anchor="end" font-weight="normal" font-style="italic">MYC</text>
<text transform="translate(108.90,184.28) scale(0.930,1)" font-size="4.10" fill="#33393f" text-anchor="end" font-weight="normal" font-style="italic">CD83</text>
<text transform="translate(108.90,188.61) scale(0.930,1)" font-size="4.10" fill="#33393f" text-anchor="end" font-weight="normal" font-style="italic">NCOA3</text>
<text transform="translate(108.90,192.94) scale(0.930,1)" font-size="4.10" fill="#33393f" text-anchor="end" font-weight="normal" font-style="italic">ZNF292</text>
<text transform="translate(108.90,197.27) scale(0.930,1)" font-size="4.10" fill="#33393f" text-anchor="end" font-weight="normal" font-style="italic">ATM</text>
<text transform="translate(108.90,201.60) scale(0.930,1)" font-size="4.10" fill="#33393f" text-anchor="end" font-weight="normal" font-style="italic">CARD11</text>
<text transform="translate(108.90,205.93) scale(0.930,1)" font-size="4.10" fill="#33393f" text-anchor="end" font-weight="normal" font-style="italic">SOCS1</text>
<text transform="translate(108.90,210.26) scale(0.930,1)" font-size="4.10" fill="#33393f" text-anchor="end" font-weight="normal" font-style="italic">PTPRD</text>
<text transform="translate(108.90,214.59) scale(0.930,1)" font-size="4.10" fill="#33393f" text-anchor="end" font-weight="normal" font-style="italic">KLHL6</text>
<text transform="translate(108.90,218.92) scale(0.930,1)" font-size="4.10" fill="#33393f" text-anchor="end" font-weight="normal" font-style="italic">XPO1</text>
<text transform="translate(108.90,223.25) scale(0.930,1)" font-size="4.10" fill="#33393f" text-anchor="end" font-weight="normal" font-style="italic">CD70</text>
<text transform="translate(108.90,227.58) scale(0.930,1)" font-size="4.10" fill="#33393f" text-anchor="end" font-weight="normal" font-style="italic">IRF8</text>
<text transform="translate(108.90,231.91) scale(0.930,1)" font-size="4.10" fill="#33393f" text-anchor="end" font-weight="normal" font-style="italic">DDX3X</text>
<text transform="translate(108.90,236.24) scale(0.930,1)" font-size="4.10" fill="#33393f" text-anchor="end" font-weight="normal" font-style="italic">IKZF3</text>
<text transform="translate(108.90,240.57) scale(0.930,1)" font-size="4.10" fill="#33393f" text-anchor="end" font-weight="normal" font-style="italic">SF3B1</text>
<text transform="translate(108.90,244.90) scale(0.930,1)" font-size="4.10" fill="#33393f" text-anchor="end" font-weight="normal" font-style="italic">FOXO1</text>
<text transform="translate(108.90,249.23) scale(0.930,1)" font-size="4.10" fill="#33393f" text-anchor="end" font-weight="normal" font-style="italic">SGK1</text>
<text transform="translate(108.90,253.56) scale(0.930,1)" font-size="4.10" fill="#33393f" text-anchor="end" font-weight="normal" font-style="italic">RHOH-TTF</text>
<text transform="translate(108.90,257.89) scale(0.930,1)" font-size="4.10" fill="#33393f" text-anchor="end" font-weight="normal" font-style="italic">TCL1A</text>
<text transform="translate(399.60,37.00) scale(0.740,1)" font-size="8.60" fill="#000" text-anchor="middle" font-weight="normal" font-style="normal" stroke="#000" stroke-width="0.12">% mutated samples</text>
<path d="M290.3,47.6 V45.5 H508.6 V47.6 M399.6,45.5 V41.4" fill="none" stroke="#333" stroke-width="0.7"/>
<text x="311.50" y="54.80" font-size="6.00" fill="#111" text-anchor="middle" font-weight="bold" font-style="normal">All</text>
<line x1="292.10" y1="72.60" x2="337.70" y2="72.60" stroke="#c9dada" stroke-width="0.70"/>
<line x1="292.10" y1="72.20" x2="292.10" y2="73.20" stroke="#b0c0c0" stroke-width="0.40"/>
<text transform="translate(293.70,70.2) rotate(-90)" font-size="4.9" fill="#111" font-weight="bold">0%</text>
<line x1="307.30" y1="72.20" x2="307.30" y2="73.20" stroke="#b0c0c0" stroke-width="0.40"/>
<text transform="translate(308.90,70.2) rotate(-90)" font-size="4.9" fill="#111" font-weight="bold">10%</text>
<line x1="322.50" y1="72.20" x2="322.50" y2="73.20" stroke="#b0c0c0" stroke-width="0.40"/>
<text transform="translate(324.10,70.2) rotate(-90)" font-size="4.9" fill="#111" font-weight="bold">20%</text>
<line x1="337.70" y1="72.20" x2="337.70" y2="73.20" stroke="#b0c0c0" stroke-width="0.40"/>
<text transform="translate(339.30,70.2) rotate(-90)" font-size="4.9" fill="#111" font-weight="bold">30%</text>
<rect x="292.10" y="73.93" width="43.10" height="3.30" fill="#c00000"/>
<rect x="292.10" y="78.26" width="38.57" height="3.30" fill="#c00000"/>
<rect x="292.10" y="82.59" width="38.57" height="3.30" fill="#c00000"/>
<rect x="292.10" y="86.92" width="36.30" height="3.30" fill="#c00000"/>
<rect x="292.10" y="91.25" width="22.69" height="3.30" fill="#c00000"/>
<rect x="292.10" y="95.58" width="20.42" height="3.30" fill="#c00000"/>
<rect x="292.10" y="99.91" width="20.42" height="3.30" fill="#c00000"/>
<rect x="292.10" y="104.24" width="18.15" height="3.30" fill="#c00000"/>
<rect x="292.10" y="108.57" width="18.15" height="3.30" fill="#c00000"/>
<rect x="292.10" y="112.90" width="36.30" height="3.30" fill="#c00000"/>
<rect x="292.10" y="117.23" width="46.50" height="3.30" fill="#c00000"/>
<rect x="292.10" y="121.56" width="15.88" height="3.30" fill="#c00000"/>
<rect x="292.10" y="125.89" width="15.88" height="3.30" fill="#c00000"/>
<rect x="292.10" y="130.22" width="15.88" height="3.30" fill="#c00000"/>
<rect x="292.10" y="134.55" width="15.88" height="3.30" fill="#c00000"/>
<rect x="292.10" y="138.88" width="15.88" height="3.30" fill="#c00000"/>
<rect x="292.10" y="143.21" width="15.88" height="3.30" fill="#c00000"/>
<rect x="292.10" y="147.54" width="13.61" height="3.30" fill="#c00000"/>
<rect x="292.10" y="151.87" width="13.61" height="3.30" fill="#c00000"/>
<rect x="292.10" y="156.20" width="13.61" height="3.30" fill="#c00000"/>
<rect x="292.10" y="160.53" width="13.61" height="3.30" fill="#c00000"/>
<rect x="292.10" y="164.86" width="13.61" height="3.30" fill="#c00000"/>
<rect x="292.10" y="169.19" width="13.61" height="3.30" fill="#c00000"/>
<rect x="292.10" y="173.52" width="13.61" height="3.30" fill="#c00000"/>
<rect x="292.10" y="177.85" width="13.61" height="3.30" fill="#c00000"/>
<rect x="292.10" y="182.18" width="13.61" height="3.30" fill="#c00000"/>
<rect x="292.10" y="186.51" width="13.61" height="3.30" fill="#c00000"/>
<rect x="292.10" y="190.84" width="11.34" height="3.30" fill="#c00000"/>
<rect x="292.10" y="195.17" width="11.34" height="3.30" fill="#c00000"/>
<rect x="292.10" y="199.50" width="11.34" height="3.30" fill="#c00000"/>
<rect x="292.10" y="203.83" width="11.34" height="3.30" fill="#c00000"/>
<rect x="292.10" y="208.16" width="9.07" height="3.30" fill="#c00000"/>
<rect x="292.10" y="212.49" width="9.07" height="3.30" fill="#c00000"/>
<rect x="292.10" y="216.82" width="9.07" height="3.30" fill="#c00000"/>
<rect x="292.10" y="221.15" width="9.07" height="3.30" fill="#c00000"/>
<rect x="292.10" y="225.48" width="9.07" height="3.30" fill="#c00000"/>
<rect x="292.10" y="229.81" width="9.07" height="3.30" fill="#c00000"/>
<rect x="292.10" y="234.14" width="9.07" height="3.30" fill="#c00000"/>
<rect x="292.10" y="238.47" width="9.07" height="3.30" fill="#c00000"/>
<rect x="292.10" y="242.80" width="9.07" height="3.30" fill="#c00000"/>
<rect x="292.10" y="247.13" width="9.07" height="3.30" fill="#c00000"/>
<rect x="292.10" y="251.46" width="9.07" height="3.30" fill="#c00000"/>
<rect x="292.10" y="255.79" width="9.07" height="3.30" fill="#c00000"/>
<text x="374.60" y="54.80" font-size="6.00" fill="#111" text-anchor="middle" font-weight="bold" font-style="normal">FL</text>
<line x1="349.00" y1="72.60" x2="395.80" y2="72.60" stroke="#c9dada" stroke-width="0.70"/>
<line x1="349.00" y1="72.20" x2="349.00" y2="73.20" stroke="#b0c0c0" stroke-width="0.40"/>
<text transform="translate(350.60,70.2) rotate(-90)" font-size="4.9" fill="#111" font-weight="bold">0%</text>
<line x1="358.36" y1="72.20" x2="358.36" y2="73.20" stroke="#b0c0c0" stroke-width="0.40"/>
<text transform="translate(359.96,70.2) rotate(-90)" font-size="4.9" fill="#111" font-weight="bold">10%</text>
<line x1="367.72" y1="72.20" x2="367.72" y2="73.20" stroke="#b0c0c0" stroke-width="0.40"/>
<text transform="translate(369.32,70.2) rotate(-90)" font-size="4.9" fill="#111" font-weight="bold">20%</text>
<line x1="377.08" y1="72.20" x2="377.08" y2="73.20" stroke="#b0c0c0" stroke-width="0.40"/>
<text transform="translate(378.68,70.2) rotate(-90)" font-size="4.9" fill="#111" font-weight="bold">30%</text>
<line x1="386.44" y1="72.20" x2="386.44" y2="73.20" stroke="#b0c0c0" stroke-width="0.40"/>
<text transform="translate(388.04,70.2) rotate(-90)" font-size="4.9" fill="#111" font-weight="bold">40%</text>
<line x1="395.80" y1="72.20" x2="395.80" y2="73.20" stroke="#b0c0c0" stroke-width="0.40"/>
<text transform="translate(397.40,70.2) rotate(-90)" font-size="4.9" fill="#111" font-weight="bold">50%</text>
<rect x="349.00" y="73.93" width="42.90" height="3.30" fill="#5ef58a"/>
<rect x="349.00" y="78.26" width="15.60" height="3.30" fill="#5ef58a"/>
<rect x="349.00" y="82.59" width="46.80" height="3.30" fill="#5ef58a"/>
<rect x="349.00" y="86.92" width="15.60" height="3.30" fill="#5ef58a"/>
<rect x="349.00" y="91.25" width="7.80" height="3.30" fill="#5ef58a"/>
<rect x="349.00" y="95.58" width="19.50" height="3.30" fill="#5ef58a"/>
<rect x="349.00" y="99.91" width="11.70" height="3.30" fill="#5ef58a"/>
<rect x="349.00" y="104.24" width="19.50" height="3.30" fill="#5ef58a"/>
<rect x="349.00" y="108.57" width="3.90" height="3.30" fill="#5ef58a"/>
<rect x="349.00" y="112.90" width="39.00" height="3.30" fill="#5ef58a"/>
<rect x="349.00" y="117.23" width="35.10" height="3.30" fill="#5ef58a"/>
<rect x="349.00" y="121.56" width="7.80" height="3.30" fill="#5ef58a"/>
<rect x="349.00" y="125.89" width="7.80" height="3.30" fill="#5ef58a"/>
<rect x="349.00" y="130.22" width="15.60" height="3.30" fill="#5ef58a"/>
<rect x="349.00" y="134.55" width="3.90" height="3.30" fill="#5ef58a"/>
<rect x="349.00" y="138.88" width="23.40" height="3.30" fill="#5ef58a"/>
<rect x="349.00" y="143.21" width="15.60" height="3.30" fill="#5ef58a"/>
<rect x="349.00" y="147.54" width="11.70" height="3.30" fill="#5ef58a"/>
<rect x="349.00" y="151.87" width="3.90" height="3.30" fill="#5ef58a"/>
<rect x="349.00" y="156.20" width="15.60" height="3.30" fill="#5ef58a"/>
<rect x="349.00" y="164.86" width="7.80" height="3.30" fill="#5ef58a"/>
<rect x="349.00" y="169.19" width="3.90" height="3.30" fill="#5ef58a"/>
<rect x="349.00" y="173.52" width="11.70" height="3.30" fill="#5ef58a"/>
<rect x="349.00" y="177.85" width="3.90" height="3.30" fill="#5ef58a"/>
<rect x="349.00" y="182.18" width="7.80" height="3.30" fill="#5ef58a"/>
<rect x="349.00" y="186.51" width="7.80" height="3.30" fill="#5ef58a"/>
<rect x="349.00" y="190.84" width="3.90" height="3.30" fill="#5ef58a"/>
<rect x="349.00" y="195.17" width="3.90" height="3.30" fill="#5ef58a"/>
<rect x="349.00" y="199.50" width="3.90" height="3.30" fill="#5ef58a"/>
<rect x="349.00" y="203.83" width="7.80" height="3.30" fill="#5ef58a"/>
<rect x="349.00" y="208.16" width="7.80" height="3.30" fill="#5ef58a"/>
<rect x="349.00" y="212.49" width="3.90" height="3.30" fill="#5ef58a"/>
<rect x="349.00" y="221.15" width="3.90" height="3.30" fill="#5ef58a"/>
<rect x="349.00" y="225.48" width="3.90" height="3.30" fill="#5ef58a"/>
<rect x="349.00" y="234.14" width="3.90" height="3.30" fill="#5ef58a"/>
<rect x="349.00" y="242.80" width="3.90" height="3.30" fill="#5ef58a"/>
<rect x="349.00" y="247.13" width="3.90" height="3.30" fill="#5ef58a"/>
<rect x="349.00" y="251.46" width="15.60" height="3.30" fill="#5ef58a"/>
<rect x="349.00" y="255.79" width="11.70" height="3.30" fill="#5ef58a"/>
<text x="429.00" y="54.80" font-size="6.00" fill="#111" text-anchor="middle" font-weight="bold" font-style="normal">DLBCL</text>
<line x1="405.00" y1="72.60" x2="451.00" y2="72.60" stroke="#c9dada" stroke-width="0.70"/>
<line x1="405.00" y1="72.20" x2="405.00" y2="73.20" stroke="#b0c0c0" stroke-width="0.40"/>
<text transform="translate(406.60,70.2) rotate(-90)" font-size="4.9" fill="#111" font-weight="bold">0%</text>
<line x1="416.50" y1="72.20" x2="416.50" y2="73.20" stroke="#b0c0c0" stroke-width="0.40"/>
<text transform="translate(418.10,70.2) rotate(-90)" font-size="4.9" fill="#111" font-weight="bold">10%</text>
<line x1="428.00" y1="72.20" x2="428.00" y2="73.20" stroke="#b0c0c0" stroke-width="0.40"/>
<text transform="translate(429.60,70.2) rotate(-90)" font-size="4.9" fill="#111" font-weight="bold">20%</text>
<line x1="439.50" y1="72.20" x2="439.50" y2="73.20" stroke="#b0c0c0" stroke-width="0.40"/>
<text transform="translate(441.10,70.2) rotate(-90)" font-size="4.9" fill="#111" font-weight="bold">30%</text>
<line x1="451.00" y1="72.20" x2="451.00" y2="73.20" stroke="#b0c0c0" stroke-width="0.40"/>
<text transform="translate(452.60,70.2) rotate(-90)" font-size="4.9" fill="#111" font-weight="bold">40%</text>
<rect x="405.00" y="73.93" width="32.86" height="3.30" fill="#4f14f8"/>
<rect x="405.00" y="78.26" width="24.64" height="3.30" fill="#4f14f8"/>
<rect x="405.00" y="82.59" width="16.43" height="3.30" fill="#4f14f8"/>
<rect x="405.00" y="86.92" width="32.86" height="3.30" fill="#4f14f8"/>
<rect x="405.00" y="91.25" width="20.54" height="3.30" fill="#4f14f8"/>
<rect x="405.00" y="95.58" width="12.32" height="3.30" fill="#4f14f8"/>
<rect x="405.00" y="99.91" width="24.64" height="3.30" fill="#4f14f8"/>
<rect x="405.00" y="104.24" width="12.32" height="3.30" fill="#4f14f8"/>
<rect x="405.00" y="112.90" width="24.64" height="3.30" fill="#4f14f8"/>
<rect x="405.00" y="117.23" width="46.41" height="3.30" fill="#4f14f8"/>
<rect x="405.00" y="121.56" width="16.43" height="3.30" fill="#4f14f8"/>
<rect x="405.00" y="125.89" width="16.43" height="3.30" fill="#4f14f8"/>
<rect x="405.00" y="130.22" width="12.32" height="3.30" fill="#4f14f8"/>
<rect x="405.00" y="134.55" width="12.32" height="3.30" fill="#4f14f8"/>
<rect x="405.00" y="138.88" width="4.11" height="3.30" fill="#4f14f8"/>
<rect x="405.00" y="143.21" width="12.32" height="3.30" fill="#4f14f8"/>
<rect x="405.00" y="147.54" width="12.32" height="3.30" fill="#4f14f8"/>
<rect x="405.00" y="151.87" width="20.54" height="3.30" fill="#4f14f8"/>
<rect x="405.00" y="156.20" width="8.21" height="3.30" fill="#4f14f8"/>
<rect x="405.00" y="160.53" width="24.64" height="3.30" fill="#4f14f8"/>
<rect x="405.00" y="164.86" width="8.21" height="3.30" fill="#4f14f8"/>
<rect x="405.00" y="169.19" width="16.43" height="3.30" fill="#4f14f8"/>
<rect x="405.00" y="173.52" width="8.21" height="3.30" fill="#4f14f8"/>
<rect x="405.00" y="177.85" width="16.43" height="3.30" fill="#4f14f8"/>
<rect x="405.00" y="182.18" width="16.43" height="3.30" fill="#4f14f8"/>
<rect x="405.00" y="186.51" width="16.43" height="3.30" fill="#4f14f8"/>
<rect x="405.00" y="190.84" width="16.43" height="3.30" fill="#4f14f8"/>
<rect x="405.00" y="195.17" width="8.21" height="3.30" fill="#4f14f8"/>
<rect x="405.00" y="199.50" width="16.43" height="3.30" fill="#4f14f8"/>
<rect x="405.00" y="203.83" width="12.32" height="3.30" fill="#4f14f8"/>
<rect x="405.00" y="208.16" width="8.21" height="3.30" fill="#4f14f8"/>
<rect x="405.00" y="212.49" width="8.21" height="3.30" fill="#4f14f8"/>
<rect x="405.00" y="216.82" width="12.32" height="3.30" fill="#4f14f8"/>
<rect x="405.00" y="221.15" width="12.32" height="3.30" fill="#4f14f8"/>
<rect x="405.00" y="225.48" width="8.21" height="3.30" fill="#4f14f8"/>
<rect x="405.00" y="229.81" width="12.32" height="3.30" fill="#4f14f8"/>
<rect x="405.00" y="234.14" width="8.21" height="3.30" fill="#4f14f8"/>
<rect x="405.00" y="242.80" width="8.21" height="3.30" fill="#4f14f8"/>
<rect x="405.00" y="247.13" width="12.32" height="3.30" fill="#4f14f8"/>
<rect x="405.00" y="255.79" width="4.11" height="3.30" fill="#4f14f8"/>
<text x="484.60" y="54.80" font-size="6.00" fill="#111" text-anchor="middle" font-weight="bold" font-style="normal">RS</text>
<line x1="462.20" y1="72.60" x2="508.45" y2="72.60" stroke="#c9dada" stroke-width="0.70"/>
<line x1="462.20" y1="72.20" x2="462.20" y2="73.20" stroke="#b0c0c0" stroke-width="0.40"/>
<text transform="translate(463.80,70.2) rotate(-90)" font-size="4.9" fill="#111" font-weight="bold">0%</text>
<line x1="471.45" y1="72.20" x2="471.45" y2="73.20" stroke="#b0c0c0" stroke-width="0.40"/>
<text transform="translate(473.05,70.2) rotate(-90)" font-size="4.9" fill="#111" font-weight="bold">10%</text>
<line x1="480.70" y1="72.20" x2="480.70" y2="73.20" stroke="#b0c0c0" stroke-width="0.40"/>
<text transform="translate(482.30,70.2) rotate(-90)" font-size="4.9" fill="#111" font-weight="bold">20%</text>
<line x1="489.95" y1="72.20" x2="489.95" y2="73.20" stroke="#b0c0c0" stroke-width="0.40"/>
<text transform="translate(491.55,70.2) rotate(-90)" font-size="4.9" fill="#111" font-weight="bold">30%</text>
<line x1="499.20" y1="72.20" x2="499.20" y2="73.20" stroke="#b0c0c0" stroke-width="0.40"/>
<text transform="translate(500.80,70.2) rotate(-90)" font-size="4.9" fill="#111" font-weight="bold">40%</text>
<line x1="508.45" y1="72.20" x2="508.45" y2="73.20" stroke="#b0c0c0" stroke-width="0.40"/>
<text transform="translate(510.05,70.2) rotate(-90)" font-size="4.9" fill="#111" font-weight="bold">50%</text>
<rect x="462.20" y="78.26" width="43.17" height="3.30" fill="#fbe27c"/>
<rect x="462.20" y="82.59" width="6.17" height="3.30" fill="#fbe27c"/>
<rect x="462.20" y="86.92" width="24.67" height="3.30" fill="#fbe27c"/>
<rect x="462.20" y="91.25" width="18.50" height="3.30" fill="#fbe27c"/>
<rect x="462.20" y="95.58" width="6.17" height="3.30" fill="#fbe27c"/>
<rect x="462.20" y="108.57" width="43.17" height="3.30" fill="#fbe27c"/>
<rect x="462.20" y="117.23" width="37.00" height="3.30" fill="#fbe27c"/>
<rect x="462.20" y="121.56" width="6.17" height="3.30" fill="#fbe27c"/>
<rect x="462.20" y="125.89" width="6.17" height="3.30" fill="#fbe27c"/>
<rect x="462.20" y="134.55" width="18.50" height="3.30" fill="#fbe27c"/>
<rect x="462.20" y="164.86" width="12.33" height="3.30" fill="#fbe27c"/>
<rect x="462.20" y="169.19" width="6.17" height="3.30" fill="#fbe27c"/>
<rect x="462.20" y="173.52" width="6.17" height="3.30" fill="#fbe27c"/>
<rect x="462.20" y="177.85" width="6.17" height="3.30" fill="#fbe27c"/>
<rect x="462.20" y="195.17" width="12.33" height="3.30" fill="#fbe27c"/>
<rect x="462.20" y="212.49" width="6.17" height="3.30" fill="#fbe27c"/>
<rect x="462.20" y="216.82" width="6.17" height="3.30" fill="#fbe27c"/>
<rect x="462.20" y="225.48" width="6.17" height="3.30" fill="#fbe27c"/>
<rect x="462.20" y="229.81" width="6.17" height="3.30" fill="#fbe27c"/>
<rect x="462.20" y="234.14" width="6.17" height="3.30" fill="#fbe27c"/>
<rect x="462.20" y="238.47" width="24.67" height="3.30" fill="#fbe27c"/>
<rect x="462.20" y="242.80" width="6.17" height="3.30" fill="#fbe27c"/>
<text transform="translate(7.80,168.80) scale(1.170,1)" font-size="5.80" fill="#000" text-anchor="start" font-weight="bold" font-style="normal" stroke="#000" stroke-width="0.35">Histogram legend</text>
<rect x="19.20" y="173.50" width="5.70" height="5.70" fill="#a3b1b1"/>
<text transform="translate(28.00,178.60) scale(0.930,1)" font-size="6.60" fill="#000" text-anchor="start" font-weight="normal" font-style="normal" stroke="#000" stroke-width="0.22">Missense</text>
<rect x="19.20" y="180.65" width="5.70" height="5.70" fill="#c00000"/>
<text transform="translate(28.00,185.75) scale(0.930,1)" font-size="6.60" fill="#000" text-anchor="start" font-weight="normal" font-style="normal" stroke="#000" stroke-width="0.22">Stop-gained</text>
<rect x="19.20" y="187.80" width="5.70" height="5.70" fill="#000000"/>
<text transform="translate(28.00,192.90) scale(0.930,1)" font-size="6.60" fill="#000" text-anchor="start" font-weight="normal" font-style="normal" stroke="#000" stroke-width="0.22">Frameshift</text>
<rect x="19.20" y="194.95" width="5.70" height="5.70" fill="#22ee11"/>
<text transform="translate(28.00,200.05) scale(0.930,1)" font-size="6.60" fill="#000" text-anchor="start" font-weight="normal" font-style="normal" stroke="#000" stroke-width="0.22">Splicing</text>
<rect x="19.20" y="202.10" width="5.70" height="5.70" fill="#1f78ff"/>
<text transform="translate(28.00,207.20) scale(0.930,1)" font-size="6.60" fill="#000" text-anchor="start" font-weight="normal" font-style="normal" stroke="#000" stroke-width="0.22">Stop-loss</text>
<rect x="19.20" y="209.25" width="5.70" height="5.70" fill="#4a0cff"/>
<text transform="translate(28.00,214.35) scale(0.930,1)" font-size="6.60" fill="#000" text-anchor="start" font-weight="normal" font-style="normal" stroke="#000" stroke-width="0.22">Start-loss</text>
<rect x="19.20" y="216.40" width="5.70" height="5.70" fill="#d9e6f8"/>
<text transform="translate(28.00,221.50) scale(0.930,1)" font-size="6.60" fill="#000" text-anchor="start" font-weight="normal" font-style="normal" stroke="#000" stroke-width="0.22">In frame</text>
<rect x="19.20" y="223.55" width="5.70" height="5.70" fill="#ffb300"/>
<text transform="translate(28.00,228.65) scale(0.930,1)" font-size="6.60" fill="#000" text-anchor="start" font-weight="normal" font-style="normal" stroke="#000" stroke-width="0.22">ASHM</text>
<rect x="19.20" y="230.70" width="5.70" height="5.70" fill="#fdb99c"/>
<text transform="translate(28.00,235.80) scale(0.930,1)" font-size="6.60" fill="#000" text-anchor="start" font-weight="normal" font-style="normal" stroke="#000" stroke-width="0.22">5'/3'-UTR</text>
<rect x="19.20" y="237.85" width="5.70" height="5.70" fill="#b2f09a"/>
<text transform="translate(28.00,242.95) scale(0.930,1)" font-size="6.60" fill="#000" text-anchor="start" font-weight="normal" font-style="normal" stroke="#000" stroke-width="0.22">Synonymous</text>
<text transform="translate(67.90,275.20) scale(1.290,1)" font-size="7.50" fill="#000" text-anchor="start" font-weight="bold" font-style="normal" stroke="#000" stroke-width="0.4">Heatmap legend</text>
<rect x="66.80" y="282.80" width="5.80" height="5.80" fill="#4a12f5"/>
<text x="75.80" y="288.10" font-size="7.05" fill="#000" text-anchor="start" font-weight="normal" font-style="normal" stroke="#000" stroke-width="0.22">DLBCL</text>
<rect x="66.80" y="291.42" width="5.80" height="5.80" fill="#62f28c"/>
<text x="75.80" y="296.72" font-size="7.05" fill="#000" text-anchor="start" font-weight="normal" font-style="normal" stroke="#000" stroke-width="0.22">FL</text>
<rect x="66.80" y="300.04" width="5.80" height="5.80" fill="#ffe88a"/>
<text x="75.80" y="305.34" font-size="7.05" fill="#000" text-anchor="start" font-weight="normal" font-style="normal" stroke="#000" stroke-width="0.22">RS</text>
<rect x="105.20" y="282.80" width="5.80" height="5.80" fill="#ff2410"/>
<text x="113.80" y="288.10" font-size="7.05" fill="#000" text-anchor="start" font-weight="normal" font-style="normal" stroke="#000" stroke-width="0.22">GCB DLBCL</text>
<rect x="105.20" y="291.42" width="5.80" height="5.80" fill="#0e2828"/>
<text x="113.80" y="296.72" font-size="7.05" fill="#000" text-anchor="start" font-weight="normal" font-style="normal" stroke="#000" stroke-width="0.22">Not available</text>
<rect x="105.20" y="300.04" width="5.80" height="5.80" fill="#179a17"/>
<text x="113.80" y="305.34" font-size="7.05" fill="#000" text-anchor="start" font-weight="normal" font-style="normal" stroke="#000" stroke-width="0.22">ABC DLBCL</text>
<rect x="105.20" y="308.66" width="5.80" height="5.80" fill="#0a1e90"/>
<text x="113.80" y="313.96" font-size="7.05" fill="#000" text-anchor="start" font-weight="normal" font-style="normal" stroke="#000" stroke-width="0.22">Unclassified DLBCL</text>
<rect x="182.90" y="282.80" width="5.80" height="5.80" fill="#000000"/>
<text x="191.90" y="288.10" font-size="7.05" fill="#000" text-anchor="start" font-weight="normal" font-style="normal" stroke="#000" stroke-width="0.22">&gt; 1 mutation</text>
<rect x="182.90" y="291.42" width="5.80" height="5.80" fill="#2a7cf2"/>
<text x="191.90" y="296.72" font-size="7.05" fill="#000" text-anchor="start" font-weight="normal" font-style="normal" stroke="#000" stroke-width="0.22">Truncating</text>
<rect x="182.90" y="300.04" width="5.80" height="5.80" fill="#bf0010"/>
<text x="191.90" y="305.34" font-size="7.05" fill="#000" text-anchor="start" font-weight="normal" font-style="normal" stroke="#000" stroke-width="0.22">Missense/inframe</text>
<rect x="182.90" y="308.66" width="5.80" height="5.80" fill="#ffb300"/>
<text x="191.90" y="313.96" font-size="7.05" fill="#000" text-anchor="start" font-weight="normal" font-style="normal" stroke="#000" stroke-width="0.22">ASHM</text>
<rect x="182.90" y="317.28" width="5.80" height="5.80" fill="#9ff07a"/>
<text x="191.90" y="322.58" font-size="7.05" fill="#000" text-anchor="start" font-weight="normal" font-style="normal" stroke="#000" stroke-width="0.22">Synonymous</text>
<rect x="182.90" y="325.90" width="5.80" height="5.80" fill="#f2f4f6"/>
<text x="191.90" y="331.20" font-size="7.05" fill="#000" text-anchor="start" font-weight="normal" font-style="normal" stroke="#000" stroke-width="0.22">WT</text>
<rect x="0.5" y="0.5" width="519" height="337" fill="none" stroke="#000" stroke-width="1.6"/>
</svg></div></body></html>
